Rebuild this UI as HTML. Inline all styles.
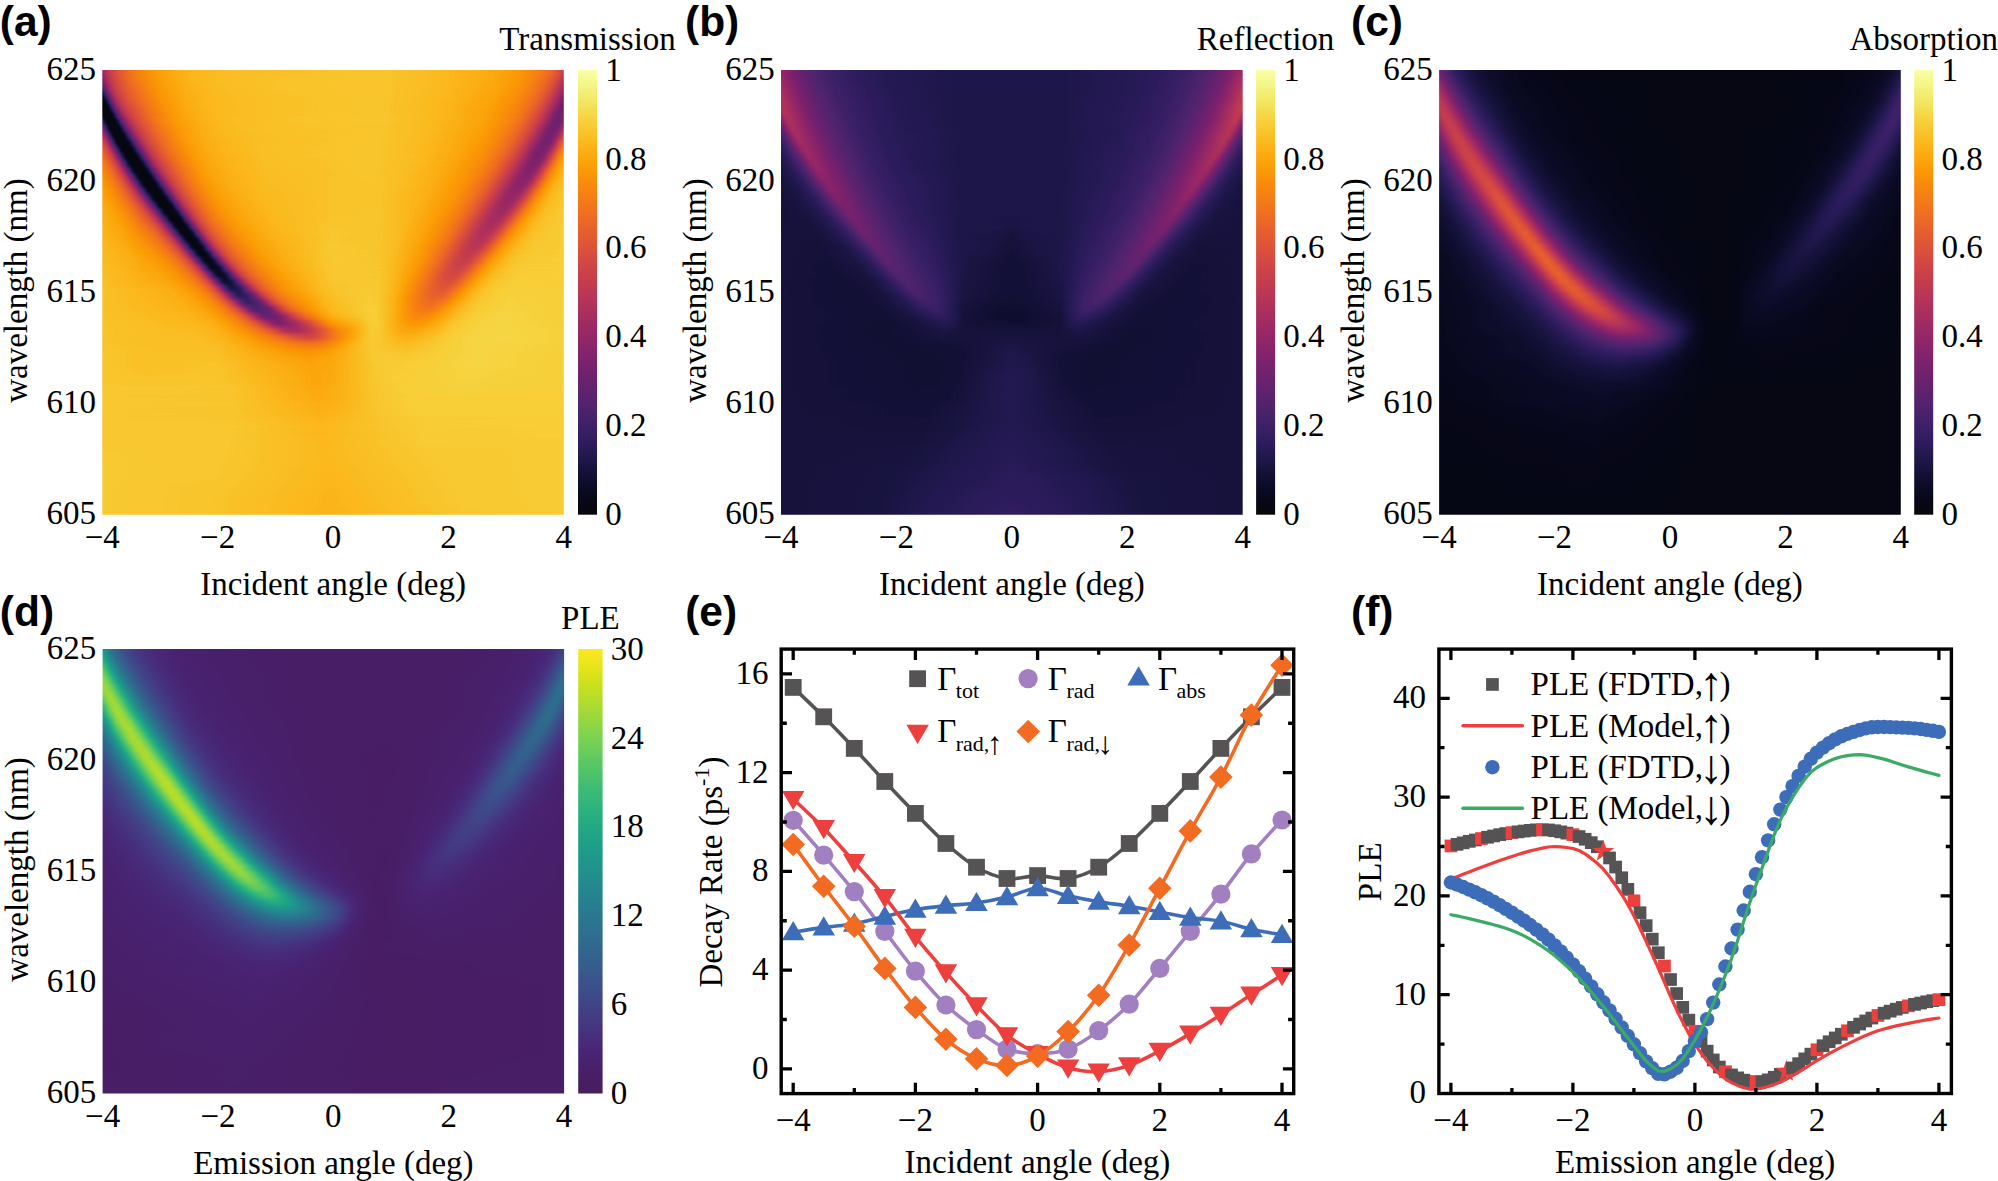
<!DOCTYPE html>
<html lang="en"><head><meta charset="utf-8"><title>Figure</title>
<style>html,body{margin:0;padding:0;background:#fff;overflow:hidden}svg{display:block}text{font-family:"Liberation Serif", serif;fill:#000}.pl{font-family:"Liberation Sans", sans-serif;font-weight:bold}</style>
</head><body>
<svg width="1998" height="1181" viewBox="0 0 1998 1181">
<rect width="1998" height="1181" fill="#fff"/>
<!-- panel a -->
<defs><linearGradient id="a0"><stop offset="0" stop-color="#686868"/><stop offset=".013" stop-color="#808080"/><stop offset=".022" stop-color="#8c8c8c"/><stop offset=".035" stop-color="#9b9b9b"/><stop offset=".056" stop-color="#acacac"/><stop offset=".082" stop-color="#bababa"/><stop offset=".117" stop-color="#c7c7c7"/><stop offset=".152" stop-color="#cfcfcf"/><stop offset=".199" stop-color="#d5d5d5"/><stop offset=".255" stop-color="#d8d8d8"/><stop offset=".602" stop-color="#dcdcdc"/><stop offset=".745" stop-color="#d6d6d6"/><stop offset=".844" stop-color="#cfcfcf"/><stop offset=".905" stop-color="#c5c5c5"/><stop offset=".948" stop-color="#b6b6b6"/><stop offset=".961" stop-color="#afafaf"/><stop offset=".974" stop-color="#a6a6a6"/><stop offset=".987" stop-color="#999999"/><stop offset="1" stop-color="#878787"/></linearGradient><linearGradient id="a1"><stop offset="0" stop-color="#585858"/><stop offset=".004" stop-color="#656565"/><stop offset=".013" stop-color="#797979"/><stop offset=".026" stop-color="#8d8d8d"/><stop offset=".043" stop-color="#9f9f9f"/><stop offset=".069" stop-color="#b1b1b1"/><stop offset=".108" stop-color="#c2c2c2"/><stop offset=".143" stop-color="#cccccc"/><stop offset=".19" stop-color="#d4d4d4"/><stop offset=".251" stop-color="#d8d8d8"/><stop offset=".39" stop-color="#dbdbdb"/><stop offset=".602" stop-color="#dcdcdc"/><stop offset=".749" stop-color="#d6d6d6"/><stop offset=".844" stop-color="#cecece"/><stop offset=".905" stop-color="#c3c3c3"/><stop offset=".926" stop-color="#bcbcbc"/><stop offset=".948" stop-color="#b2b2b2"/><stop offset=".961" stop-color="#aaaaaa"/><stop offset=".974" stop-color="#9e9e9e"/><stop offset=".987" stop-color="#8f8f8f"/><stop offset="1" stop-color="#7b7b7b"/></linearGradient><linearGradient id="a2"><stop offset="0" stop-color="#393939"/><stop offset=".004" stop-color="#4d4d4d"/><stop offset=".009" stop-color="#5f5f5f"/><stop offset=".013" stop-color="#6c6c6c"/><stop offset=".022" stop-color="#808080"/><stop offset=".03" stop-color="#8d8d8d"/><stop offset=".039" stop-color="#969696"/><stop offset=".061" stop-color="#a8a8a8"/><stop offset=".104" stop-color="#bebebe"/><stop offset=".134" stop-color="#c8c8c8"/><stop offset=".182" stop-color="#d2d2d2"/><stop offset=".242" stop-color="#d7d7d7"/><stop offset=".385" stop-color="#dbdbdb"/><stop offset=".602" stop-color="#dcdcdc"/><stop offset=".753" stop-color="#d5d5d5"/><stop offset=".848" stop-color="#cdcdcd"/><stop offset=".905" stop-color="#c1c1c1"/><stop offset=".926" stop-color="#b9b9b9"/><stop offset=".948" stop-color="#adadad"/><stop offset=".961" stop-color="#a3a3a3"/><stop offset=".974" stop-color="#969696"/><stop offset=".987" stop-color="#838383"/><stop offset="1" stop-color="#6d6d6d"/></linearGradient><linearGradient id="a3"><stop offset="0" stop-color="#131313"/><stop offset=".004" stop-color="#272727"/><stop offset=".013" stop-color="#535353"/><stop offset=".017" stop-color="#646464"/><stop offset=".022" stop-color="#717171"/><stop offset=".026" stop-color="#7b7b7b"/><stop offset=".035" stop-color="#8a8a8a"/><stop offset=".052" stop-color="#9c9c9c"/><stop offset=".069" stop-color="#a8a8a8"/><stop offset=".091" stop-color="#b4b4b4"/><stop offset=".126" stop-color="#c4c4c4"/><stop offset=".173" stop-color="#cfcfcf"/><stop offset=".229" stop-color="#d6d6d6"/><stop offset=".372" stop-color="#dadada"/><stop offset=".602" stop-color="#dcdcdc"/><stop offset=".753" stop-color="#d5d5d5"/><stop offset=".848" stop-color="#cbcbcb"/><stop offset=".879" stop-color="#c5c5c5"/><stop offset=".905" stop-color="#bebebe"/><stop offset=".926" stop-color="#b5b5b5"/><stop offset=".944" stop-color="#aaaaaa"/><stop offset=".957" stop-color="#a0a0a0"/><stop offset=".97" stop-color="#919191"/><stop offset=".983" stop-color="#7e7e7e"/><stop offset="1" stop-color="#5e5e5e"/></linearGradient><linearGradient id="a4"><stop offset="0" stop-color="#030303"/><stop offset=".004" stop-color="#080808"/><stop offset=".009" stop-color="#161616"/><stop offset=".022" stop-color="#575757"/><stop offset=".026" stop-color="#676767"/><stop offset=".03" stop-color="#747474"/><stop offset=".039" stop-color="#858585"/><stop offset=".048" stop-color="#909090"/><stop offset=".056" stop-color="#999999"/><stop offset=".069" stop-color="#a2a2a2"/><stop offset=".095" stop-color="#b2b2b2"/><stop offset=".13" stop-color="#c3c3c3"/><stop offset=".173" stop-color="#cecece"/><stop offset=".234" stop-color="#d6d6d6"/><stop offset=".377" stop-color="#dadada"/><stop offset=".602" stop-color="#dcdcdc"/><stop offset=".753" stop-color="#d4d4d4"/><stop offset=".848" stop-color="#cacaca"/><stop offset=".9" stop-color="#bcbcbc"/><stop offset=".922" stop-color="#b2b2b2"/><stop offset=".939" stop-color="#a7a7a7"/><stop offset=".952" stop-color="#9c9c9c"/><stop offset=".965" stop-color="#8c8c8c"/><stop offset=".974" stop-color="#7f7f7f"/><stop offset="1" stop-color="#525252"/></linearGradient><linearGradient id="a5"><stop offset="0" stop-color="#030303"/><stop offset=".009" stop-color="#030303"/><stop offset=".013" stop-color="#0a0a0a"/><stop offset=".017" stop-color="#191919"/><stop offset=".026" stop-color="#464646"/><stop offset=".03" stop-color="#5a5a5a"/><stop offset=".035" stop-color="#696969"/><stop offset=".039" stop-color="#757575"/><stop offset=".043" stop-color="#7e7e7e"/><stop offset=".052" stop-color="#8b8b8b"/><stop offset=".065" stop-color="#989898"/><stop offset=".104" stop-color="#b3b3b3"/><stop offset=".139" stop-color="#c3c3c3"/><stop offset=".182" stop-color="#cfcfcf"/><stop offset=".238" stop-color="#d6d6d6"/><stop offset=".377" stop-color="#dadada"/><stop offset=".602" stop-color="#dcdcdc"/><stop offset=".749" stop-color="#d4d4d4"/><stop offset=".84" stop-color="#cacaca"/><stop offset=".892" stop-color="#bcbcbc"/><stop offset=".913" stop-color="#b3b3b3"/><stop offset=".931" stop-color="#a7a7a7"/><stop offset=".944" stop-color="#9c9c9c"/><stop offset=".957" stop-color="#8d8d8d"/><stop offset=".97" stop-color="#797979"/><stop offset=".991" stop-color="#535353"/><stop offset=".996" stop-color="#4e4e4e"/><stop offset="1" stop-color="#4d4d4d"/></linearGradient><linearGradient id="a6"><stop offset="0" stop-color="#0b0b0b"/><stop offset=".004" stop-color="#030303"/><stop offset=".017" stop-color="#030303"/><stop offset=".022" stop-color="#0b0b0b"/><stop offset=".026" stop-color="#1c1c1c"/><stop offset=".035" stop-color="#484848"/><stop offset=".039" stop-color="#5b5b5b"/><stop offset=".043" stop-color="#696969"/><stop offset=".048" stop-color="#757575"/><stop offset=".056" stop-color="#848484"/><stop offset=".065" stop-color="#8f8f8f"/><stop offset=".074" stop-color="#989898"/><stop offset=".108" stop-color="#b1b1b1"/><stop offset=".143" stop-color="#c2c2c2"/><stop offset=".186" stop-color="#cecece"/><stop offset=".242" stop-color="#d6d6d6"/><stop offset=".381" stop-color="#dadada"/><stop offset=".602" stop-color="#dcdcdc"/><stop offset=".74" stop-color="#d5d5d5"/><stop offset=".831" stop-color="#cacaca"/><stop offset=".883" stop-color="#bcbcbc"/><stop offset=".9" stop-color="#b5b5b5"/><stop offset=".918" stop-color="#aaaaaa"/><stop offset=".935" stop-color="#9c9c9c"/><stop offset=".948" stop-color="#8d8d8d"/><stop offset=".961" stop-color="#7b7b7b"/><stop offset=".978" stop-color="#5c5c5c"/><stop offset=".987" stop-color="#505050"/><stop offset=".996" stop-color="#4f4f4f"/><stop offset="1" stop-color="#515151"/></linearGradient><linearGradient id="a7"><stop offset="0" stop-color="#313131"/><stop offset=".004" stop-color="#1a1a1a"/><stop offset=".009" stop-color="#0a0a0a"/><stop offset=".013" stop-color="#030303"/><stop offset=".026" stop-color="#030303"/><stop offset=".03" stop-color="#0d0d0d"/><stop offset=".035" stop-color="#1e1e1e"/><stop offset=".043" stop-color="#484848"/><stop offset=".048" stop-color="#5a5a5a"/><stop offset=".052" stop-color="#686868"/><stop offset=".056" stop-color="#737373"/><stop offset=".061" stop-color="#7c7c7c"/><stop offset=".069" stop-color="#898989"/><stop offset=".091" stop-color="#9f9f9f"/><stop offset=".108" stop-color="#acacac"/><stop offset=".126" stop-color="#b7b7b7"/><stop offset=".165" stop-color="#c7c7c7"/><stop offset=".216" stop-color="#d2d2d2"/><stop offset=".277" stop-color="#d7d7d7"/><stop offset=".394" stop-color="#dadada"/><stop offset=".602" stop-color="#dcdcdc"/><stop offset=".723" stop-color="#d5d5d5"/><stop offset=".818" stop-color="#cbcbcb"/><stop offset=".848" stop-color="#c5c5c5"/><stop offset=".874" stop-color="#bcbcbc"/><stop offset=".896" stop-color="#b3b3b3"/><stop offset=".913" stop-color="#a7a7a7"/><stop offset=".931" stop-color="#979797"/><stop offset=".944" stop-color="#888888"/><stop offset=".957" stop-color="#747474"/><stop offset=".974" stop-color="#575757"/><stop offset=".978" stop-color="#515151"/><stop offset=".983" stop-color="#4f4f4f"/><stop offset=".991" stop-color="#515151"/><stop offset=".996" stop-color="#575757"/><stop offset="1" stop-color="#5f5f5f"/></linearGradient><linearGradient id="a8"><stop offset="0" stop-color="#5f5f5f"/><stop offset=".013" stop-color="#171717"/><stop offset=".017" stop-color="#080808"/><stop offset=".022" stop-color="#030303"/><stop offset=".035" stop-color="#040404"/><stop offset=".039" stop-color="#0d0d0d"/><stop offset=".043" stop-color="#1e1e1e"/><stop offset=".052" stop-color="#464646"/><stop offset=".056" stop-color="#585858"/><stop offset=".061" stop-color="#666666"/><stop offset=".069" stop-color="#7b7b7b"/><stop offset=".078" stop-color="#888888"/><stop offset=".091" stop-color="#979797"/><stop offset=".121" stop-color="#afafaf"/><stop offset=".143" stop-color="#bbbbbb"/><stop offset=".165" stop-color="#c4c4c4"/><stop offset=".212" stop-color="#d0d0d0"/><stop offset=".26" stop-color="#d6d6d6"/><stop offset=".359" stop-color="#dadada"/><stop offset=".61" stop-color="#dbdbdb"/><stop offset=".714" stop-color="#d6d6d6"/><stop offset=".797" stop-color="#cdcdcd"/><stop offset=".831" stop-color="#c7c7c7"/><stop offset=".857" stop-color="#bfbfbf"/><stop offset=".879" stop-color="#b7b7b7"/><stop offset=".9" stop-color="#aaaaaa"/><stop offset=".918" stop-color="#9c9c9c"/><stop offset=".931" stop-color="#8d8d8d"/><stop offset=".944" stop-color="#7b7b7b"/><stop offset=".965" stop-color="#585858"/><stop offset=".97" stop-color="#535353"/><stop offset=".974" stop-color="#505050"/><stop offset=".983" stop-color="#525252"/><stop offset=".987" stop-color="#565656"/><stop offset=".991" stop-color="#5f5f5f"/><stop offset="1" stop-color="#787878"/></linearGradient><linearGradient id="a9"><stop offset="0" stop-color="#7f7f7f"/><stop offset=".004" stop-color="#707070"/><stop offset=".009" stop-color="#5c5c5c"/><stop offset=".017" stop-color="#2b2b2b"/><stop offset=".022" stop-color="#151515"/><stop offset=".026" stop-color="#070707"/><stop offset=".03" stop-color="#030303"/><stop offset=".039" stop-color="#030303"/><stop offset=".043" stop-color="#040404"/><stop offset=".048" stop-color="#0c0c0c"/><stop offset=".052" stop-color="#1c1c1c"/><stop offset=".065" stop-color="#555555"/><stop offset=".069" stop-color="#636363"/><stop offset=".074" stop-color="#6f6f6f"/><stop offset=".082" stop-color="#818181"/><stop offset=".095" stop-color="#929292"/><stop offset=".121" stop-color="#aaaaaa"/><stop offset=".152" stop-color="#bcbcbc"/><stop offset=".182" stop-color="#c8c8c8"/><stop offset=".225" stop-color="#d2d2d2"/><stop offset=".273" stop-color="#d6d6d6"/><stop offset=".359" stop-color="#d9d9d9"/><stop offset=".593" stop-color="#dcdcdc"/><stop offset=".71" stop-color="#d6d6d6"/><stop offset=".801" stop-color="#cbcbcb"/><stop offset=".831" stop-color="#c5c5c5"/><stop offset=".857" stop-color="#bcbcbc"/><stop offset=".879" stop-color="#b2b2b2"/><stop offset=".896" stop-color="#a7a7a7"/><stop offset=".909" stop-color="#9c9c9c"/><stop offset=".922" stop-color="#8d8d8d"/><stop offset=".935" stop-color="#7b7b7b"/><stop offset=".957" stop-color="#595959"/><stop offset=".965" stop-color="#515151"/><stop offset=".974" stop-color="#525252"/><stop offset=".978" stop-color="#565656"/><stop offset=".983" stop-color="#5e5e5e"/><stop offset=".987" stop-color="#696969"/><stop offset="1" stop-color="#939393"/></linearGradient><linearGradient id="a10"><stop offset="0" stop-color="#959595"/><stop offset=".004" stop-color="#8b8b8b"/><stop offset=".009" stop-color="#7e7e7e"/><stop offset=".013" stop-color="#6d6d6d"/><stop offset=".017" stop-color="#595959"/><stop offset=".026" stop-color="#282828"/><stop offset=".03" stop-color="#131313"/><stop offset=".035" stop-color="#060606"/><stop offset=".039" stop-color="#030303"/><stop offset=".052" stop-color="#030303"/><stop offset=".056" stop-color="#0b0b0b"/><stop offset=".061" stop-color="#191919"/><stop offset=".074" stop-color="#515151"/><stop offset=".078" stop-color="#606060"/><stop offset=".082" stop-color="#6d6d6d"/><stop offset=".091" stop-color="#808080"/><stop offset=".104" stop-color="#929292"/><stop offset=".126" stop-color="#a7a7a7"/><stop offset=".156" stop-color="#bababa"/><stop offset=".186" stop-color="#c7c7c7"/><stop offset=".225" stop-color="#d0d0d0"/><stop offset=".273" stop-color="#d5d5d5"/><stop offset=".355" stop-color="#d9d9d9"/><stop offset=".593" stop-color="#dcdcdc"/><stop offset=".701" stop-color="#d6d6d6"/><stop offset=".788" stop-color="#cccccc"/><stop offset=".818" stop-color="#c6c6c6"/><stop offset=".844" stop-color="#bebebe"/><stop offset=".866" stop-color="#b4b4b4"/><stop offset=".883" stop-color="#aaaaaa"/><stop offset=".9" stop-color="#9c9c9c"/><stop offset=".913" stop-color="#8d8d8d"/><stop offset=".926" stop-color="#7b7b7b"/><stop offset=".944" stop-color="#606060"/><stop offset=".952" stop-color="#555555"/><stop offset=".961" stop-color="#525252"/><stop offset=".97" stop-color="#575757"/><stop offset=".974" stop-color="#5e5e5e"/><stop offset=".978" stop-color="#686868"/><stop offset=".991" stop-color="#929292"/><stop offset="1" stop-color="#ababab"/></linearGradient><linearGradient id="a11"><stop offset="0" stop-color="#a3a3a3"/><stop offset=".009" stop-color="#949494"/><stop offset=".013" stop-color="#898989"/><stop offset=".017" stop-color="#7c7c7c"/><stop offset=".022" stop-color="#6b6b6b"/><stop offset=".026" stop-color="#565656"/><stop offset=".035" stop-color="#262626"/><stop offset=".039" stop-color="#131313"/><stop offset=".043" stop-color="#070707"/><stop offset=".048" stop-color="#030303"/><stop offset=".061" stop-color="#030303"/><stop offset=".065" stop-color="#090909"/><stop offset=".069" stop-color="#151515"/><stop offset=".082" stop-color="#4c4c4c"/><stop offset=".087" stop-color="#5d5d5d"/><stop offset=".091" stop-color="#6a6a6a"/><stop offset=".1" stop-color="#7f7f7f"/><stop offset=".113" stop-color="#929292"/><stop offset=".134" stop-color="#a7a7a7"/><stop offset=".16" stop-color="#b8b8b8"/><stop offset=".19" stop-color="#c5c5c5"/><stop offset=".225" stop-color="#cfcfcf"/><stop offset=".273" stop-color="#d5d5d5"/><stop offset=".351" stop-color="#d9d9d9"/><stop offset=".589" stop-color="#dcdcdc"/><stop offset=".693" stop-color="#d6d6d6"/><stop offset=".775" stop-color="#cdcdcd"/><stop offset=".831" stop-color="#bfbfbf"/><stop offset=".853" stop-color="#b6b6b6"/><stop offset=".87" stop-color="#adadad"/><stop offset=".887" stop-color="#9f9f9f"/><stop offset=".9" stop-color="#929292"/><stop offset=".913" stop-color="#818181"/><stop offset=".939" stop-color="#5b5b5b"/><stop offset=".944" stop-color="#565656"/><stop offset=".952" stop-color="#545454"/><stop offset=".961" stop-color="#585858"/><stop offset=".965" stop-color="#5e5e5e"/><stop offset=".97" stop-color="#686868"/><stop offset=".974" stop-color="#747474"/><stop offset=".983" stop-color="#909090"/><stop offset=".991" stop-color="#a9a9a9"/><stop offset="1" stop-color="#bbbbbb"/></linearGradient><linearGradient id="a12"><stop offset="0" stop-color="#aeaeae"/><stop offset=".013" stop-color="#9b9b9b"/><stop offset=".022" stop-color="#888888"/><stop offset=".026" stop-color="#7a7a7a"/><stop offset=".03" stop-color="#696969"/><stop offset=".035" stop-color="#555555"/><stop offset=".043" stop-color="#272727"/><stop offset=".048" stop-color="#141414"/><stop offset=".052" stop-color="#080808"/><stop offset=".056" stop-color="#030303"/><stop offset=".069" stop-color="#030303"/><stop offset=".074" stop-color="#070707"/><stop offset=".078" stop-color="#111111"/><stop offset=".082" stop-color="#212121"/><stop offset=".095" stop-color="#5a5a5a"/><stop offset=".1" stop-color="#686868"/><stop offset=".108" stop-color="#7e7e7e"/><stop offset=".121" stop-color="#929292"/><stop offset=".143" stop-color="#a7a7a7"/><stop offset=".169" stop-color="#b8b8b8"/><stop offset=".199" stop-color="#c6c6c6"/><stop offset=".229" stop-color="#cecece"/><stop offset=".277" stop-color="#d4d4d4"/><stop offset=".355" stop-color="#d9d9d9"/><stop offset=".589" stop-color="#dcdcdc"/><stop offset=".684" stop-color="#d7d7d7"/><stop offset=".766" stop-color="#cdcdcd"/><stop offset=".823" stop-color="#bfbfbf"/><stop offset=".844" stop-color="#b6b6b6"/><stop offset=".861" stop-color="#acacac"/><stop offset=".879" stop-color="#9f9f9f"/><stop offset=".892" stop-color="#929292"/><stop offset=".905" stop-color="#818181"/><stop offset=".931" stop-color="#5c5c5c"/><stop offset=".935" stop-color="#575757"/><stop offset=".944" stop-color="#555555"/><stop offset=".952" stop-color="#595959"/><stop offset=".957" stop-color="#5f5f5f"/><stop offset=".961" stop-color="#686868"/><stop offset=".965" stop-color="#747474"/><stop offset=".983" stop-color="#a8a8a8"/><stop offset=".991" stop-color="#bbbbbb"/><stop offset="1" stop-color="#c7c7c7"/></linearGradient><linearGradient id="a13"><stop offset="0" stop-color="#b7b7b7"/><stop offset=".009" stop-color="#aeaeae"/><stop offset=".017" stop-color="#a2a2a2"/><stop offset=".026" stop-color="#919191"/><stop offset=".03" stop-color="#868686"/><stop offset=".035" stop-color="#797979"/><stop offset=".039" stop-color="#696969"/><stop offset=".043" stop-color="#565656"/><stop offset=".052" stop-color="#2a2a2a"/><stop offset=".056" stop-color="#161616"/><stop offset=".061" stop-color="#090909"/><stop offset=".065" stop-color="#030303"/><stop offset=".078" stop-color="#030303"/><stop offset=".082" stop-color="#050505"/><stop offset=".087" stop-color="#0d0d0d"/><stop offset=".091" stop-color="#1c1c1c"/><stop offset=".104" stop-color="#565656"/><stop offset=".108" stop-color="#656565"/><stop offset=".113" stop-color="#727272"/><stop offset=".121" stop-color="#848484"/><stop offset=".13" stop-color="#919191"/><stop offset=".152" stop-color="#a6a6a6"/><stop offset=".173" stop-color="#b6b6b6"/><stop offset=".203" stop-color="#c5c5c5"/><stop offset=".234" stop-color="#cecece"/><stop offset=".281" stop-color="#d4d4d4"/><stop offset=".359" stop-color="#d9d9d9"/><stop offset=".589" stop-color="#dcdcdc"/><stop offset=".68" stop-color="#d7d7d7"/><stop offset=".758" stop-color="#cdcdcd"/><stop offset=".814" stop-color="#bfbfbf"/><stop offset=".835" stop-color="#b6b6b6"/><stop offset=".853" stop-color="#acacac"/><stop offset=".87" stop-color="#9e9e9e"/><stop offset=".883" stop-color="#919191"/><stop offset=".922" stop-color="#5d5d5d"/><stop offset=".926" stop-color="#595959"/><stop offset=".935" stop-color="#575757"/><stop offset=".944" stop-color="#5c5c5c"/><stop offset=".948" stop-color="#626262"/><stop offset=".957" stop-color="#757575"/><stop offset=".97" stop-color="#9b9b9b"/><stop offset=".978" stop-color="#b1b1b1"/><stop offset=".987" stop-color="#c1c1c1"/><stop offset="1" stop-color="#cfcfcf"/></linearGradient><linearGradient id="a14"><stop offset="0" stop-color="#bdbdbd"/><stop offset=".013" stop-color="#b2b2b2"/><stop offset=".022" stop-color="#a8a8a8"/><stop offset=".03" stop-color="#9a9a9a"/><stop offset=".039" stop-color="#868686"/><stop offset=".043" stop-color="#7a7a7a"/><stop offset=".048" stop-color="#6a6a6a"/><stop offset=".052" stop-color="#585858"/><stop offset=".065" stop-color="#1a1a1a"/><stop offset=".069" stop-color="#0c0c0c"/><stop offset=".074" stop-color="#040404"/><stop offset=".091" stop-color="#030303"/><stop offset=".095" stop-color="#0a0a0a"/><stop offset=".1" stop-color="#171717"/><stop offset=".113" stop-color="#515151"/><stop offset=".117" stop-color="#626262"/><stop offset=".121" stop-color="#6f6f6f"/><stop offset=".13" stop-color="#828282"/><stop offset=".139" stop-color="#909090"/><stop offset=".156" stop-color="#a2a2a2"/><stop offset=".182" stop-color="#b6b6b6"/><stop offset=".212" stop-color="#c5c5c5"/><stop offset=".238" stop-color="#cdcdcd"/><stop offset=".286" stop-color="#d4d4d4"/><stop offset=".359" stop-color="#d8d8d8"/><stop offset=".584" stop-color="#dcdcdc"/><stop offset=".667" stop-color="#d7d7d7"/><stop offset=".745" stop-color="#cecece"/><stop offset=".801" stop-color="#c0c0c0"/><stop offset=".823" stop-color="#b8b8b8"/><stop offset=".84" stop-color="#aeaeae"/><stop offset=".857" stop-color="#a2a2a2"/><stop offset=".87" stop-color="#959595"/><stop offset=".883" stop-color="#868686"/><stop offset=".913" stop-color="#5e5e5e"/><stop offset=".918" stop-color="#5b5b5b"/><stop offset=".926" stop-color="#5a5a5a"/><stop offset=".935" stop-color="#5f5f5f"/><stop offset=".944" stop-color="#6d6d6d"/><stop offset=".965" stop-color="#a7a7a7"/><stop offset=".974" stop-color="#b9b9b9"/><stop offset=".987" stop-color="#cbcbcb"/><stop offset="1" stop-color="#d4d4d4"/></linearGradient><linearGradient id="a15"><stop offset="0" stop-color="#c2c2c2"/><stop offset=".013" stop-color="#b9b9b9"/><stop offset=".022" stop-color="#b1b1b1"/><stop offset=".03" stop-color="#a7a7a7"/><stop offset=".039" stop-color="#9a9a9a"/><stop offset=".048" stop-color="#878787"/><stop offset=".056" stop-color="#6d6d6d"/><stop offset=".061" stop-color="#5c5c5c"/><stop offset=".074" stop-color="#202020"/><stop offset=".078" stop-color="#101010"/><stop offset=".082" stop-color="#060606"/><stop offset=".087" stop-color="#030303"/><stop offset=".1" stop-color="#030303"/><stop offset=".104" stop-color="#070707"/><stop offset=".108" stop-color="#121212"/><stop offset=".113" stop-color="#232323"/><stop offset=".121" stop-color="#4b4b4b"/><stop offset=".126" stop-color="#5d5d5d"/><stop offset=".13" stop-color="#6b6b6b"/><stop offset=".139" stop-color="#808080"/><stop offset=".147" stop-color="#8e8e8e"/><stop offset=".165" stop-color="#a2a2a2"/><stop offset=".186" stop-color="#b3b3b3"/><stop offset=".216" stop-color="#c4c4c4"/><stop offset=".242" stop-color="#cccccc"/><stop offset=".29" stop-color="#d3d3d3"/><stop offset=".364" stop-color="#d8d8d8"/><stop offset=".576" stop-color="#dcdcdc"/><stop offset=".641" stop-color="#d9d9d9"/><stop offset=".732" stop-color="#cfcfcf"/><stop offset=".788" stop-color="#c2c2c2"/><stop offset=".81" stop-color="#bababa"/><stop offset=".831" stop-color="#aeaeae"/><stop offset=".848" stop-color="#a1a1a1"/><stop offset=".861" stop-color="#959595"/><stop offset=".9" stop-color="#646464"/><stop offset=".905" stop-color="#606060"/><stop offset=".913" stop-color="#5d5d5d"/><stop offset=".922" stop-color="#5e5e5e"/><stop offset=".931" stop-color="#686868"/><stop offset=".939" stop-color="#7b7b7b"/><stop offset=".957" stop-color="#a7a7a7"/><stop offset=".97" stop-color="#c0c0c0"/><stop offset=".983" stop-color="#cecece"/><stop offset="1" stop-color="#d8d8d8"/></linearGradient><linearGradient id="a16"><stop offset="0" stop-color="#c6c6c6"/><stop offset=".013" stop-color="#bfbfbf"/><stop offset=".026" stop-color="#b5b5b5"/><stop offset=".039" stop-color="#a7a7a7"/><stop offset=".048" stop-color="#9a9a9a"/><stop offset=".056" stop-color="#898989"/><stop offset=".065" stop-color="#717171"/><stop offset=".069" stop-color="#616161"/><stop offset=".074" stop-color="#4f4f4f"/><stop offset=".082" stop-color="#262626"/><stop offset=".087" stop-color="#151515"/><stop offset=".091" stop-color="#090909"/><stop offset=".095" stop-color="#030303"/><stop offset=".108" stop-color="#030303"/><stop offset=".113" stop-color="#040404"/><stop offset=".117" stop-color="#0d0d0d"/><stop offset=".121" stop-color="#1c1c1c"/><stop offset=".134" stop-color="#565656"/><stop offset=".139" stop-color="#666666"/><stop offset=".147" stop-color="#7d7d7d"/><stop offset=".156" stop-color="#8d8d8d"/><stop offset=".173" stop-color="#a1a1a1"/><stop offset=".195" stop-color="#b3b3b3"/><stop offset=".221" stop-color="#c2c2c2"/><stop offset=".247" stop-color="#cbcbcb"/><stop offset=".286" stop-color="#d2d2d2"/><stop offset=".346" stop-color="#d7d7d7"/><stop offset=".502" stop-color="#dbdbdb"/><stop offset=".61" stop-color="#dbdbdb"/><stop offset=".667" stop-color="#d7d7d7"/><stop offset=".719" stop-color="#d0d0d0"/><stop offset=".775" stop-color="#c3c3c3"/><stop offset=".797" stop-color="#bbbbbb"/><stop offset=".818" stop-color="#b0b0b0"/><stop offset=".835" stop-color="#a4a4a4"/><stop offset=".848" stop-color="#989898"/><stop offset=".892" stop-color="#646464"/><stop offset=".896" stop-color="#616161"/><stop offset=".905" stop-color="#606060"/><stop offset=".913" stop-color="#626262"/><stop offset=".922" stop-color="#6d6d6d"/><stop offset=".931" stop-color="#7f7f7f"/><stop offset=".948" stop-color="#a9a9a9"/><stop offset=".961" stop-color="#c0c0c0"/><stop offset=".97" stop-color="#cacaca"/><stop offset=".978" stop-color="#d1d1d1"/><stop offset="1" stop-color="#dadada"/></linearGradient><linearGradient id="a17"><stop offset="0" stop-color="#cacaca"/><stop offset=".017" stop-color="#c2c2c2"/><stop offset=".03" stop-color="#b9b9b9"/><stop offset=".043" stop-color="#adadad"/><stop offset=".056" stop-color="#9c9c9c"/><stop offset=".065" stop-color="#8c8c8c"/><stop offset=".074" stop-color="#757575"/><stop offset=".082" stop-color="#565656"/><stop offset=".095" stop-color="#1d1d1d"/><stop offset=".1" stop-color="#0f0f0f"/><stop offset=".104" stop-color="#050505"/><stop offset=".108" stop-color="#030303"/><stop offset=".121" stop-color="#030303"/><stop offset=".126" stop-color="#080808"/><stop offset=".13" stop-color="#141414"/><stop offset=".134" stop-color="#262626"/><stop offset=".143" stop-color="#4f4f4f"/><stop offset=".147" stop-color="#616161"/><stop offset=".152" stop-color="#6f6f6f"/><stop offset=".156" stop-color="#7a7a7a"/><stop offset=".165" stop-color="#8b8b8b"/><stop offset=".182" stop-color="#a1a1a1"/><stop offset=".203" stop-color="#b3b3b3"/><stop offset=".225" stop-color="#c0c0c0"/><stop offset=".251" stop-color="#cacaca"/><stop offset=".29" stop-color="#d1d1d1"/><stop offset=".346" stop-color="#d6d6d6"/><stop offset=".498" stop-color="#dbdbdb"/><stop offset=".606" stop-color="#dbdbdb"/><stop offset=".706" stop-color="#d1d1d1"/><stop offset=".762" stop-color="#c5c5c5"/><stop offset=".784" stop-color="#bdbdbd"/><stop offset=".805" stop-color="#b2b2b2"/><stop offset=".823" stop-color="#a7a7a7"/><stop offset=".84" stop-color="#989898"/><stop offset=".874" stop-color="#6e6e6e"/><stop offset=".883" stop-color="#666666"/><stop offset=".896" stop-color="#636363"/><stop offset=".905" stop-color="#666666"/><stop offset=".913" stop-color="#727272"/><stop offset=".939" stop-color="#acacac"/><stop offset=".948" stop-color="#bababa"/><stop offset=".957" stop-color="#c6c6c6"/><stop offset=".974" stop-color="#d4d4d4"/><stop offset="1" stop-color="#dcdcdc"/></linearGradient><linearGradient id="a18"><stop offset="0" stop-color="#cccccc"/><stop offset=".017" stop-color="#c6c6c6"/><stop offset=".035" stop-color="#bcbcbc"/><stop offset=".052" stop-color="#adadad"/><stop offset=".065" stop-color="#9d9d9d"/><stop offset=".078" stop-color="#858585"/><stop offset=".087" stop-color="#6e6e6e"/><stop offset=".095" stop-color="#4d4d4d"/><stop offset=".104" stop-color="#272727"/><stop offset=".108" stop-color="#161616"/><stop offset=".113" stop-color="#0a0a0a"/><stop offset=".117" stop-color="#030303"/><stop offset=".13" stop-color="#030303"/><stop offset=".134" stop-color="#040404"/><stop offset=".139" stop-color="#0d0d0d"/><stop offset=".143" stop-color="#1d1d1d"/><stop offset=".156" stop-color="#5a5a5a"/><stop offset=".16" stop-color="#6a6a6a"/><stop offset=".165" stop-color="#767676"/><stop offset=".169" stop-color="#808080"/><stop offset=".177" stop-color="#909090"/><stop offset=".195" stop-color="#a4a4a4"/><stop offset=".216" stop-color="#b6b6b6"/><stop offset=".238" stop-color="#c2c2c2"/><stop offset=".26" stop-color="#c9c9c9"/><stop offset=".299" stop-color="#d1d1d1"/><stop offset=".351" stop-color="#d6d6d6"/><stop offset=".498" stop-color="#dbdbdb"/><stop offset=".606" stop-color="#dbdbdb"/><stop offset=".697" stop-color="#d2d2d2"/><stop offset=".758" stop-color="#c4c4c4"/><stop offset=".779" stop-color="#bbbbbb"/><stop offset=".797" stop-color="#b2b2b2"/><stop offset=".814" stop-color="#a6a6a6"/><stop offset=".827" stop-color="#9b9b9b"/><stop offset=".87" stop-color="#6b6b6b"/><stop offset=".874" stop-color="#686868"/><stop offset=".883" stop-color="#666666"/><stop offset=".892" stop-color="#686868"/><stop offset=".9" stop-color="#707070"/><stop offset=".909" stop-color="#808080"/><stop offset=".931" stop-color="#aeaeae"/><stop offset=".939" stop-color="#bcbcbc"/><stop offset=".948" stop-color="#c6c6c6"/><stop offset=".957" stop-color="#cecece"/><stop offset=".97" stop-color="#d6d6d6"/><stop offset="1" stop-color="#dddddd"/></linearGradient><linearGradient id="a19"><stop offset="0" stop-color="#cfcfcf"/><stop offset=".022" stop-color="#c8c8c8"/><stop offset=".043" stop-color="#bcbcbc"/><stop offset=".061" stop-color="#aeaeae"/><stop offset=".074" stop-color="#a0a0a0"/><stop offset=".087" stop-color="#8a8a8a"/><stop offset=".095" stop-color="#767676"/><stop offset=".104" stop-color="#595959"/><stop offset=".117" stop-color="#212121"/><stop offset=".121" stop-color="#111111"/><stop offset=".126" stop-color="#070707"/><stop offset=".13" stop-color="#030303"/><stop offset=".143" stop-color="#030303"/><stop offset=".147" stop-color="#080808"/><stop offset=".152" stop-color="#141414"/><stop offset=".156" stop-color="#272727"/><stop offset=".165" stop-color="#525252"/><stop offset=".169" stop-color="#636363"/><stop offset=".173" stop-color="#727272"/><stop offset=".177" stop-color="#7d7d7d"/><stop offset=".186" stop-color="#8d8d8d"/><stop offset=".203" stop-color="#a3a3a3"/><stop offset=".225" stop-color="#b6b6b6"/><stop offset=".247" stop-color="#c2c2c2"/><stop offset=".273" stop-color="#cacaca"/><stop offset=".307" stop-color="#d0d0d0"/><stop offset=".359" stop-color="#d6d6d6"/><stop offset=".498" stop-color="#dbdbdb"/><stop offset=".602" stop-color="#dbdbdb"/><stop offset=".688" stop-color="#d2d2d2"/><stop offset=".745" stop-color="#c5c5c5"/><stop offset=".766" stop-color="#bdbdbd"/><stop offset=".784" stop-color="#b4b4b4"/><stop offset=".801" stop-color="#a9a9a9"/><stop offset=".818" stop-color="#9a9a9a"/><stop offset=".857" stop-color="#6f6f6f"/><stop offset=".866" stop-color="#6a6a6a"/><stop offset=".874" stop-color="#696969"/><stop offset=".883" stop-color="#6c6c6c"/><stop offset=".892" stop-color="#767676"/><stop offset=".922" stop-color="#b2b2b2"/><stop offset=".931" stop-color="#bebebe"/><stop offset=".939" stop-color="#c8c8c8"/><stop offset=".952" stop-color="#d1d1d1"/><stop offset=".965" stop-color="#d7d7d7"/><stop offset="1" stop-color="#dedede"/></linearGradient><linearGradient id="a20"><stop offset="0" stop-color="#d1d1d1"/><stop offset=".026" stop-color="#c9c9c9"/><stop offset=".052" stop-color="#bdbdbd"/><stop offset=".069" stop-color="#b0b0b0"/><stop offset=".087" stop-color="#9d9d9d"/><stop offset=".1" stop-color="#888888"/><stop offset=".108" stop-color="#737373"/><stop offset=".113" stop-color="#656565"/><stop offset=".117" stop-color="#555555"/><stop offset=".13" stop-color="#1c1c1c"/><stop offset=".134" stop-color="#0d0d0d"/><stop offset=".139" stop-color="#050505"/><stop offset=".152" stop-color="#030303"/><stop offset=".156" stop-color="#040404"/><stop offset=".16" stop-color="#0d0d0d"/><stop offset=".165" stop-color="#1d1d1d"/><stop offset=".177" stop-color="#5b5b5b"/><stop offset=".182" stop-color="#6c6c6c"/><stop offset=".186" stop-color="#787878"/><stop offset=".19" stop-color="#828282"/><stop offset=".199" stop-color="#929292"/><stop offset=".216" stop-color="#a7a7a7"/><stop offset=".234" stop-color="#b5b5b5"/><stop offset=".255" stop-color="#c1c1c1"/><stop offset=".281" stop-color="#c9c9c9"/><stop offset=".316" stop-color="#d0d0d0"/><stop offset=".364" stop-color="#d6d6d6"/><stop offset=".498" stop-color="#dbdbdb"/><stop offset=".597" stop-color="#dcdcdc"/><stop offset=".675" stop-color="#d3d3d3"/><stop offset=".727" stop-color="#c8c8c8"/><stop offset=".753" stop-color="#bfbfbf"/><stop offset=".771" stop-color="#b7b7b7"/><stop offset=".788" stop-color="#acacac"/><stop offset=".805" stop-color="#9e9e9e"/><stop offset=".848" stop-color="#717171"/><stop offset=".861" stop-color="#6c6c6c"/><stop offset=".87" stop-color="#6e6e6e"/><stop offset=".879" stop-color="#767676"/><stop offset=".887" stop-color="#848484"/><stop offset=".909" stop-color="#aeaeae"/><stop offset=".918" stop-color="#bbbbbb"/><stop offset=".931" stop-color="#c9c9c9"/><stop offset=".944" stop-color="#d2d2d2"/><stop offset=".961" stop-color="#d9d9d9"/><stop offset="1" stop-color="#dedede"/></linearGradient><linearGradient id="a21"><stop offset="0" stop-color="#d2d2d2"/><stop offset=".03" stop-color="#cbcbcb"/><stop offset=".056" stop-color="#c0c0c0"/><stop offset=".078" stop-color="#b1b1b1"/><stop offset=".1" stop-color="#9c9c9c"/><stop offset=".113" stop-color="#878787"/><stop offset=".121" stop-color="#717171"/><stop offset=".126" stop-color="#626262"/><stop offset=".13" stop-color="#515151"/><stop offset=".139" stop-color="#292929"/><stop offset=".143" stop-color="#171717"/><stop offset=".147" stop-color="#0a0a0a"/><stop offset=".152" stop-color="#030303"/><stop offset=".165" stop-color="#030303"/><stop offset=".169" stop-color="#070707"/><stop offset=".173" stop-color="#131313"/><stop offset=".177" stop-color="#262626"/><stop offset=".186" stop-color="#515151"/><stop offset=".19" stop-color="#646464"/><stop offset=".195" stop-color="#737373"/><stop offset=".199" stop-color="#7e7e7e"/><stop offset=".208" stop-color="#909090"/><stop offset=".216" stop-color="#9c9c9c"/><stop offset=".225" stop-color="#a6a6a6"/><stop offset=".242" stop-color="#b5b5b5"/><stop offset=".264" stop-color="#c0c0c0"/><stop offset=".29" stop-color="#c9c9c9"/><stop offset=".325" stop-color="#d0d0d0"/><stop offset=".368" stop-color="#d5d5d5"/><stop offset=".498" stop-color="#dbdbdb"/><stop offset=".597" stop-color="#dcdcdc"/><stop offset=".662" stop-color="#d5d5d5"/><stop offset=".714" stop-color="#cacaca"/><stop offset=".758" stop-color="#b9b9b9"/><stop offset=".775" stop-color="#afafaf"/><stop offset=".792" stop-color="#a1a1a1"/><stop offset=".835" stop-color="#757575"/><stop offset=".844" stop-color="#717171"/><stop offset=".853" stop-color="#707070"/><stop offset=".861" stop-color="#737373"/><stop offset=".87" stop-color="#7c7c7c"/><stop offset=".9" stop-color="#b2b2b2"/><stop offset=".909" stop-color="#bebebe"/><stop offset=".922" stop-color="#cbcbcb"/><stop offset=".935" stop-color="#d3d3d3"/><stop offset=".952" stop-color="#d9d9d9"/><stop offset=".974" stop-color="#dddddd"/><stop offset="1" stop-color="#dfdfdf"/></linearGradient><linearGradient id="a22"><stop offset="0" stop-color="#d3d3d3"/><stop offset=".035" stop-color="#cccccc"/><stop offset=".065" stop-color="#c0c0c0"/><stop offset=".095" stop-color="#adadad"/><stop offset=".113" stop-color="#9c9c9c"/><stop offset=".121" stop-color="#8f8f8f"/><stop offset=".126" stop-color="#868686"/><stop offset=".134" stop-color="#6f6f6f"/><stop offset=".139" stop-color="#606060"/><stop offset=".143" stop-color="#4e4e4e"/><stop offset=".152" stop-color="#252525"/><stop offset=".156" stop-color="#141414"/><stop offset=".16" stop-color="#080808"/><stop offset=".165" stop-color="#030303"/><stop offset=".173" stop-color="#030303"/><stop offset=".177" stop-color="#040404"/><stop offset=".182" stop-color="#0b0b0b"/><stop offset=".186" stop-color="#1a1a1a"/><stop offset=".199" stop-color="#5a5a5a"/><stop offset=".203" stop-color="#6c6c6c"/><stop offset=".208" stop-color="#797979"/><stop offset=".212" stop-color="#848484"/><stop offset=".221" stop-color="#949494"/><stop offset=".234" stop-color="#a5a5a5"/><stop offset=".251" stop-color="#b3b3b3"/><stop offset=".273" stop-color="#bfbfbf"/><stop offset=".299" stop-color="#c8c8c8"/><stop offset=".333" stop-color="#cfcfcf"/><stop offset=".372" stop-color="#d5d5d5"/><stop offset=".498" stop-color="#dcdcdc"/><stop offset=".593" stop-color="#dcdcdc"/><stop offset=".645" stop-color="#d7d7d7"/><stop offset=".706" stop-color="#cacaca"/><stop offset=".749" stop-color="#b9b9b9"/><stop offset=".779" stop-color="#a4a4a4"/><stop offset=".823" stop-color="#797979"/><stop offset=".831" stop-color="#757575"/><stop offset=".84" stop-color="#737373"/><stop offset=".848" stop-color="#757575"/><stop offset=".857" stop-color="#7d7d7d"/><stop offset=".866" stop-color="#8a8a8a"/><stop offset=".883" stop-color="#a9a9a9"/><stop offset=".892" stop-color="#b6b6b6"/><stop offset=".9" stop-color="#c1c1c1"/><stop offset=".913" stop-color="#cccccc"/><stop offset=".931" stop-color="#d5d5d5"/><stop offset=".948" stop-color="#dadada"/><stop offset="1" stop-color="#dfdfdf"/></linearGradient><linearGradient id="a23"><stop offset="0" stop-color="#d4d4d4"/><stop offset=".039" stop-color="#cdcdcd"/><stop offset=".069" stop-color="#c3c3c3"/><stop offset=".1" stop-color="#b4b4b4"/><stop offset=".113" stop-color="#aaaaaa"/><stop offset=".121" stop-color="#a2a2a2"/><stop offset=".134" stop-color="#8f8f8f"/><stop offset=".143" stop-color="#7b7b7b"/><stop offset=".147" stop-color="#6e6e6e"/><stop offset=".152" stop-color="#5d5d5d"/><stop offset=".165" stop-color="#212121"/><stop offset=".169" stop-color="#111111"/><stop offset=".173" stop-color="#070707"/><stop offset=".177" stop-color="#030303"/><stop offset=".186" stop-color="#030303"/><stop offset=".19" stop-color="#060606"/><stop offset=".195" stop-color="#101010"/><stop offset=".199" stop-color="#212121"/><stop offset=".208" stop-color="#4f4f4f"/><stop offset=".212" stop-color="#636363"/><stop offset=".216" stop-color="#737373"/><stop offset=".221" stop-color="#808080"/><stop offset=".229" stop-color="#929292"/><stop offset=".242" stop-color="#a3a3a3"/><stop offset=".264" stop-color="#b4b4b4"/><stop offset=".286" stop-color="#c0c0c0"/><stop offset=".312" stop-color="#c8c8c8"/><stop offset=".342" stop-color="#cfcfcf"/><stop offset=".377" stop-color="#d4d4d4"/><stop offset=".498" stop-color="#dddddd"/><stop offset=".593" stop-color="#dcdcdc"/><stop offset=".636" stop-color="#d8d8d8"/><stop offset=".693" stop-color="#cccccc"/><stop offset=".732" stop-color="#bdbdbd"/><stop offset=".749" stop-color="#b4b4b4"/><stop offset=".766" stop-color="#a8a8a8"/><stop offset=".814" stop-color="#7b7b7b"/><stop offset=".823" stop-color="#777777"/><stop offset=".831" stop-color="#777777"/><stop offset=".84" stop-color="#7a7a7a"/><stop offset=".844" stop-color="#7e7e7e"/><stop offset=".853" stop-color="#8a8a8a"/><stop offset=".879" stop-color="#b5b5b5"/><stop offset=".892" stop-color="#c4c4c4"/><stop offset=".905" stop-color="#cecece"/><stop offset=".922" stop-color="#d6d6d6"/><stop offset=".939" stop-color="#dbdbdb"/><stop offset=".965" stop-color="#dedede"/><stop offset="1" stop-color="#dfdfdf"/></linearGradient><linearGradient id="a24"><stop offset="0" stop-color="#d5d5d5"/><stop offset=".035" stop-color="#d0d0d0"/><stop offset=".069" stop-color="#c7c7c7"/><stop offset=".108" stop-color="#b7b7b7"/><stop offset=".121" stop-color="#afafaf"/><stop offset=".13" stop-color="#a7a7a7"/><stop offset=".143" stop-color="#969696"/><stop offset=".152" stop-color="#868686"/><stop offset=".16" stop-color="#6d6d6d"/><stop offset=".165" stop-color="#5c5c5c"/><stop offset=".177" stop-color="#1f1f1f"/><stop offset=".182" stop-color="#0f0f0f"/><stop offset=".186" stop-color="#060606"/><stop offset=".19" stop-color="#030303"/><stop offset=".195" stop-color="#030303"/><stop offset=".199" stop-color="#040404"/><stop offset=".203" stop-color="#090909"/><stop offset=".208" stop-color="#161616"/><stop offset=".212" stop-color="#2a2a2a"/><stop offset=".221" stop-color="#595959"/><stop offset=".225" stop-color="#6b6b6b"/><stop offset=".229" stop-color="#7a7a7a"/><stop offset=".234" stop-color="#858585"/><stop offset=".242" stop-color="#959595"/><stop offset=".255" stop-color="#a4a4a4"/><stop offset=".277" stop-color="#b5b5b5"/><stop offset=".299" stop-color="#c0c0c0"/><stop offset=".325" stop-color="#c9c9c9"/><stop offset=".381" stop-color="#d3d3d3"/><stop offset=".459" stop-color="#d9d9d9"/><stop offset=".498" stop-color="#dddddd"/><stop offset=".541" stop-color="#dbdbdb"/><stop offset=".593" stop-color="#dcdcdc"/><stop offset=".632" stop-color="#d8d8d8"/><stop offset=".684" stop-color="#cdcdcd"/><stop offset=".723" stop-color="#bebebe"/><stop offset=".758" stop-color="#a8a8a8"/><stop offset=".801" stop-color="#7f7f7f"/><stop offset=".81" stop-color="#7b7b7b"/><stop offset=".818" stop-color="#7a7a7a"/><stop offset=".827" stop-color="#7d7d7d"/><stop offset=".835" stop-color="#848484"/><stop offset=".87" stop-color="#b9b9b9"/><stop offset=".883" stop-color="#c7c7c7"/><stop offset=".896" stop-color="#d0d0d0"/><stop offset=".913" stop-color="#d7d7d7"/><stop offset=".935" stop-color="#dcdcdc"/><stop offset="1" stop-color="#dfdfdf"/></linearGradient><linearGradient id="a25"><stop offset="0" stop-color="#d6d6d6"/><stop offset=".048" stop-color="#d0d0d0"/><stop offset=".095" stop-color="#c3c3c3"/><stop offset=".121" stop-color="#b8b8b8"/><stop offset=".143" stop-color="#a8a8a8"/><stop offset=".156" stop-color="#979797"/><stop offset=".165" stop-color="#868686"/><stop offset=".169" stop-color="#7a7a7a"/><stop offset=".173" stop-color="#6c6c6c"/><stop offset=".177" stop-color="#5b5b5b"/><stop offset=".19" stop-color="#1d1d1d"/><stop offset=".195" stop-color="#0e0e0e"/><stop offset=".199" stop-color="#060606"/><stop offset=".203" stop-color="#040404"/><stop offset=".212" stop-color="#060606"/><stop offset=".216" stop-color="#0d0d0d"/><stop offset=".221" stop-color="#1d1d1d"/><stop offset=".229" stop-color="#4b4b4b"/><stop offset=".234" stop-color="#606060"/><stop offset=".238" stop-color="#717171"/><stop offset=".242" stop-color="#7e7e7e"/><stop offset=".247" stop-color="#888888"/><stop offset=".255" stop-color="#969696"/><stop offset=".273" stop-color="#a9a9a9"/><stop offset=".29" stop-color="#b6b6b6"/><stop offset=".312" stop-color="#c0c0c0"/><stop offset=".338" stop-color="#c9c9c9"/><stop offset=".385" stop-color="#d2d2d2"/><stop offset=".498" stop-color="#dedede"/><stop offset=".593" stop-color="#dcdcdc"/><stop offset=".632" stop-color="#d8d8d8"/><stop offset=".68" stop-color="#cccccc"/><stop offset=".714" stop-color="#bebebe"/><stop offset=".749" stop-color="#a8a8a8"/><stop offset=".788" stop-color="#848484"/><stop offset=".797" stop-color="#7f7f7f"/><stop offset=".805" stop-color="#7e7e7e"/><stop offset=".814" stop-color="#7f7f7f"/><stop offset=".823" stop-color="#868686"/><stop offset=".831" stop-color="#919191"/><stop offset=".853" stop-color="#b3b3b3"/><stop offset=".861" stop-color="#bebebe"/><stop offset=".874" stop-color="#cacaca"/><stop offset=".887" stop-color="#d2d2d2"/><stop offset=".905" stop-color="#d8d8d8"/><stop offset=".931" stop-color="#dddddd"/><stop offset="1" stop-color="#dfdfdf"/></linearGradient><linearGradient id="a26"><stop offset="0" stop-color="#d7d7d7"/><stop offset=".052" stop-color="#d1d1d1"/><stop offset=".108" stop-color="#c4c4c4"/><stop offset=".134" stop-color="#b9b9b9"/><stop offset=".156" stop-color="#a9a9a9"/><stop offset=".169" stop-color="#989898"/><stop offset=".177" stop-color="#878787"/><stop offset=".182" stop-color="#7b7b7b"/><stop offset=".186" stop-color="#6d6d6d"/><stop offset=".19" stop-color="#5b5b5b"/><stop offset=".203" stop-color="#1d1d1d"/><stop offset=".208" stop-color="#0e0e0e"/><stop offset=".212" stop-color="#070707"/><stop offset=".216" stop-color="#050505"/><stop offset=".225" stop-color="#090909"/><stop offset=".229" stop-color="#121212"/><stop offset=".234" stop-color="#232323"/><stop offset=".242" stop-color="#505050"/><stop offset=".247" stop-color="#646464"/><stop offset=".251" stop-color="#737373"/><stop offset=".26" stop-color="#898989"/><stop offset=".268" stop-color="#979797"/><stop offset=".281" stop-color="#a6a6a6"/><stop offset=".299" stop-color="#b3b3b3"/><stop offset=".325" stop-color="#c0c0c0"/><stop offset=".351" stop-color="#c9c9c9"/><stop offset=".39" stop-color="#d1d1d1"/><stop offset=".498" stop-color="#dedede"/><stop offset=".593" stop-color="#dcdcdc"/><stop offset=".628" stop-color="#d8d8d8"/><stop offset=".671" stop-color="#cdcdcd"/><stop offset=".706" stop-color="#bfbfbf"/><stop offset=".736" stop-color="#ababab"/><stop offset=".779" stop-color="#868686"/><stop offset=".797" stop-color="#828282"/><stop offset=".805" stop-color="#858585"/><stop offset=".814" stop-color="#8d8d8d"/><stop offset=".84" stop-color="#b2b2b2"/><stop offset=".853" stop-color="#c2c2c2"/><stop offset=".866" stop-color="#cccccc"/><stop offset=".879" stop-color="#d3d3d3"/><stop offset=".896" stop-color="#d9d9d9"/><stop offset=".922" stop-color="#dddddd"/><stop offset="1" stop-color="#e0e0e0"/></linearGradient><linearGradient id="a27"><stop offset="0" stop-color="#d7d7d7"/><stop offset=".056" stop-color="#d2d2d2"/><stop offset=".117" stop-color="#c6c6c6"/><stop offset=".143" stop-color="#bdbdbd"/><stop offset=".165" stop-color="#aeaeae"/><stop offset=".177" stop-color="#a0a0a0"/><stop offset=".186" stop-color="#929292"/><stop offset=".19" stop-color="#888888"/><stop offset=".195" stop-color="#7c7c7c"/><stop offset=".199" stop-color="#6e6e6e"/><stop offset=".203" stop-color="#5c5c5c"/><stop offset=".216" stop-color="#1d1d1d"/><stop offset=".221" stop-color="#0f0f0f"/><stop offset=".225" stop-color="#080808"/><stop offset=".229" stop-color="#070707"/><stop offset=".234" stop-color="#080808"/><stop offset=".238" stop-color="#0c0c0c"/><stop offset=".242" stop-color="#151515"/><stop offset=".247" stop-color="#262626"/><stop offset=".255" stop-color="#515151"/><stop offset=".26" stop-color="#646464"/><stop offset=".264" stop-color="#737373"/><stop offset=".273" stop-color="#898989"/><stop offset=".281" stop-color="#979797"/><stop offset=".294" stop-color="#a6a6a6"/><stop offset=".312" stop-color="#b3b3b3"/><stop offset=".338" stop-color="#c1c1c1"/><stop offset=".364" stop-color="#c9c9c9"/><stop offset=".398" stop-color="#d1d1d1"/><stop offset=".498" stop-color="#dedede"/><stop offset=".593" stop-color="#dcdcdc"/><stop offset=".623" stop-color="#d8d8d8"/><stop offset=".662" stop-color="#cecece"/><stop offset=".697" stop-color="#c0c0c0"/><stop offset=".723" stop-color="#afafaf"/><stop offset=".766" stop-color="#8b8b8b"/><stop offset=".784" stop-color="#868686"/><stop offset=".792" stop-color="#888888"/><stop offset=".801" stop-color="#8f8f8f"/><stop offset=".835" stop-color="#bdbdbd"/><stop offset=".848" stop-color="#c9c9c9"/><stop offset=".866" stop-color="#d3d3d3"/><stop offset=".887" stop-color="#dadada"/><stop offset=".913" stop-color="#dedede"/><stop offset="1" stop-color="#e0e0e0"/></linearGradient><linearGradient id="a28"><stop offset="0" stop-color="#d8d8d8"/><stop offset=".052" stop-color="#d3d3d3"/><stop offset=".121" stop-color="#c9c9c9"/><stop offset=".152" stop-color="#c0c0c0"/><stop offset=".165" stop-color="#b9b9b9"/><stop offset=".177" stop-color="#b0b0b0"/><stop offset=".19" stop-color="#a2a2a2"/><stop offset=".199" stop-color="#949494"/><stop offset=".203" stop-color="#8a8a8a"/><stop offset=".208" stop-color="#7f7f7f"/><stop offset=".212" stop-color="#707070"/><stop offset=".216" stop-color="#5e5e5e"/><stop offset=".225" stop-color="#323232"/><stop offset=".229" stop-color="#1e1e1e"/><stop offset=".234" stop-color="#101010"/><stop offset=".238" stop-color="#0a0a0a"/><stop offset=".242" stop-color="#090909"/><stop offset=".251" stop-color="#0e0e0e"/><stop offset=".255" stop-color="#161616"/><stop offset=".26" stop-color="#262626"/><stop offset=".268" stop-color="#4f4f4f"/><stop offset=".273" stop-color="#626262"/><stop offset=".277" stop-color="#727272"/><stop offset=".281" stop-color="#7e7e7e"/><stop offset=".286" stop-color="#888888"/><stop offset=".294" stop-color="#979797"/><stop offset=".307" stop-color="#a6a6a6"/><stop offset=".329" stop-color="#b6b6b6"/><stop offset=".351" stop-color="#c1c1c1"/><stop offset=".377" stop-color="#cacaca"/><stop offset=".411" stop-color="#d1d1d1"/><stop offset=".498" stop-color="#dddddd"/><stop offset=".589" stop-color="#dddddd"/><stop offset=".61" stop-color="#dadada"/><stop offset=".641" stop-color="#d4d4d4"/><stop offset=".68" stop-color="#c5c5c5"/><stop offset=".71" stop-color="#b3b3b3"/><stop offset=".753" stop-color="#909090"/><stop offset=".766" stop-color="#8b8b8b"/><stop offset=".775" stop-color="#8b8b8b"/><stop offset=".784" stop-color="#8e8e8e"/><stop offset=".792" stop-color="#969696"/><stop offset=".818" stop-color="#b8b8b8"/><stop offset=".831" stop-color="#c5c5c5"/><stop offset=".844" stop-color="#cfcfcf"/><stop offset=".857" stop-color="#d5d5d5"/><stop offset=".879" stop-color="#dbdbdb"/><stop offset=".905" stop-color="#dfdfdf"/><stop offset="1" stop-color="#e0e0e0"/></linearGradient><linearGradient id="a29"><stop offset="0" stop-color="#d8d8d8"/><stop offset=".052" stop-color="#d5d5d5"/><stop offset=".13" stop-color="#cbcbcb"/><stop offset=".16" stop-color="#c3c3c3"/><stop offset=".186" stop-color="#b5b5b5"/><stop offset=".203" stop-color="#a4a4a4"/><stop offset=".212" stop-color="#969696"/><stop offset=".216" stop-color="#8d8d8d"/><stop offset=".221" stop-color="#818181"/><stop offset=".225" stop-color="#737373"/><stop offset=".229" stop-color="#616161"/><stop offset=".242" stop-color="#222222"/><stop offset=".247" stop-color="#141414"/><stop offset=".251" stop-color="#0e0e0e"/><stop offset=".255" stop-color="#0d0d0d"/><stop offset=".264" stop-color="#111111"/><stop offset=".268" stop-color="#191919"/><stop offset=".273" stop-color="#262626"/><stop offset=".286" stop-color="#5e5e5e"/><stop offset=".29" stop-color="#6e6e6e"/><stop offset=".294" stop-color="#7b7b7b"/><stop offset=".299" stop-color="#868686"/><stop offset=".307" stop-color="#959595"/><stop offset=".32" stop-color="#a5a5a5"/><stop offset=".342" stop-color="#b5b5b5"/><stop offset=".364" stop-color="#c0c0c0"/><stop offset=".39" stop-color="#cacaca"/><stop offset=".442" stop-color="#d4d4d4"/><stop offset=".498" stop-color="#dddddd"/><stop offset=".532" stop-color="#dedede"/><stop offset=".602" stop-color="#dcdcdc"/><stop offset=".632" stop-color="#d5d5d5"/><stop offset=".667" stop-color="#c8c8c8"/><stop offset=".697" stop-color="#b7b7b7"/><stop offset=".74" stop-color="#959595"/><stop offset=".753" stop-color="#909090"/><stop offset=".762" stop-color="#8f8f8f"/><stop offset=".771" stop-color="#929292"/><stop offset=".779" stop-color="#999999"/><stop offset=".805" stop-color="#b9b9b9"/><stop offset=".818" stop-color="#c6c6c6"/><stop offset=".831" stop-color="#cfcfcf"/><stop offset=".848" stop-color="#d7d7d7"/><stop offset=".87" stop-color="#dcdcdc"/><stop offset=".9" stop-color="#e0e0e0"/><stop offset="1" stop-color="#e0e0e0"/></linearGradient><linearGradient id="a30"><stop offset="0" stop-color="#d9d9d9"/><stop offset=".139" stop-color="#cdcdcd"/><stop offset=".173" stop-color="#c4c4c4"/><stop offset=".199" stop-color="#b7b7b7"/><stop offset=".216" stop-color="#a6a6a6"/><stop offset=".225" stop-color="#999999"/><stop offset=".229" stop-color="#909090"/><stop offset=".234" stop-color="#858585"/><stop offset=".238" stop-color="#777777"/><stop offset=".242" stop-color="#676767"/><stop offset=".255" stop-color="#2a2a2a"/><stop offset=".26" stop-color="#1b1b1b"/><stop offset=".264" stop-color="#141414"/><stop offset=".268" stop-color="#121212"/><stop offset=".277" stop-color="#171717"/><stop offset=".281" stop-color="#1c1c1c"/><stop offset=".286" stop-color="#262626"/><stop offset=".29" stop-color="#343434"/><stop offset=".303" stop-color="#676767"/><stop offset=".307" stop-color="#757575"/><stop offset=".316" stop-color="#8a8a8a"/><stop offset=".325" stop-color="#989898"/><stop offset=".338" stop-color="#a7a7a7"/><stop offset=".355" stop-color="#b4b4b4"/><stop offset=".377" stop-color="#c0c0c0"/><stop offset=".403" stop-color="#c9c9c9"/><stop offset=".45" stop-color="#d4d4d4"/><stop offset=".498" stop-color="#dcdcdc"/><stop offset=".532" stop-color="#dddddd"/><stop offset=".597" stop-color="#dddddd"/><stop offset=".632" stop-color="#d5d5d5"/><stop offset=".658" stop-color="#cacaca"/><stop offset=".688" stop-color="#b8b8b8"/><stop offset=".727" stop-color="#9c9c9c"/><stop offset=".74" stop-color="#969696"/><stop offset=".749" stop-color="#959595"/><stop offset=".758" stop-color="#979797"/><stop offset=".766" stop-color="#9c9c9c"/><stop offset=".797" stop-color="#bebebe"/><stop offset=".81" stop-color="#cacaca"/><stop offset=".823" stop-color="#d2d2d2"/><stop offset=".84" stop-color="#d9d9d9"/><stop offset=".861" stop-color="#dddddd"/><stop offset=".892" stop-color="#e0e0e0"/><stop offset="1" stop-color="#e0e0e0"/></linearGradient><linearGradient id="a31"><stop offset="0" stop-color="#d9d9d9"/><stop offset=".121" stop-color="#d2d2d2"/><stop offset=".152" stop-color="#cecece"/><stop offset=".186" stop-color="#c6c6c6"/><stop offset=".212" stop-color="#b9b9b9"/><stop offset=".229" stop-color="#a9a9a9"/><stop offset=".238" stop-color="#9c9c9c"/><stop offset=".242" stop-color="#949494"/><stop offset=".251" stop-color="#7e7e7e"/><stop offset=".255" stop-color="#6f6f6f"/><stop offset=".268" stop-color="#363636"/><stop offset=".273" stop-color="#272727"/><stop offset=".277" stop-color="#1e1e1e"/><stop offset=".281" stop-color="#1b1b1b"/><stop offset=".29" stop-color="#1e1e1e"/><stop offset=".299" stop-color="#272727"/><stop offset=".303" stop-color="#303030"/><stop offset=".307" stop-color="#3d3d3d"/><stop offset=".32" stop-color="#6b6b6b"/><stop offset=".329" stop-color="#838383"/><stop offset=".338" stop-color="#949494"/><stop offset=".346" stop-color="#a0a0a0"/><stop offset=".364" stop-color="#b0b0b0"/><stop offset=".381" stop-color="#bbbbbb"/><stop offset=".398" stop-color="#c3c3c3"/><stop offset=".424" stop-color="#cbcbcb"/><stop offset=".472" stop-color="#d7d7d7"/><stop offset=".502" stop-color="#dbdbdb"/><stop offset=".576" stop-color="#dedede"/><stop offset=".597" stop-color="#dddddd"/><stop offset=".623" stop-color="#d7d7d7"/><stop offset=".641" stop-color="#d0d0d0"/><stop offset=".671" stop-color="#bfbfbf"/><stop offset=".71" stop-color="#a5a5a5"/><stop offset=".723" stop-color="#9f9f9f"/><stop offset=".736" stop-color="#9b9b9b"/><stop offset=".745" stop-color="#9d9d9d"/><stop offset=".753" stop-color="#a1a1a1"/><stop offset=".788" stop-color="#c3c3c3"/><stop offset=".801" stop-color="#cdcdcd"/><stop offset=".814" stop-color="#d4d4d4"/><stop offset=".831" stop-color="#dadada"/><stop offset=".857" stop-color="#dfdfdf"/><stop offset=".887" stop-color="#e1e1e1"/><stop offset="1" stop-color="#e0e0e0"/></linearGradient><linearGradient id="a32"><stop offset="0" stop-color="#dadada"/><stop offset=".156" stop-color="#d1d1d1"/><stop offset=".195" stop-color="#c9c9c9"/><stop offset=".221" stop-color="#bebebe"/><stop offset=".234" stop-color="#b5b5b5"/><stop offset=".242" stop-color="#acacac"/><stop offset=".255" stop-color="#999999"/><stop offset=".264" stop-color="#858585"/><stop offset=".268" stop-color="#797979"/><stop offset=".286" stop-color="#373737"/><stop offset=".29" stop-color="#2c2c2c"/><stop offset=".294" stop-color="#262626"/><stop offset=".299" stop-color="#242424"/><stop offset=".312" stop-color="#2b2b2b"/><stop offset=".316" stop-color="#303030"/><stop offset=".32" stop-color="#373737"/><stop offset=".325" stop-color="#424242"/><stop offset=".338" stop-color="#6c6c6c"/><stop offset=".346" stop-color="#838383"/><stop offset=".355" stop-color="#949494"/><stop offset=".368" stop-color="#a6a6a6"/><stop offset=".381" stop-color="#b1b1b1"/><stop offset=".398" stop-color="#bcbcbc"/><stop offset=".42" stop-color="#c5c5c5"/><stop offset=".45" stop-color="#cecece"/><stop offset=".481" stop-color="#d6d6d6"/><stop offset=".511" stop-color="#dbdbdb"/><stop offset=".576" stop-color="#dfdfdf"/><stop offset=".597" stop-color="#dddddd"/><stop offset=".632" stop-color="#d3d3d3"/><stop offset=".697" stop-color="#acacac"/><stop offset=".714" stop-color="#a4a4a4"/><stop offset=".727" stop-color="#a2a2a2"/><stop offset=".736" stop-color="#a5a5a5"/><stop offset=".745" stop-color="#aaaaaa"/><stop offset=".775" stop-color="#c4c4c4"/><stop offset=".788" stop-color="#cecece"/><stop offset=".805" stop-color="#d7d7d7"/><stop offset=".823" stop-color="#dcdcdc"/><stop offset=".848" stop-color="#e0e0e0"/><stop offset=".879" stop-color="#e2e2e2"/><stop offset="1" stop-color="#e1e1e1"/></linearGradient><linearGradient id="a33"><stop offset="0" stop-color="#dadada"/><stop offset=".169" stop-color="#d2d2d2"/><stop offset=".208" stop-color="#cacaca"/><stop offset=".234" stop-color="#c0c0c0"/><stop offset=".247" stop-color="#b7b7b7"/><stop offset=".255" stop-color="#afafaf"/><stop offset=".264" stop-color="#a5a5a5"/><stop offset=".273" stop-color="#979797"/><stop offset=".281" stop-color="#858585"/><stop offset=".286" stop-color="#787878"/><stop offset=".303" stop-color="#404040"/><stop offset=".307" stop-color="#363636"/><stop offset=".312" stop-color="#303030"/><stop offset=".316" stop-color="#2e2e2e"/><stop offset=".329" stop-color="#343434"/><stop offset=".338" stop-color="#3d3d3d"/><stop offset=".346" stop-color="#505050"/><stop offset=".359" stop-color="#757575"/><stop offset=".368" stop-color="#8a8a8a"/><stop offset=".377" stop-color="#9a9a9a"/><stop offset=".39" stop-color="#aaaaaa"/><stop offset=".403" stop-color="#b4b4b4"/><stop offset=".424" stop-color="#c0c0c0"/><stop offset=".481" stop-color="#d4d4d4"/><stop offset=".524" stop-color="#dbdbdb"/><stop offset=".58" stop-color="#dfdfdf"/><stop offset=".597" stop-color="#dedede"/><stop offset=".632" stop-color="#d2d2d2"/><stop offset=".675" stop-color="#b8b8b8"/><stop offset=".693" stop-color="#afafaf"/><stop offset=".714" stop-color="#aaaaaa"/><stop offset=".732" stop-color="#b0b0b0"/><stop offset=".766" stop-color="#c9c9c9"/><stop offset=".784" stop-color="#d3d3d3"/><stop offset=".801" stop-color="#dadada"/><stop offset=".818" stop-color="#dedede"/><stop offset=".879" stop-color="#e3e3e3"/><stop offset="1" stop-color="#e1e1e1"/></linearGradient><linearGradient id="a34"><stop offset="0" stop-color="#dadada"/><stop offset=".173" stop-color="#d3d3d3"/><stop offset=".212" stop-color="#cecece"/><stop offset=".242" stop-color="#c4c4c4"/><stop offset=".255" stop-color="#bdbdbd"/><stop offset=".268" stop-color="#b3b3b3"/><stop offset=".286" stop-color="#a0a0a0"/><stop offset=".294" stop-color="#929292"/><stop offset=".303" stop-color="#7f7f7f"/><stop offset=".32" stop-color="#4d4d4d"/><stop offset=".325" stop-color="#444444"/><stop offset=".329" stop-color="#3d3d3d"/><stop offset=".333" stop-color="#3a3a3a"/><stop offset=".338" stop-color="#3a3a3a"/><stop offset=".351" stop-color="#404040"/><stop offset=".359" stop-color="#494949"/><stop offset=".368" stop-color="#585858"/><stop offset=".381" stop-color="#797979"/><stop offset=".39" stop-color="#8d8d8d"/><stop offset=".398" stop-color="#9b9b9b"/><stop offset=".411" stop-color="#aaaaaa"/><stop offset=".429" stop-color="#b7b7b7"/><stop offset=".446" stop-color="#c1c1c1"/><stop offset=".476" stop-color="#cfcfcf"/><stop offset=".498" stop-color="#d6d6d6"/><stop offset=".576" stop-color="#e0e0e0"/><stop offset=".593" stop-color="#e0e0e0"/><stop offset=".628" stop-color="#d4d4d4"/><stop offset=".68" stop-color="#b7b7b7"/><stop offset=".701" stop-color="#b2b2b2"/><stop offset=".719" stop-color="#b6b6b6"/><stop offset=".758" stop-color="#cecece"/><stop offset=".775" stop-color="#d6d6d6"/><stop offset=".81" stop-color="#dfdfdf"/><stop offset=".87" stop-color="#e3e3e3"/><stop offset="1" stop-color="#e1e1e1"/></linearGradient><linearGradient id="a35"><stop offset="0" stop-color="#dadada"/><stop offset=".182" stop-color="#d5d5d5"/><stop offset=".221" stop-color="#d0d0d0"/><stop offset=".251" stop-color="#c8c8c8"/><stop offset=".281" stop-color="#b8b8b8"/><stop offset=".303" stop-color="#a4a4a4"/><stop offset=".312" stop-color="#989898"/><stop offset=".32" stop-color="#898989"/><stop offset=".338" stop-color="#616161"/><stop offset=".346" stop-color="#505050"/><stop offset=".351" stop-color="#4b4b4b"/><stop offset=".359" stop-color="#474747"/><stop offset=".372" stop-color="#4d4d4d"/><stop offset=".385" stop-color="#595959"/><stop offset=".394" stop-color="#666666"/><stop offset=".42" stop-color="#939393"/><stop offset=".429" stop-color="#9f9f9f"/><stop offset=".442" stop-color="#adadad"/><stop offset=".476" stop-color="#c6c6c6"/><stop offset=".498" stop-color="#d1d1d1"/><stop offset=".511" stop-color="#d4d4d4"/><stop offset=".58" stop-color="#e0e0e0"/><stop offset=".593" stop-color="#e0e0e0"/><stop offset=".628" stop-color="#d3d3d3"/><stop offset=".667" stop-color="#bfbfbf"/><stop offset=".688" stop-color="#bbbbbb"/><stop offset=".71" stop-color="#bfbfbf"/><stop offset=".766" stop-color="#d8d8d8"/><stop offset=".805" stop-color="#e1e1e1"/><stop offset=".866" stop-color="#e4e4e4"/><stop offset="1" stop-color="#e1e1e1"/></linearGradient><linearGradient id="a36"><stop offset="0" stop-color="#dbdbdb"/><stop offset=".199" stop-color="#d5d5d5"/><stop offset=".234" stop-color="#d2d2d2"/><stop offset=".264" stop-color="#cacaca"/><stop offset=".294" stop-color="#bdbdbd"/><stop offset=".32" stop-color="#aaaaaa"/><stop offset=".333" stop-color="#9c9c9c"/><stop offset=".342" stop-color="#919191"/><stop offset=".364" stop-color="#6a6a6a"/><stop offset=".372" stop-color="#5d5d5d"/><stop offset=".377" stop-color="#595959"/><stop offset=".385" stop-color="#575757"/><stop offset=".398" stop-color="#5e5e5e"/><stop offset=".42" stop-color="#6f6f6f"/><stop offset=".472" stop-color="#adadad"/><stop offset=".485" stop-color="#bababa"/><stop offset=".498" stop-color="#c4c4c4"/><stop offset=".511" stop-color="#c9c9c9"/><stop offset=".554" stop-color="#d5d5d5"/><stop offset=".58" stop-color="#dfdfdf"/><stop offset=".589" stop-color="#e0e0e0"/><stop offset=".602" stop-color="#dedede"/><stop offset=".654" stop-color="#c8c8c8"/><stop offset=".667" stop-color="#c4c4c4"/><stop offset=".68" stop-color="#c3c3c3"/><stop offset=".701" stop-color="#c7c7c7"/><stop offset=".758" stop-color="#dbdbdb"/><stop offset=".801" stop-color="#e2e2e2"/><stop offset=".866" stop-color="#e4e4e4"/><stop offset="1" stop-color="#e1e1e1"/></linearGradient><linearGradient id="a37"><stop offset="0" stop-color="#dbdbdb"/><stop offset=".208" stop-color="#d7d7d7"/><stop offset=".242" stop-color="#d4d4d4"/><stop offset=".273" stop-color="#cdcdcd"/><stop offset=".312" stop-color="#bfbfbf"/><stop offset=".346" stop-color="#acacac"/><stop offset=".364" stop-color="#9d9d9d"/><stop offset=".394" stop-color="#777777"/><stop offset=".403" stop-color="#707070"/><stop offset=".411" stop-color="#6e6e6e"/><stop offset=".424" stop-color="#707070"/><stop offset=".446" stop-color="#7e7e7e"/><stop offset=".459" stop-color="#898989"/><stop offset=".498" stop-color="#b1b1b1"/><stop offset=".511" stop-color="#bbbbbb"/><stop offset=".58" stop-color="#dedede"/><stop offset=".597" stop-color="#dedede"/><stop offset=".649" stop-color="#cdcdcd"/><stop offset=".667" stop-color="#cbcbcb"/><stop offset=".688" stop-color="#cdcdcd"/><stop offset=".758" stop-color="#dedede"/><stop offset=".801" stop-color="#e3e3e3"/><stop offset=".866" stop-color="#e4e4e4"/><stop offset="1" stop-color="#e2e2e2"/></linearGradient><linearGradient id="a38"><stop offset="0" stop-color="#dbdbdb"/><stop offset=".082" stop-color="#d9d9d9"/><stop offset=".208" stop-color="#d8d8d8"/><stop offset=".264" stop-color="#d3d3d3"/><stop offset=".307" stop-color="#cacaca"/><stop offset=".355" stop-color="#bababa"/><stop offset=".377" stop-color="#b0b0b0"/><stop offset=".424" stop-color="#949494"/><stop offset=".437" stop-color="#8f8f8f"/><stop offset=".446" stop-color="#8e8e8e"/><stop offset=".455" stop-color="#909090"/><stop offset=".468" stop-color="#979797"/><stop offset=".511" stop-color="#b9b9b9"/><stop offset=".532" stop-color="#c7c7c7"/><stop offset=".567" stop-color="#d9d9d9"/><stop offset=".584" stop-color="#dedede"/><stop offset=".597" stop-color="#dedede"/><stop offset=".645" stop-color="#d3d3d3"/><stop offset=".662" stop-color="#d2d2d2"/><stop offset=".684" stop-color="#d4d4d4"/><stop offset=".753" stop-color="#e0e0e0"/><stop offset=".801" stop-color="#e4e4e4"/><stop offset=".866" stop-color="#e5e5e5"/><stop offset="1" stop-color="#e2e2e2"/></linearGradient><linearGradient id="a39"><stop offset="0" stop-color="#dbdbdb"/><stop offset=".087" stop-color="#d9d9d9"/><stop offset=".212" stop-color="#d9d9d9"/><stop offset=".251" stop-color="#d7d7d7"/><stop offset=".307" stop-color="#cfcfcf"/><stop offset=".424" stop-color="#b5b5b5"/><stop offset=".45" stop-color="#b2b2b2"/><stop offset=".468" stop-color="#b3b3b3"/><stop offset=".485" stop-color="#b8b8b8"/><stop offset=".537" stop-color="#d1d1d1"/><stop offset=".567" stop-color="#dbdbdb"/><stop offset=".584" stop-color="#dedede"/><stop offset=".658" stop-color="#d7d7d7"/><stop offset=".753" stop-color="#e1e1e1"/><stop offset=".801" stop-color="#e4e4e4"/><stop offset="1" stop-color="#e2e2e2"/></linearGradient><linearGradient id="a40"><stop offset="0" stop-color="#dcdcdc"/><stop offset=".082" stop-color="#dadada"/><stop offset=".247" stop-color="#d9d9d9"/><stop offset=".299" stop-color="#d4d4d4"/><stop offset=".411" stop-color="#c4c4c4"/><stop offset=".446" stop-color="#c1c1c1"/><stop offset=".485" stop-color="#c6c6c6"/><stop offset=".545" stop-color="#d6d6d6"/><stop offset=".589" stop-color="#dedede"/><stop offset=".658" stop-color="#dbdbdb"/><stop offset=".758" stop-color="#e2e2e2"/><stop offset=".818" stop-color="#e4e4e4"/><stop offset="1" stop-color="#e1e1e1"/></linearGradient><linearGradient id="a41"><stop offset="0" stop-color="#dcdcdc"/><stop offset=".087" stop-color="#dadada"/><stop offset=".247" stop-color="#dadada"/><stop offset=".416" stop-color="#cacaca"/><stop offset=".45" stop-color="#c8c8c8"/><stop offset=".494" stop-color="#cccccc"/><stop offset=".593" stop-color="#dfdfdf"/><stop offset=".658" stop-color="#dedede"/><stop offset=".81" stop-color="#e4e4e4"/><stop offset="1" stop-color="#e1e1e1"/></linearGradient><linearGradient id="a42"><stop offset="0" stop-color="#dcdcdc"/><stop offset=".087" stop-color="#dadada"/><stop offset=".251" stop-color="#dbdbdb"/><stop offset=".455" stop-color="#cbcbcb"/><stop offset=".498" stop-color="#cecece"/><stop offset=".597" stop-color="#dedede"/><stop offset=".801" stop-color="#e4e4e4"/><stop offset="1" stop-color="#e1e1e1"/></linearGradient><linearGradient id="a43"><stop offset="0" stop-color="#dcdcdc"/><stop offset=".087" stop-color="#dadada"/><stop offset=".255" stop-color="#dbdbdb"/><stop offset=".459" stop-color="#cccccc"/><stop offset=".502" stop-color="#cfcfcf"/><stop offset=".589" stop-color="#dddddd"/><stop offset=".628" stop-color="#dfdfdf"/><stop offset=".797" stop-color="#e3e3e3"/><stop offset="1" stop-color="#e1e1e1"/></linearGradient><linearGradient id="a44"><stop offset="0" stop-color="#dcdcdc"/><stop offset=".087" stop-color="#dbdbdb"/><stop offset=".264" stop-color="#dbdbdb"/><stop offset=".463" stop-color="#cdcdcd"/><stop offset=".502" stop-color="#cfcfcf"/><stop offset=".589" stop-color="#dddddd"/><stop offset=".632" stop-color="#e0e0e0"/><stop offset=".784" stop-color="#e3e3e3"/><stop offset="1" stop-color="#e1e1e1"/></linearGradient><linearGradient id="a45"><stop offset="0" stop-color="#dddddd"/><stop offset=".268" stop-color="#dcdcdc"/><stop offset=".463" stop-color="#cdcdcd"/><stop offset=".511" stop-color="#d1d1d1"/><stop offset=".597" stop-color="#dddddd"/><stop offset=".645" stop-color="#e0e0e0"/><stop offset=".775" stop-color="#e2e2e2"/><stop offset="1" stop-color="#e1e1e1"/></linearGradient><linearGradient id="a46"><stop offset="0" stop-color="#dddddd"/><stop offset=".273" stop-color="#dcdcdc"/><stop offset=".463" stop-color="#cecece"/><stop offset=".511" stop-color="#d1d1d1"/><stop offset=".602" stop-color="#dddddd"/><stop offset=".658" stop-color="#e0e0e0"/><stop offset=".766" stop-color="#e2e2e2"/><stop offset="1" stop-color="#e0e0e0"/></linearGradient><linearGradient id="a47"><stop offset="0" stop-color="#dddddd"/><stop offset=".277" stop-color="#dcdcdc"/><stop offset=".468" stop-color="#cfcfcf"/><stop offset=".515" stop-color="#d2d2d2"/><stop offset=".602" stop-color="#dddddd"/><stop offset=".662" stop-color="#e0e0e0"/><stop offset="1" stop-color="#e0e0e0"/></linearGradient><linearGradient id="a48"><stop offset="0" stop-color="#dddddd"/><stop offset=".277" stop-color="#dcdcdc"/><stop offset=".468" stop-color="#d1d1d1"/><stop offset=".515" stop-color="#d3d3d3"/><stop offset=".61" stop-color="#dddddd"/><stop offset=".667" stop-color="#e0e0e0"/><stop offset="1" stop-color="#e0e0e0"/></linearGradient><linearGradient id="a49"><stop offset="0" stop-color="#dddddd"/><stop offset=".281" stop-color="#dcdcdc"/><stop offset=".468" stop-color="#d2d2d2"/><stop offset=".511" stop-color="#d4d4d4"/><stop offset=".606" stop-color="#dddddd"/><stop offset=".671" stop-color="#e0e0e0"/><stop offset="1" stop-color="#e0e0e0"/></linearGradient><linearGradient id="a50"><stop offset="0" stop-color="#dddddd"/><stop offset=".281" stop-color="#dcdcdc"/><stop offset=".472" stop-color="#d4d4d4"/><stop offset=".675" stop-color="#dfdfdf"/><stop offset="1" stop-color="#e0e0e0"/></linearGradient><linearGradient id="a51"><stop offset="0" stop-color="#dddddd"/><stop offset=".281" stop-color="#dddddd"/><stop offset=".472" stop-color="#d5d5d5"/><stop offset=".684" stop-color="#dfdfdf"/><stop offset="1" stop-color="#e0e0e0"/></linearGradient><linearGradient id="a52"><stop offset="0" stop-color="#dddddd"/><stop offset=".277" stop-color="#dddddd"/><stop offset=".476" stop-color="#d5d5d5"/><stop offset=".693" stop-color="#dfdfdf"/><stop offset="1" stop-color="#e0e0e0"/></linearGradient><linearGradient id="a53"><stop offset="0" stop-color="#dddddd"/><stop offset=".273" stop-color="#dddddd"/><stop offset=".481" stop-color="#d6d6d6"/><stop offset=".701" stop-color="#dfdfdf"/><stop offset="1" stop-color="#dfdfdf"/></linearGradient><linearGradient id="a54"><stop offset="0" stop-color="#dddddd"/><stop offset=".268" stop-color="#dddddd"/><stop offset=".485" stop-color="#d6d6d6"/><stop offset=".71" stop-color="#dedede"/><stop offset="1" stop-color="#dfdfdf"/></linearGradient><linearGradient id="a55"><stop offset="0" stop-color="#dedede"/><stop offset=".26" stop-color="#dddddd"/><stop offset=".485" stop-color="#d6d6d6"/><stop offset=".723" stop-color="#dedede"/><stop offset="1" stop-color="#dfdfdf"/></linearGradient><linearGradient id="a56"><stop offset="0" stop-color="#dedede"/><stop offset=".251" stop-color="#dddddd"/><stop offset=".489" stop-color="#d6d6d6"/><stop offset=".736" stop-color="#dedede"/><stop offset="1" stop-color="#dfdfdf"/></linearGradient><linearGradient id="a57"><stop offset="0" stop-color="#dedede"/><stop offset=".247" stop-color="#dddddd"/><stop offset=".489" stop-color="#d5d5d5"/><stop offset=".745" stop-color="#dedede"/><stop offset="1" stop-color="#dfdfdf"/></linearGradient><linearGradient id="a58"><stop offset="0" stop-color="#dedede"/><stop offset=".242" stop-color="#dddddd"/><stop offset=".494" stop-color="#d5d5d5"/><stop offset=".758" stop-color="#dedede"/><stop offset="1" stop-color="#dfdfdf"/></linearGradient><linearGradient id="a59"><stop offset="0" stop-color="#dedede"/><stop offset=".238" stop-color="#dcdcdc"/><stop offset=".494" stop-color="#d5d5d5"/><stop offset=".766" stop-color="#dedede"/><stop offset="1" stop-color="#dfdfdf"/></linearGradient><linearGradient id="a60"><stop offset="0" stop-color="#dedede"/><stop offset=".234" stop-color="#dcdcdc"/><stop offset=".494" stop-color="#d4d4d4"/><stop offset=".775" stop-color="#dedede"/><stop offset="1" stop-color="#dfdfdf"/></linearGradient><linearGradient id="a61"><stop offset="0" stop-color="#dedede"/><stop offset=".229" stop-color="#dcdcdc"/><stop offset=".494" stop-color="#d4d4d4"/><stop offset=".779" stop-color="#dedede"/><stop offset="1" stop-color="#dfdfdf"/></linearGradient><linearGradient id="a62"><stop offset="0" stop-color="#dedede"/><stop offset=".225" stop-color="#dcdcdc"/><stop offset=".494" stop-color="#d4d4d4"/><stop offset=".788" stop-color="#dedede"/><stop offset="1" stop-color="#dfdfdf"/></linearGradient><linearGradient id="a63"><stop offset="0" stop-color="#dedede"/><stop offset=".221" stop-color="#dcdcdc"/><stop offset=".494" stop-color="#d3d3d3"/><stop offset=".792" stop-color="#dddddd"/><stop offset="1" stop-color="#dfdfdf"/></linearGradient><filter id="af" filterUnits="userSpaceOnUse" x="102.3" y="62" width="461.5" height="460.7" color-interpolation-filters="sRGB"><feGaussianBlur stdDeviation="0 2.2"/><feComponentTransfer><feFuncR type="table" tableValues="0.031 0.028 0.027 0.027 0.027 0.029 0.033 0.038 0.044 0.052 0.059 0.068 0.077 0.087 0.097 0.108 0.12 0.131 0.144 0.156 0.169 0.181 0.194 0.207 0.219 0.232 0.245 0.258 0.271 0.284 0.297 0.311 0.325 0.338 0.352 0.366 0.38 0.393 0.407 0.421 0.434 0.448 0.461 0.475 0.488 0.501 0.514 0.527 0.54 0.552 0.565 0.578 0.59 0.603 0.615 0.628 0.64 0.652 0.664 0.677 0.689 0.701 0.712 0.724 0.736 0.747 0.758 0.77 0.781 0.791 0.802 0.812 0.822 0.832 0.842 0.851 0.861 0.869 0.878 0.886 0.894 0.902 0.909 0.916 0.923 0.93 0.936 0.942 0.947 0.952 0.957 0.961 0.965 0.969 0.973 0.976 0.978 0.981 0.983 0.985 0.986 0.987 0.988 0.988 0.988 0.987 0.987 0.986 0.984 0.982 0.98 0.977 0.975 0.971 0.968 0.964 0.961 0.957 0.953 0.95 0.948 0.946 0.947 0.95 0.955 0.962 0.971 0.982 0.988"/><feFuncG type="table" tableValues="0.031 0.029 0.028 0.028 0.029 0.031 0.034 0.038 0.042 0.047 0.053 0.06 0.066 0.073 0.079 0.085 0.09 0.095 0.1 0.104 0.107 0.111 0.115 0.118 0.122 0.126 0.129 0.132 0.135 0.137 0.138 0.139 0.139 0.138 0.137 0.136 0.135 0.133 0.132 0.131 0.13 0.13 0.13 0.131 0.132 0.133 0.135 0.138 0.14 0.143 0.147 0.15 0.154 0.158 0.163 0.167 0.172 0.177 0.182 0.187 0.192 0.198 0.204 0.21 0.216 0.222 0.229 0.236 0.243 0.251 0.259 0.267 0.275 0.284 0.293 0.302 0.312 0.322 0.332 0.343 0.353 0.364 0.376 0.387 0.399 0.411 0.424 0.436 0.449 0.462 0.475 0.489 0.502 0.516 0.53 0.544 0.558 0.572 0.587 0.601 0.616 0.63 0.645 0.66 0.675 0.69 0.706 0.721 0.736 0.751 0.767 0.782 0.798 0.813 0.829 0.844 0.859 0.874 0.889 0.903 0.917 0.931 0.943 0.955 0.966 0.976 0.985 0.994 0.998"/><feFuncB type="table" tableValues="0.049 0.054 0.063 0.076 0.088 0.102 0.116 0.131 0.146 0.162 0.179 0.197 0.215 0.234 0.253 0.272 0.291 0.309 0.325 0.341 0.355 0.368 0.379 0.388 0.396 0.403 0.409 0.414 0.419 0.422 0.425 0.428 0.429 0.431 0.432 0.433 0.433 0.433 0.433 0.432 0.432 0.43 0.429 0.427 0.426 0.423 0.421 0.418 0.415 0.412 0.408 0.404 0.4 0.396 0.391 0.386 0.381 0.376 0.37 0.364 0.358 0.351 0.344 0.337 0.33 0.323 0.315 0.307 0.3 0.291 0.283 0.275 0.266 0.257 0.249 0.24 0.231 0.221 0.212 0.203 0.194 0.184 0.175 0.165 0.155 0.145 0.135 0.125 0.115 0.105 0.095 0.084 0.074 0.063 0.053 0.044 0.035 0.029 0.025 0.024 0.026 0.031 0.04 0.052 0.065 0.08 0.096 0.112 0.13 0.148 0.166 0.186 0.206 0.228 0.25 0.273 0.298 0.324 0.351 0.38 0.411 0.442 0.475 0.508 0.54 0.572 0.602 0.631 0.645"/><feFuncA type="linear" slope="0" intercept="1"/></feComponentTransfer></filter><clipPath id="ac"><rect x="102.3" y="70" width="461.5" height="444.7"/></clipPath></defs>
<g clip-path="url(#ac)"><g filter="url(#af)"><rect x="102.3" y="61.7" width="461.5" height="15.55" fill="url(#a0)"/><rect x="102.3" y="76.65" width="461.5" height="7.55" fill="url(#a1)"/><rect x="102.3" y="83.6" width="461.5" height="7.55" fill="url(#a2)"/><rect x="102.3" y="90.55" width="461.5" height="7.55" fill="url(#a3)"/><rect x="102.3" y="97.49" width="461.5" height="7.55" fill="url(#a4)"/><rect x="102.3" y="104.44" width="461.5" height="7.55" fill="url(#a5)"/><rect x="102.3" y="111.39" width="461.5" height="7.55" fill="url(#a6)"/><rect x="102.3" y="118.34" width="461.5" height="7.55" fill="url(#a7)"/><rect x="102.3" y="125.29" width="461.5" height="7.55" fill="url(#a8)"/><rect x="102.3" y="132.24" width="461.5" height="7.55" fill="url(#a9)"/><rect x="102.3" y="139.18" width="461.5" height="7.55" fill="url(#a10)"/><rect x="102.3" y="146.13" width="461.5" height="7.55" fill="url(#a11)"/><rect x="102.3" y="153.08" width="461.5" height="7.55" fill="url(#a12)"/><rect x="102.3" y="160.03" width="461.5" height="7.55" fill="url(#a13)"/><rect x="102.3" y="166.98" width="461.5" height="7.55" fill="url(#a14)"/><rect x="102.3" y="173.93" width="461.5" height="7.55" fill="url(#a15)"/><rect x="102.3" y="180.88" width="461.5" height="7.55" fill="url(#a16)"/><rect x="102.3" y="187.82" width="461.5" height="7.55" fill="url(#a17)"/><rect x="102.3" y="194.77" width="461.5" height="7.55" fill="url(#a18)"/><rect x="102.3" y="201.72" width="461.5" height="7.55" fill="url(#a19)"/><rect x="102.3" y="208.67" width="461.5" height="7.55" fill="url(#a20)"/><rect x="102.3" y="215.62" width="461.5" height="7.55" fill="url(#a21)"/><rect x="102.3" y="222.57" width="461.5" height="7.55" fill="url(#a22)"/><rect x="102.3" y="229.51" width="461.5" height="7.55" fill="url(#a23)"/><rect x="102.3" y="236.46" width="461.5" height="7.55" fill="url(#a24)"/><rect x="102.3" y="243.41" width="461.5" height="7.55" fill="url(#a25)"/><rect x="102.3" y="250.36" width="461.5" height="7.55" fill="url(#a26)"/><rect x="102.3" y="257.31" width="461.5" height="7.55" fill="url(#a27)"/><rect x="102.3" y="264.26" width="461.5" height="7.55" fill="url(#a28)"/><rect x="102.3" y="271.2" width="461.5" height="7.55" fill="url(#a29)"/><rect x="102.3" y="278.15" width="461.5" height="7.55" fill="url(#a30)"/><rect x="102.3" y="285.1" width="461.5" height="7.55" fill="url(#a31)"/><rect x="102.3" y="292.05" width="461.5" height="7.55" fill="url(#a32)"/><rect x="102.3" y="299" width="461.5" height="7.55" fill="url(#a33)"/><rect x="102.3" y="305.95" width="461.5" height="7.55" fill="url(#a34)"/><rect x="102.3" y="312.9" width="461.5" height="7.55" fill="url(#a35)"/><rect x="102.3" y="319.84" width="461.5" height="7.55" fill="url(#a36)"/><rect x="102.3" y="326.79" width="461.5" height="7.55" fill="url(#a37)"/><rect x="102.3" y="333.74" width="461.5" height="7.55" fill="url(#a38)"/><rect x="102.3" y="340.69" width="461.5" height="7.55" fill="url(#a39)"/><rect x="102.3" y="347.64" width="461.5" height="7.55" fill="url(#a40)"/><rect x="102.3" y="354.59" width="461.5" height="7.55" fill="url(#a41)"/><rect x="102.3" y="361.53" width="461.5" height="7.55" fill="url(#a42)"/><rect x="102.3" y="368.48" width="461.5" height="7.55" fill="url(#a43)"/><rect x="102.3" y="375.43" width="461.5" height="7.55" fill="url(#a44)"/><rect x="102.3" y="382.38" width="461.5" height="7.55" fill="url(#a45)"/><rect x="102.3" y="389.33" width="461.5" height="7.55" fill="url(#a46)"/><rect x="102.3" y="396.28" width="461.5" height="7.55" fill="url(#a47)"/><rect x="102.3" y="403.23" width="461.5" height="7.55" fill="url(#a48)"/><rect x="102.3" y="410.17" width="461.5" height="7.55" fill="url(#a49)"/><rect x="102.3" y="417.12" width="461.5" height="7.55" fill="url(#a50)"/><rect x="102.3" y="424.07" width="461.5" height="7.55" fill="url(#a51)"/><rect x="102.3" y="431.02" width="461.5" height="7.55" fill="url(#a52)"/><rect x="102.3" y="437.97" width="461.5" height="7.55" fill="url(#a53)"/><rect x="102.3" y="444.92" width="461.5" height="7.55" fill="url(#a54)"/><rect x="102.3" y="451.86" width="461.5" height="7.55" fill="url(#a55)"/><rect x="102.3" y="458.81" width="461.5" height="7.55" fill="url(#a56)"/><rect x="102.3" y="465.76" width="461.5" height="7.55" fill="url(#a57)"/><rect x="102.3" y="472.71" width="461.5" height="7.55" fill="url(#a58)"/><rect x="102.3" y="479.66" width="461.5" height="7.55" fill="url(#a59)"/><rect x="102.3" y="486.61" width="461.5" height="7.55" fill="url(#a60)"/><rect x="102.3" y="493.55" width="461.5" height="7.55" fill="url(#a61)"/><rect x="102.3" y="500.5" width="461.5" height="7.55" fill="url(#a62)"/><rect x="102.3" y="507.45" width="461.5" height="15.55" fill="url(#a63)"/></g></g>
<defs><linearGradient id="acb" x1="0" y1="0" x2="0" y2="1"><stop offset="0" stop-color="#fcffa4"/><stop offset="0.0312" stop-color="#f3f68a"/><stop offset="0.0625" stop-color="#f2ea69"/><stop offset="0.0938" stop-color="#f5db4c"/><stop offset="0.125" stop-color="#f9cb35"/><stop offset="0.1562" stop-color="#fbbc21"/><stop offset="0.1875" stop-color="#fcac11"/><stop offset="0.2188" stop-color="#fb9d07"/><stop offset="0.25" stop-color="#f98e09"/><stop offset="0.2812" stop-color="#f68013"/><stop offset="0.3125" stop-color="#f1731d"/><stop offset="0.3438" stop-color="#eb6628"/><stop offset="0.375" stop-color="#e45a31"/><stop offset="0.4062" stop-color="#db503b"/><stop offset="0.4375" stop-color="#d24644"/><stop offset="0.4688" stop-color="#c73e4c"/><stop offset="0.5" stop-color="#bc3754"/><stop offset="0.5312" stop-color="#b0315b"/><stop offset="0.5625" stop-color="#a32c61"/><stop offset="0.5938" stop-color="#972766"/><stop offset="0.625" stop-color="#8a246a"/><stop offset="0.6562" stop-color="#7c226d"/><stop offset="0.6875" stop-color="#6f216e"/><stop offset="0.7188" stop-color="#61226e"/><stop offset="0.75" stop-color="#53236e"/><stop offset="0.7812" stop-color="#45226b"/><stop offset="0.8125" stop-color="#381f65"/><stop offset="0.8438" stop-color="#2b1b5b"/><stop offset="0.875" stop-color="#1f174a"/><stop offset="0.9062" stop-color="#141137"/><stop offset="0.9375" stop-color="#0b0b25"/><stop offset="0.9688" stop-color="#070717"/><stop offset="1" stop-color="#08080c"/></linearGradient></defs><rect x="578" y="70" width="19" height="444.7" fill="url(#acb)"/>
<text x="-0.2" y="36" font-size="42.5" class="pl">(a)</text>
<text x="96" y="79.7" font-size="33" text-anchor="end">625</text>
<text x="96" y="190.88" font-size="33" text-anchor="end">620</text>
<text x="96" y="302.05" font-size="33" text-anchor="end">615</text>
<text x="96" y="413.23" font-size="33" text-anchor="end">610</text>
<text x="96" y="524.4" font-size="33" text-anchor="end">605</text>
<text x="102.3" y="547.8" font-size="33" text-anchor="middle">−4</text>
<text x="217.67" y="547.8" font-size="33" text-anchor="middle">−2</text>
<text x="333.05" y="547.8" font-size="33" text-anchor="middle">0</text>
<text x="448.42" y="547.8" font-size="33" text-anchor="middle">2</text>
<text x="563.8" y="547.8" font-size="33" text-anchor="middle">4</text>
<text x="333.05" y="595" font-size="33" text-anchor="middle">Incident angle (deg)</text>
<text transform="translate(27.3,290.55) rotate(-90)" font-size="33" text-anchor="middle">wavelength (nm)</text>
<text x="587.5" y="50.1" font-size="33" text-anchor="middle">Transmission</text>
<text x="605.2" y="525.3" font-size="33">0</text>
<text x="605.2" y="436.36" font-size="33">0.2</text>
<text x="605.2" y="347.42" font-size="33">0.4</text>
<text x="605.2" y="258.48" font-size="33">0.6</text>
<text x="605.2" y="169.54" font-size="33">0.8</text>
<text x="605.2" y="80.6" font-size="33">1</text>
<!-- panel b -->
<defs><linearGradient id="b0"><stop offset="0" stop-color="#686868"/><stop offset=".035" stop-color="#4e4e4e"/><stop offset=".065" stop-color="#404040"/><stop offset=".108" stop-color="#333333"/><stop offset=".165" stop-color="#292929"/><stop offset=".238" stop-color="#242424"/><stop offset=".385" stop-color="#1f1f1f"/><stop offset=".602" stop-color="#1f1f1f"/><stop offset=".784" stop-color="#262626"/><stop offset=".831" stop-color="#2a2a2a"/><stop offset=".874" stop-color="#313131"/><stop offset=".913" stop-color="#3c3c3c"/><stop offset=".948" stop-color="#4a4a4a"/><stop offset=".97" stop-color="#575757"/><stop offset="1" stop-color="#717171"/></linearGradient><linearGradient id="b1"><stop offset="0" stop-color="#6d6d6d"/><stop offset=".035" stop-color="#525252"/><stop offset=".065" stop-color="#424242"/><stop offset=".108" stop-color="#343434"/><stop offset=".165" stop-color="#2a2a2a"/><stop offset=".242" stop-color="#242424"/><stop offset=".385" stop-color="#1f1f1f"/><stop offset=".602" stop-color="#1f1f1f"/><stop offset=".784" stop-color="#262626"/><stop offset=".831" stop-color="#2b2b2b"/><stop offset=".874" stop-color="#333333"/><stop offset=".913" stop-color="#3e3e3e"/><stop offset=".948" stop-color="#4d4d4d"/><stop offset=".97" stop-color="#5c5c5c"/><stop offset="1" stop-color="#767676"/></linearGradient><linearGradient id="b2"><stop offset="0" stop-color="#727272"/><stop offset=".039" stop-color="#535353"/><stop offset=".069" stop-color="#434343"/><stop offset=".113" stop-color="#353535"/><stop offset=".165" stop-color="#2b2b2b"/><stop offset=".242" stop-color="#242424"/><stop offset=".385" stop-color="#1f1f1f"/><stop offset=".602" stop-color="#1f1f1f"/><stop offset=".779" stop-color="#262626"/><stop offset=".827" stop-color="#2b2b2b"/><stop offset=".87" stop-color="#333333"/><stop offset=".909" stop-color="#3e3e3e"/><stop offset=".944" stop-color="#4e4e4e"/><stop offset=".965" stop-color="#5d5d5d"/><stop offset="1" stop-color="#7c7c7c"/></linearGradient><linearGradient id="b3"><stop offset="0" stop-color="#777777"/><stop offset=".039" stop-color="#575757"/><stop offset=".074" stop-color="#444444"/><stop offset=".117" stop-color="#353535"/><stop offset=".169" stop-color="#2b2b2b"/><stop offset=".242" stop-color="#242424"/><stop offset=".385" stop-color="#1f1f1f"/><stop offset=".606" stop-color="#1f1f1f"/><stop offset=".779" stop-color="#262626"/><stop offset=".827" stop-color="#2c2c2c"/><stop offset=".87" stop-color="#343434"/><stop offset=".909" stop-color="#414141"/><stop offset=".939" stop-color="#4f4f4f"/><stop offset=".961" stop-color="#5e5e5e"/><stop offset="1" stop-color="#818181"/></linearGradient><linearGradient id="b4"><stop offset="0" stop-color="#7a7a7a"/><stop offset=".009" stop-color="#757575"/><stop offset=".043" stop-color="#585858"/><stop offset=".078" stop-color="#454545"/><stop offset=".117" stop-color="#373737"/><stop offset=".169" stop-color="#2c2c2c"/><stop offset=".242" stop-color="#252525"/><stop offset=".385" stop-color="#1f1f1f"/><stop offset=".606" stop-color="#1f1f1f"/><stop offset=".779" stop-color="#272727"/><stop offset=".827" stop-color="#2d2d2d"/><stop offset=".866" stop-color="#353535"/><stop offset=".905" stop-color="#414141"/><stop offset=".935" stop-color="#515151"/><stop offset=".957" stop-color="#5f5f5f"/><stop offset=".991" stop-color="#7f7f7f"/><stop offset="1" stop-color="#858585"/></linearGradient><linearGradient id="b5"><stop offset="0" stop-color="#7a7a7a"/><stop offset=".009" stop-color="#787878"/><stop offset=".052" stop-color="#575757"/><stop offset=".087" stop-color="#444444"/><stop offset=".126" stop-color="#363636"/><stop offset=".173" stop-color="#2c2c2c"/><stop offset=".247" stop-color="#252525"/><stop offset=".385" stop-color="#1f1f1f"/><stop offset=".602" stop-color="#1f1f1f"/><stop offset=".771" stop-color="#272727"/><stop offset=".818" stop-color="#2c2c2c"/><stop offset=".857" stop-color="#343434"/><stop offset=".896" stop-color="#404040"/><stop offset=".926" stop-color="#4f4f4f"/><stop offset=".952" stop-color="#616161"/><stop offset=".987" stop-color="#808080"/><stop offset=".996" stop-color="#868686"/><stop offset="1" stop-color="#858585"/></linearGradient><linearGradient id="b6"><stop offset="0" stop-color="#6b6b6b"/><stop offset=".004" stop-color="#747474"/><stop offset=".009" stop-color="#797979"/><stop offset=".013" stop-color="#787878"/><stop offset=".061" stop-color="#555555"/><stop offset=".095" stop-color="#434343"/><stop offset=".143" stop-color="#333333"/><stop offset=".195" stop-color="#2a2a2a"/><stop offset=".26" stop-color="#242424"/><stop offset=".39" stop-color="#1f1f1f"/><stop offset=".602" stop-color="#1f1f1f"/><stop offset=".758" stop-color="#262626"/><stop offset=".801" stop-color="#2a2a2a"/><stop offset=".835" stop-color="#303030"/><stop offset=".879" stop-color="#3c3c3c"/><stop offset=".913" stop-color="#4c4c4c"/><stop offset=".944" stop-color="#5f5f5f"/><stop offset=".987" stop-color="#838383"/><stop offset=".991" stop-color="#848484"/><stop offset=".996" stop-color="#7f7f7f"/><stop offset="1" stop-color="#757575"/></linearGradient><linearGradient id="b7"><stop offset="0" stop-color="#565656"/><stop offset=".009" stop-color="#6b6b6b"/><stop offset=".013" stop-color="#737373"/><stop offset=".017" stop-color="#777777"/><stop offset=".026" stop-color="#737373"/><stop offset=".069" stop-color="#545454"/><stop offset=".1" stop-color="#444444"/><stop offset=".139" stop-color="#363636"/><stop offset=".186" stop-color="#2c2c2c"/><stop offset=".255" stop-color="#252525"/><stop offset=".385" stop-color="#1f1f1f"/><stop offset=".602" stop-color="#1f1f1f"/><stop offset=".762" stop-color="#272727"/><stop offset=".81" stop-color="#2c2c2c"/><stop offset=".844" stop-color="#343434"/><stop offset=".879" stop-color="#3f3f3f"/><stop offset=".909" stop-color="#4d4d4d"/><stop offset=".935" stop-color="#5d5d5d"/><stop offset=".974" stop-color="#7d7d7d"/><stop offset=".983" stop-color="#828282"/><stop offset=".987" stop-color="#7e7e7e"/><stop offset=".991" stop-color="#757575"/><stop offset="1" stop-color="#5d5d5d"/></linearGradient><linearGradient id="b8"><stop offset="0" stop-color="#444444"/><stop offset=".017" stop-color="#6b6b6b"/><stop offset=".022" stop-color="#727272"/><stop offset=".026" stop-color="#757575"/><stop offset=".035" stop-color="#707070"/><stop offset=".082" stop-color="#505050"/><stop offset=".113" stop-color="#414141"/><stop offset=".16" stop-color="#323232"/><stop offset=".212" stop-color="#292929"/><stop offset=".273" stop-color="#242424"/><stop offset=".398" stop-color="#1f1f1f"/><stop offset=".606" stop-color="#1f1f1f"/><stop offset=".723" stop-color="#242424"/><stop offset=".805" stop-color="#2d2d2d"/><stop offset=".835" stop-color="#333333"/><stop offset=".866" stop-color="#3c3c3c"/><stop offset=".892" stop-color="#474747"/><stop offset=".913" stop-color="#535353"/><stop offset=".965" stop-color="#7a7a7a"/><stop offset=".974" stop-color="#7f7f7f"/><stop offset=".978" stop-color="#7c7c7c"/><stop offset=".983" stop-color="#747474"/><stop offset=".996" stop-color="#525252"/><stop offset="1" stop-color="#494949"/></linearGradient><linearGradient id="b9"><stop offset="0" stop-color="#363636"/><stop offset=".009" stop-color="#444444"/><stop offset=".026" stop-color="#6a6a6a"/><stop offset=".03" stop-color="#707070"/><stop offset=".035" stop-color="#727272"/><stop offset=".048" stop-color="#6b6b6b"/><stop offset=".091" stop-color="#4f4f4f"/><stop offset=".126" stop-color="#3e3e3e"/><stop offset=".173" stop-color="#303030"/><stop offset=".225" stop-color="#282828"/><stop offset=".398" stop-color="#1f1f1f"/><stop offset=".606" stop-color="#1f1f1f"/><stop offset=".736" stop-color="#262626"/><stop offset=".81" stop-color="#2f2f2f"/><stop offset=".861" stop-color="#3d3d3d"/><stop offset=".883" stop-color="#464646"/><stop offset=".905" stop-color="#525252"/><stop offset=".952" stop-color="#757575"/><stop offset=".965" stop-color="#7c7c7c"/><stop offset=".97" stop-color="#7a7a7a"/><stop offset=".974" stop-color="#737373"/><stop offset=".991" stop-color="#494949"/><stop offset="1" stop-color="#3a3a3a"/></linearGradient><linearGradient id="b10"><stop offset="0" stop-color="#2d2d2d"/><stop offset=".009" stop-color="#363636"/><stop offset=".017" stop-color="#444444"/><stop offset=".035" stop-color="#686868"/><stop offset=".039" stop-color="#6e6e6e"/><stop offset=".043" stop-color="#707070"/><stop offset=".056" stop-color="#696969"/><stop offset=".104" stop-color="#4b4b4b"/><stop offset=".134" stop-color="#3e3e3e"/><stop offset=".177" stop-color="#313131"/><stop offset=".229" stop-color="#282828"/><stop offset=".398" stop-color="#1f1f1f"/><stop offset=".606" stop-color="#1f1f1f"/><stop offset=".736" stop-color="#262626"/><stop offset=".801" stop-color="#2e2e2e"/><stop offset=".853" stop-color="#3c3c3c"/><stop offset=".896" stop-color="#515151"/><stop offset=".944" stop-color="#727272"/><stop offset=".957" stop-color="#7a7a7a"/><stop offset=".961" stop-color="#787878"/><stop offset=".965" stop-color="#717171"/><stop offset=".983" stop-color="#494949"/><stop offset=".991" stop-color="#3a3a3a"/><stop offset="1" stop-color="#303030"/></linearGradient><linearGradient id="b11"><stop offset="0" stop-color="#272727"/><stop offset=".009" stop-color="#2d2d2d"/><stop offset=".017" stop-color="#363636"/><stop offset=".026" stop-color="#434343"/><stop offset=".043" stop-color="#656565"/><stop offset=".048" stop-color="#6b6b6b"/><stop offset=".052" stop-color="#6d6d6d"/><stop offset=".065" stop-color="#686868"/><stop offset=".108" stop-color="#4d4d4d"/><stop offset=".139" stop-color="#3f3f3f"/><stop offset=".173" stop-color="#333333"/><stop offset=".216" stop-color="#2b2b2b"/><stop offset=".273" stop-color="#252525"/><stop offset=".39" stop-color="#1f1f1f"/><stop offset=".602" stop-color="#1f1f1f"/><stop offset=".745" stop-color="#272727"/><stop offset=".784" stop-color="#2c2c2c"/><stop offset=".818" stop-color="#333333"/><stop offset=".848" stop-color="#3d3d3d"/><stop offset=".874" stop-color="#494949"/><stop offset=".9" stop-color="#585858"/><stop offset=".935" stop-color="#707070"/><stop offset=".948" stop-color="#777777"/><stop offset=".952" stop-color="#747474"/><stop offset=".957" stop-color="#6e6e6e"/><stop offset=".974" stop-color="#484848"/><stop offset=".983" stop-color="#3a3a3a"/><stop offset=".991" stop-color="#303030"/><stop offset="1" stop-color="#292929"/></linearGradient><linearGradient id="b12"><stop offset="0" stop-color="#222222"/><stop offset=".013" stop-color="#2a2a2a"/><stop offset=".026" stop-color="#363636"/><stop offset=".035" stop-color="#424242"/><stop offset=".052" stop-color="#626262"/><stop offset=".056" stop-color="#686868"/><stop offset=".061" stop-color="#6b6b6b"/><stop offset=".074" stop-color="#666666"/><stop offset=".117" stop-color="#4c4c4c"/><stop offset=".147" stop-color="#3e3e3e"/><stop offset=".182" stop-color="#333333"/><stop offset=".225" stop-color="#2a2a2a"/><stop offset=".277" stop-color="#252525"/><stop offset=".39" stop-color="#1f1f1f"/><stop offset=".602" stop-color="#1f1f1f"/><stop offset=".74" stop-color="#282828"/><stop offset=".779" stop-color="#2d2d2d"/><stop offset=".81" stop-color="#333333"/><stop offset=".84" stop-color="#3c3c3c"/><stop offset=".866" stop-color="#484848"/><stop offset=".892" stop-color="#575757"/><stop offset=".926" stop-color="#6e6e6e"/><stop offset=".939" stop-color="#747474"/><stop offset=".944" stop-color="#717171"/><stop offset=".948" stop-color="#6b6b6b"/><stop offset=".965" stop-color="#474747"/><stop offset=".974" stop-color="#3a3a3a"/><stop offset=".987" stop-color="#2c2c2c"/><stop offset="1" stop-color="#242424"/></linearGradient><linearGradient id="b13"><stop offset="0" stop-color="#1f1f1f"/><stop offset=".017" stop-color="#272727"/><stop offset=".03" stop-color="#313131"/><stop offset=".043" stop-color="#404040"/><stop offset=".061" stop-color="#5e5e5e"/><stop offset=".065" stop-color="#656565"/><stop offset=".069" stop-color="#686868"/><stop offset=".082" stop-color="#646464"/><stop offset=".126" stop-color="#4b4b4b"/><stop offset=".16" stop-color="#3b3b3b"/><stop offset=".195" stop-color="#313131"/><stop offset=".234" stop-color="#2a2a2a"/><stop offset=".286" stop-color="#252525"/><stop offset=".39" stop-color="#1f1f1f"/><stop offset=".602" stop-color="#1f1f1f"/><stop offset=".736" stop-color="#282828"/><stop offset=".775" stop-color="#2d2d2d"/><stop offset=".805" stop-color="#333333"/><stop offset=".831" stop-color="#3b3b3b"/><stop offset=".853" stop-color="#454545"/><stop offset=".879" stop-color="#535353"/><stop offset=".918" stop-color="#6d6d6d"/><stop offset=".926" stop-color="#717171"/><stop offset=".931" stop-color="#717171"/><stop offset=".935" stop-color="#6d6d6d"/><stop offset=".939" stop-color="#666666"/><stop offset=".957" stop-color="#454545"/><stop offset=".97" stop-color="#343434"/><stop offset=".983" stop-color="#292929"/><stop offset="1" stop-color="#212121"/></linearGradient><linearGradient id="b14"><stop offset="0" stop-color="#1d1d1d"/><stop offset=".022" stop-color="#242424"/><stop offset=".039" stop-color="#303030"/><stop offset=".052" stop-color="#3e3e3e"/><stop offset=".074" stop-color="#616161"/><stop offset=".078" stop-color="#656565"/><stop offset=".082" stop-color="#666666"/><stop offset=".095" stop-color="#606060"/><stop offset=".139" stop-color="#484848"/><stop offset=".165" stop-color="#3c3c3c"/><stop offset=".199" stop-color="#323232"/><stop offset=".238" stop-color="#2a2a2a"/><stop offset=".286" stop-color="#252525"/><stop offset=".39" stop-color="#1f1f1f"/><stop offset=".602" stop-color="#1f1f1f"/><stop offset=".732" stop-color="#282828"/><stop offset=".797" stop-color="#333333"/><stop offset=".823" stop-color="#3b3b3b"/><stop offset=".844" stop-color="#444444"/><stop offset=".918" stop-color="#6e6e6e"/><stop offset=".922" stop-color="#6d6d6d"/><stop offset=".926" stop-color="#696969"/><stop offset=".948" stop-color="#434343"/><stop offset=".961" stop-color="#333333"/><stop offset=".978" stop-color="#262626"/><stop offset="1" stop-color="#1e1e1e"/></linearGradient><linearGradient id="b15"><stop offset="0" stop-color="#1c1c1c"/><stop offset=".026" stop-color="#222222"/><stop offset=".048" stop-color="#2e2e2e"/><stop offset=".061" stop-color="#3c3c3c"/><stop offset=".082" stop-color="#5d5d5d"/><stop offset=".087" stop-color="#616161"/><stop offset=".091" stop-color="#636363"/><stop offset=".104" stop-color="#5f5f5f"/><stop offset=".147" stop-color="#474747"/><stop offset=".177" stop-color="#3a3a3a"/><stop offset=".208" stop-color="#313131"/><stop offset=".247" stop-color="#2a2a2a"/><stop offset=".394" stop-color="#1f1f1f"/><stop offset=".602" stop-color="#1f1f1f"/><stop offset=".723" stop-color="#282828"/><stop offset=".788" stop-color="#323232"/><stop offset=".814" stop-color="#3a3a3a"/><stop offset=".835" stop-color="#434343"/><stop offset=".896" stop-color="#676767"/><stop offset=".909" stop-color="#6c6c6c"/><stop offset=".913" stop-color="#6a6a6a"/><stop offset=".918" stop-color="#646464"/><stop offset=".939" stop-color="#404040"/><stop offset=".952" stop-color="#313131"/><stop offset=".974" stop-color="#232323"/><stop offset="1" stop-color="#1d1d1d"/></linearGradient><linearGradient id="b16"><stop offset="0" stop-color="#1b1b1b"/><stop offset=".03" stop-color="#202020"/><stop offset=".043" stop-color="#252525"/><stop offset=".056" stop-color="#2d2d2d"/><stop offset=".069" stop-color="#393939"/><stop offset=".091" stop-color="#585858"/><stop offset=".1" stop-color="#606060"/><stop offset=".113" stop-color="#5d5d5d"/><stop offset=".16" stop-color="#444444"/><stop offset=".186" stop-color="#393939"/><stop offset=".216" stop-color="#313131"/><stop offset=".255" stop-color="#2a2a2a"/><stop offset=".394" stop-color="#1f1f1f"/><stop offset=".602" stop-color="#1f1f1f"/><stop offset=".723" stop-color="#282828"/><stop offset=".784" stop-color="#333333"/><stop offset=".827" stop-color="#424242"/><stop offset=".896" stop-color="#696969"/><stop offset=".9" stop-color="#696969"/><stop offset=".905" stop-color="#656565"/><stop offset=".931" stop-color="#3d3d3d"/><stop offset=".948" stop-color="#2c2c2c"/><stop offset=".97" stop-color="#212121"/><stop offset="1" stop-color="#1b1b1b"/></linearGradient><linearGradient id="b17"><stop offset="0" stop-color="#1a1a1a"/><stop offset=".035" stop-color="#1e1e1e"/><stop offset=".061" stop-color="#282828"/><stop offset=".078" stop-color="#363636"/><stop offset=".087" stop-color="#404040"/><stop offset=".104" stop-color="#595959"/><stop offset=".108" stop-color="#5d5d5d"/><stop offset=".113" stop-color="#5e5e5e"/><stop offset=".126" stop-color="#5a5a5a"/><stop offset=".169" stop-color="#444444"/><stop offset=".195" stop-color="#393939"/><stop offset=".225" stop-color="#303030"/><stop offset=".264" stop-color="#2a2a2a"/><stop offset=".394" stop-color="#1f1f1f"/><stop offset=".602" stop-color="#1f1f1f"/><stop offset=".714" stop-color="#282828"/><stop offset=".775" stop-color="#333333"/><stop offset=".818" stop-color="#424242"/><stop offset=".874" stop-color="#616161"/><stop offset=".887" stop-color="#666666"/><stop offset=".892" stop-color="#656565"/><stop offset=".896" stop-color="#606060"/><stop offset=".913" stop-color="#454545"/><stop offset=".922" stop-color="#393939"/><stop offset=".939" stop-color="#2b2b2b"/><stop offset=".965" stop-color="#202020"/><stop offset="1" stop-color="#1b1b1b"/></linearGradient><linearGradient id="b18"><stop offset="0" stop-color="#1a1a1a"/><stop offset=".039" stop-color="#1d1d1d"/><stop offset=".069" stop-color="#272727"/><stop offset=".082" stop-color="#2f2f2f"/><stop offset=".091" stop-color="#373737"/><stop offset=".113" stop-color="#545454"/><stop offset=".121" stop-color="#5b5b5b"/><stop offset=".134" stop-color="#595959"/><stop offset=".177" stop-color="#434343"/><stop offset=".208" stop-color="#373737"/><stop offset=".238" stop-color="#2f2f2f"/><stop offset=".273" stop-color="#292929"/><stop offset=".394" stop-color="#1f1f1f"/><stop offset=".602" stop-color="#1f1f1f"/><stop offset=".71" stop-color="#292929"/><stop offset=".766" stop-color="#323232"/><stop offset=".81" stop-color="#414141"/><stop offset=".874" stop-color="#636363"/><stop offset=".879" stop-color="#636363"/><stop offset=".883" stop-color="#606060"/><stop offset=".909" stop-color="#3b3b3b"/><stop offset=".918" stop-color="#323232"/><stop offset=".931" stop-color="#292929"/><stop offset=".944" stop-color="#232323"/><stop offset=".961" stop-color="#1e1e1e"/><stop offset="1" stop-color="#1a1a1a"/></linearGradient><linearGradient id="b19"><stop offset="0" stop-color="#191919"/><stop offset=".048" stop-color="#1d1d1d"/><stop offset=".078" stop-color="#252525"/><stop offset=".1" stop-color="#343434"/><stop offset=".108" stop-color="#3d3d3d"/><stop offset=".126" stop-color="#545454"/><stop offset=".134" stop-color="#595959"/><stop offset=".147" stop-color="#555555"/><stop offset=".186" stop-color="#424242"/><stop offset=".212" stop-color="#383838"/><stop offset=".242" stop-color="#303030"/><stop offset=".281" stop-color="#292929"/><stop offset=".394" stop-color="#1f1f1f"/><stop offset=".602" stop-color="#1f1f1f"/><stop offset=".706" stop-color="#292929"/><stop offset=".758" stop-color="#323232"/><stop offset=".801" stop-color="#414141"/><stop offset=".853" stop-color="#5c5c5c"/><stop offset=".866" stop-color="#616161"/><stop offset=".874" stop-color="#5a5a5a"/><stop offset=".892" stop-color="#414141"/><stop offset=".9" stop-color="#373737"/><stop offset=".909" stop-color="#2f2f2f"/><stop offset=".922" stop-color="#272727"/><stop offset=".952" stop-color="#1e1e1e"/><stop offset="1" stop-color="#1a1a1a"/></linearGradient><linearGradient id="b20"><stop offset="0" stop-color="#191919"/><stop offset=".052" stop-color="#1c1c1c"/><stop offset=".087" stop-color="#242424"/><stop offset=".108" stop-color="#313131"/><stop offset=".121" stop-color="#3e3e3e"/><stop offset=".139" stop-color="#535353"/><stop offset=".147" stop-color="#575757"/><stop offset=".225" stop-color="#363636"/><stop offset=".255" stop-color="#2f2f2f"/><stop offset=".294" stop-color="#292929"/><stop offset=".394" stop-color="#1f1f1f"/><stop offset=".602" stop-color="#1f1f1f"/><stop offset=".701" stop-color="#292929"/><stop offset=".753" stop-color="#333333"/><stop offset=".792" stop-color="#404040"/><stop offset=".853" stop-color="#5e5e5e"/><stop offset=".857" stop-color="#5d5d5d"/><stop offset=".861" stop-color="#5a5a5a"/><stop offset=".879" stop-color="#424242"/><stop offset=".892" stop-color="#343434"/><stop offset=".913" stop-color="#262626"/><stop offset=".931" stop-color="#202020"/><stop offset=".948" stop-color="#1c1c1c"/><stop offset="1" stop-color="#1a1a1a"/></linearGradient><linearGradient id="b21"><stop offset="0" stop-color="#191919"/><stop offset=".056" stop-color="#1b1b1b"/><stop offset=".095" stop-color="#222222"/><stop offset=".108" stop-color="#282828"/><stop offset=".121" stop-color="#313131"/><stop offset=".134" stop-color="#3e3e3e"/><stop offset=".147" stop-color="#4e4e4e"/><stop offset=".156" stop-color="#545454"/><stop offset=".169" stop-color="#515151"/><stop offset=".229" stop-color="#373737"/><stop offset=".281" stop-color="#2b2b2b"/><stop offset=".39" stop-color="#1f1f1f"/><stop offset=".502" stop-color="#1e1e1e"/><stop offset=".61" stop-color="#1f1f1f"/><stop offset=".719" stop-color="#2d2d2d"/><stop offset=".771" stop-color="#3a3a3a"/><stop offset=".831" stop-color="#575757"/><stop offset=".844" stop-color="#5b5b5b"/><stop offset=".853" stop-color="#545454"/><stop offset=".866" stop-color="#424242"/><stop offset=".879" stop-color="#343434"/><stop offset=".9" stop-color="#262626"/><stop offset=".918" stop-color="#202020"/><stop offset=".939" stop-color="#1c1c1c"/><stop offset="1" stop-color="#1a1a1a"/></linearGradient><linearGradient id="b22"><stop offset="0" stop-color="#191919"/><stop offset=".065" stop-color="#1a1a1a"/><stop offset=".087" stop-color="#1d1d1d"/><stop offset=".108" stop-color="#232323"/><stop offset=".121" stop-color="#282828"/><stop offset=".134" stop-color="#313131"/><stop offset=".143" stop-color="#393939"/><stop offset=".16" stop-color="#4d4d4d"/><stop offset=".169" stop-color="#525252"/><stop offset=".238" stop-color="#373737"/><stop offset=".29" stop-color="#2b2b2b"/><stop offset=".39" stop-color="#1f1f1f"/><stop offset=".485" stop-color="#1f1f1f"/><stop offset=".502" stop-color="#1d1d1d"/><stop offset=".515" stop-color="#1f1f1f"/><stop offset=".61" stop-color="#1f1f1f"/><stop offset=".71" stop-color="#2d2d2d"/><stop offset=".762" stop-color="#3a3a3a"/><stop offset=".818" stop-color="#545454"/><stop offset=".831" stop-color="#595959"/><stop offset=".84" stop-color="#535353"/><stop offset=".857" stop-color="#3c3c3c"/><stop offset=".866" stop-color="#343434"/><stop offset=".879" stop-color="#2a2a2a"/><stop offset=".892" stop-color="#242424"/><stop offset=".909" stop-color="#1f1f1f"/><stop offset=".935" stop-color="#1b1b1b"/><stop offset="1" stop-color="#1a1a1a"/></linearGradient><linearGradient id="b23"><stop offset="0" stop-color="#1a1a1a"/><stop offset=".074" stop-color="#1a1a1a"/><stop offset=".117" stop-color="#212121"/><stop offset=".143" stop-color="#2d2d2d"/><stop offset=".156" stop-color="#383838"/><stop offset=".173" stop-color="#4c4c4c"/><stop offset=".182" stop-color="#505050"/><stop offset=".247" stop-color="#373737"/><stop offset=".299" stop-color="#2b2b2b"/><stop offset=".39" stop-color="#1f1f1f"/><stop offset=".472" stop-color="#1e1e1e"/><stop offset=".502" stop-color="#1b1b1b"/><stop offset=".528" stop-color="#1e1e1e"/><stop offset=".61" stop-color="#1f1f1f"/><stop offset=".701" stop-color="#2d2d2d"/><stop offset=".753" stop-color="#3a3a3a"/><stop offset=".818" stop-color="#565656"/><stop offset=".823" stop-color="#555555"/><stop offset=".827" stop-color="#525252"/><stop offset=".844" stop-color="#3c3c3c"/><stop offset=".857" stop-color="#303030"/><stop offset=".87" stop-color="#282828"/><stop offset=".883" stop-color="#222222"/><stop offset=".905" stop-color="#1d1d1d"/><stop offset=".926" stop-color="#1b1b1b"/><stop offset="1" stop-color="#1a1a1a"/></linearGradient><linearGradient id="b24"><stop offset="0" stop-color="#1a1a1a"/><stop offset=".078" stop-color="#191919"/><stop offset=".126" stop-color="#202020"/><stop offset=".143" stop-color="#262626"/><stop offset=".156" stop-color="#2d2d2d"/><stop offset=".169" stop-color="#383838"/><stop offset=".186" stop-color="#4b4b4b"/><stop offset=".195" stop-color="#4d4d4d"/><stop offset=".247" stop-color="#3a3a3a"/><stop offset=".277" stop-color="#313131"/><stop offset=".385" stop-color="#1f1f1f"/><stop offset=".459" stop-color="#1e1e1e"/><stop offset=".498" stop-color="#1a1a1a"/><stop offset=".541" stop-color="#1e1e1e"/><stop offset=".606" stop-color="#1f1f1f"/><stop offset=".688" stop-color="#2c2c2c"/><stop offset=".723" stop-color="#333333"/><stop offset=".753" stop-color="#3d3d3d"/><stop offset=".805" stop-color="#535353"/><stop offset=".81" stop-color="#535353"/><stop offset=".814" stop-color="#505050"/><stop offset=".831" stop-color="#3b3b3b"/><stop offset=".844" stop-color="#2f2f2f"/><stop offset=".857" stop-color="#272727"/><stop offset=".874" stop-color="#212121"/><stop offset=".896" stop-color="#1c1c1c"/><stop offset=".922" stop-color="#1a1a1a"/><stop offset="1" stop-color="#1a1a1a"/></linearGradient><linearGradient id="b25"><stop offset="0" stop-color="#1a1a1a"/><stop offset=".087" stop-color="#191919"/><stop offset=".117" stop-color="#1b1b1b"/><stop offset=".139" stop-color="#1f1f1f"/><stop offset=".156" stop-color="#252525"/><stop offset=".169" stop-color="#2c2c2c"/><stop offset=".182" stop-color="#373737"/><stop offset=".195" stop-color="#454545"/><stop offset=".203" stop-color="#4b4b4b"/><stop offset=".212" stop-color="#4a4a4a"/><stop offset=".255" stop-color="#3a3a3a"/><stop offset=".286" stop-color="#313131"/><stop offset=".385" stop-color="#202020"/><stop offset=".45" stop-color="#1e1e1e"/><stop offset=".498" stop-color="#191919"/><stop offset=".55" stop-color="#1e1e1e"/><stop offset=".606" stop-color="#1f1f1f"/><stop offset=".714" stop-color="#333333"/><stop offset=".745" stop-color="#3d3d3d"/><stop offset=".788" stop-color="#4f4f4f"/><stop offset=".797" stop-color="#515151"/><stop offset=".805" stop-color="#4a4a4a"/><stop offset=".818" stop-color="#3b3b3b"/><stop offset=".831" stop-color="#2f2f2f"/><stop offset=".844" stop-color="#272727"/><stop offset=".861" stop-color="#202020"/><stop offset=".883" stop-color="#1c1c1c"/><stop offset=".913" stop-color="#191919"/><stop offset="1" stop-color="#1a1a1a"/></linearGradient><linearGradient id="b26"><stop offset="0" stop-color="#1a1a1a"/><stop offset=".095" stop-color="#191919"/><stop offset=".147" stop-color="#1e1e1e"/><stop offset=".165" stop-color="#232323"/><stop offset=".182" stop-color="#2c2c2c"/><stop offset=".195" stop-color="#363636"/><stop offset=".208" stop-color="#444444"/><stop offset=".216" stop-color="#494949"/><stop offset=".294" stop-color="#313131"/><stop offset=".39" stop-color="#1f1f1f"/><stop offset=".442" stop-color="#1e1e1e"/><stop offset=".498" stop-color="#181818"/><stop offset=".558" stop-color="#1e1e1e"/><stop offset=".606" stop-color="#1f1f1f"/><stop offset=".706" stop-color="#333333"/><stop offset=".784" stop-color="#4e4e4e"/><stop offset=".792" stop-color="#494949"/><stop offset=".805" stop-color="#3a3a3a"/><stop offset=".818" stop-color="#2e2e2e"/><stop offset=".835" stop-color="#242424"/><stop offset=".853" stop-color="#1f1f1f"/><stop offset=".905" stop-color="#191919"/><stop offset="1" stop-color="#1a1a1a"/></linearGradient><linearGradient id="b27"><stop offset="0" stop-color="#1a1a1a"/><stop offset=".104" stop-color="#181818"/><stop offset=".156" stop-color="#1d1d1d"/><stop offset=".173" stop-color="#212121"/><stop offset=".19" stop-color="#282828"/><stop offset=".203" stop-color="#323232"/><stop offset=".221" stop-color="#434343"/><stop offset=".229" stop-color="#474747"/><stop offset=".303" stop-color="#313131"/><stop offset=".385" stop-color="#202020"/><stop offset=".489" stop-color="#181818"/><stop offset=".515" stop-color="#181818"/><stop offset=".619" stop-color="#212121"/><stop offset=".701" stop-color="#343434"/><stop offset=".771" stop-color="#4c4c4c"/><stop offset=".779" stop-color="#474747"/><stop offset=".797" stop-color="#343434"/><stop offset=".81" stop-color="#2a2a2a"/><stop offset=".823" stop-color="#242424"/><stop offset=".84" stop-color="#1e1e1e"/><stop offset=".866" stop-color="#1a1a1a"/><stop offset=".896" stop-color="#191919"/><stop offset="1" stop-color="#1a1a1a"/></linearGradient><linearGradient id="b28"><stop offset="0" stop-color="#1a1a1a"/><stop offset=".113" stop-color="#181818"/><stop offset=".169" stop-color="#1c1c1c"/><stop offset=".186" stop-color="#202020"/><stop offset=".203" stop-color="#282828"/><stop offset=".216" stop-color="#313131"/><stop offset=".234" stop-color="#414141"/><stop offset=".242" stop-color="#454545"/><stop offset=".307" stop-color="#323232"/><stop offset=".39" stop-color="#1f1f1f"/><stop offset=".485" stop-color="#181818"/><stop offset=".519" stop-color="#181818"/><stop offset=".615" stop-color="#202020"/><stop offset=".693" stop-color="#343434"/><stop offset=".758" stop-color="#4a4a4a"/><stop offset=".766" stop-color="#454545"/><stop offset=".784" stop-color="#333333"/><stop offset=".797" stop-color="#2a2a2a"/><stop offset=".814" stop-color="#222222"/><stop offset=".831" stop-color="#1d1d1d"/><stop offset=".887" stop-color="#181818"/><stop offset="1" stop-color="#1a1a1a"/></linearGradient><linearGradient id="b29"><stop offset="0" stop-color="#1a1a1a"/><stop offset=".121" stop-color="#181818"/><stop offset=".177" stop-color="#1b1b1b"/><stop offset=".195" stop-color="#1f1f1f"/><stop offset=".212" stop-color="#252525"/><stop offset=".225" stop-color="#2d2d2d"/><stop offset=".247" stop-color="#3f3f3f"/><stop offset=".255" stop-color="#424242"/><stop offset=".39" stop-color="#1f1f1f"/><stop offset=".485" stop-color="#181818"/><stop offset=".524" stop-color="#181818"/><stop offset=".615" stop-color="#202020"/><stop offset=".745" stop-color="#474747"/><stop offset=".753" stop-color="#434343"/><stop offset=".771" stop-color="#323232"/><stop offset=".784" stop-color="#292929"/><stop offset=".801" stop-color="#212121"/><stop offset=".823" stop-color="#1c1c1c"/><stop offset=".879" stop-color="#181818"/><stop offset="1" stop-color="#1a1a1a"/></linearGradient><linearGradient id="b30"><stop offset="0" stop-color="#1a1a1a"/><stop offset=".13" stop-color="#171717"/><stop offset=".186" stop-color="#1a1a1a"/><stop offset=".208" stop-color="#1e1e1e"/><stop offset=".225" stop-color="#242424"/><stop offset=".238" stop-color="#2b2b2b"/><stop offset=".264" stop-color="#3e3e3e"/><stop offset=".273" stop-color="#404040"/><stop offset=".394" stop-color="#1e1e1e"/><stop offset=".481" stop-color="#181818"/><stop offset=".528" stop-color="#181818"/><stop offset=".61" stop-color="#1f1f1f"/><stop offset=".714" stop-color="#404040"/><stop offset=".732" stop-color="#444444"/><stop offset=".74" stop-color="#3f3f3f"/><stop offset=".758" stop-color="#313131"/><stop offset=".771" stop-color="#282828"/><stop offset=".788" stop-color="#212121"/><stop offset=".81" stop-color="#1c1c1c"/><stop offset=".866" stop-color="#181818"/><stop offset="1" stop-color="#1a1a1a"/></linearGradient><linearGradient id="b31"><stop offset="0" stop-color="#1a1a1a"/><stop offset=".143" stop-color="#171717"/><stop offset=".199" stop-color="#1a1a1a"/><stop offset=".221" stop-color="#1e1e1e"/><stop offset=".238" stop-color="#242424"/><stop offset=".255" stop-color="#2c2c2c"/><stop offset=".277" stop-color="#3b3b3b"/><stop offset=".286" stop-color="#3d3d3d"/><stop offset=".333" stop-color="#313131"/><stop offset=".394" stop-color="#1d1d1d"/><stop offset=".481" stop-color="#181818"/><stop offset=".532" stop-color="#181818"/><stop offset=".61" stop-color="#1e1e1e"/><stop offset=".662" stop-color="#323232"/><stop offset=".714" stop-color="#414141"/><stop offset=".723" stop-color="#3e3e3e"/><stop offset=".745" stop-color="#2e2e2e"/><stop offset=".762" stop-color="#252525"/><stop offset=".779" stop-color="#1f1f1f"/><stop offset=".801" stop-color="#1b1b1b"/><stop offset=".857" stop-color="#181818"/><stop offset="1" stop-color="#1a1a1a"/></linearGradient><linearGradient id="b32"><stop offset="0" stop-color="#1a1a1a"/><stop offset=".152" stop-color="#171717"/><stop offset=".208" stop-color="#191919"/><stop offset=".251" stop-color="#222222"/><stop offset=".268" stop-color="#2a2a2a"/><stop offset=".294" stop-color="#393939"/><stop offset=".303" stop-color="#3a3a3a"/><stop offset=".338" stop-color="#313131"/><stop offset=".394" stop-color="#1d1d1d"/><stop offset=".481" stop-color="#171717"/><stop offset=".537" stop-color="#181818"/><stop offset=".606" stop-color="#1d1d1d"/><stop offset=".662" stop-color="#343434"/><stop offset=".697" stop-color="#3e3e3e"/><stop offset=".706" stop-color="#3c3c3c"/><stop offset=".732" stop-color="#2c2c2c"/><stop offset=".749" stop-color="#242424"/><stop offset=".771" stop-color="#1d1d1d"/><stop offset=".792" stop-color="#1a1a1a"/><stop offset=".848" stop-color="#171717"/><stop offset="1" stop-color="#1a1a1a"/></linearGradient><linearGradient id="b33"><stop offset="0" stop-color="#1a1a1a"/><stop offset=".16" stop-color="#171717"/><stop offset=".216" stop-color="#191919"/><stop offset=".264" stop-color="#212121"/><stop offset=".307" stop-color="#333333"/><stop offset=".32" stop-color="#363636"/><stop offset=".342" stop-color="#313131"/><stop offset=".381" stop-color="#202020"/><stop offset=".398" stop-color="#1b1b1b"/><stop offset=".476" stop-color="#161616"/><stop offset=".532" stop-color="#171717"/><stop offset=".606" stop-color="#1c1c1c"/><stop offset=".619" stop-color="#202020"/><stop offset=".654" stop-color="#323232"/><stop offset=".68" stop-color="#393939"/><stop offset=".693" stop-color="#363636"/><stop offset=".719" stop-color="#292929"/><stop offset=".736" stop-color="#222222"/><stop offset=".784" stop-color="#191919"/><stop offset=".84" stop-color="#171717"/><stop offset="1" stop-color="#1a1a1a"/></linearGradient><linearGradient id="b34"><stop offset="0" stop-color="#1a1a1a"/><stop offset=".169" stop-color="#171717"/><stop offset=".221" stop-color="#181818"/><stop offset=".273" stop-color="#1f1f1f"/><stop offset=".325" stop-color="#2f2f2f"/><stop offset=".338" stop-color="#313131"/><stop offset=".346" stop-color="#2f2f2f"/><stop offset=".385" stop-color="#1d1d1d"/><stop offset=".398" stop-color="#1a1a1a"/><stop offset=".472" stop-color="#151515"/><stop offset=".524" stop-color="#151515"/><stop offset=".606" stop-color="#1b1b1b"/><stop offset=".654" stop-color="#323232"/><stop offset=".662" stop-color="#343434"/><stop offset=".675" stop-color="#323232"/><stop offset=".727" stop-color="#1f1f1f"/><stop offset=".775" stop-color="#181818"/><stop offset=".827" stop-color="#171717"/><stop offset="1" stop-color="#1a1a1a"/></linearGradient><linearGradient id="b35"><stop offset="0" stop-color="#1a1a1a"/><stop offset=".225" stop-color="#171717"/><stop offset=".277" stop-color="#1c1c1c"/><stop offset=".346" stop-color="#2a2a2a"/><stop offset=".359" stop-color="#282828"/><stop offset=".398" stop-color="#191919"/><stop offset=".472" stop-color="#141414"/><stop offset=".519" stop-color="#141414"/><stop offset=".602" stop-color="#191919"/><stop offset=".61" stop-color="#1b1b1b"/><stop offset=".641" stop-color="#2a2a2a"/><stop offset=".654" stop-color="#2c2c2c"/><stop offset=".719" stop-color="#1d1d1d"/><stop offset=".771" stop-color="#171717"/><stop offset=".818" stop-color="#171717"/><stop offset="1" stop-color="#1a1a1a"/></linearGradient><linearGradient id="b36"><stop offset="0" stop-color="#1a1a1a"/><stop offset=".229" stop-color="#161616"/><stop offset=".277" stop-color="#191919"/><stop offset=".351" stop-color="#232323"/><stop offset=".372" stop-color="#212121"/><stop offset=".398" stop-color="#191919"/><stop offset=".515" stop-color="#151515"/><stop offset=".602" stop-color="#191919"/><stop offset=".628" stop-color="#222222"/><stop offset=".649" stop-color="#242424"/><stop offset=".723" stop-color="#1a1a1a"/><stop offset=".771" stop-color="#171717"/><stop offset="1" stop-color="#1a1a1a"/></linearGradient><linearGradient id="b37"><stop offset="0" stop-color="#1a1a1a"/><stop offset=".229" stop-color="#161616"/><stop offset=".277" stop-color="#181818"/><stop offset=".351" stop-color="#1e1e1e"/><stop offset=".372" stop-color="#1d1d1d"/><stop offset=".398" stop-color="#1a1a1a"/><stop offset=".515" stop-color="#191919"/><stop offset=".602" stop-color="#1a1a1a"/><stop offset=".645" stop-color="#1f1f1f"/><stop offset=".723" stop-color="#181818"/><stop offset=".766" stop-color="#161616"/><stop offset="1" stop-color="#1a1a1a"/></linearGradient><linearGradient id="b38"><stop offset="0" stop-color="#1a1a1a"/><stop offset=".238" stop-color="#161616"/><stop offset=".351" stop-color="#1b1b1b"/><stop offset=".398" stop-color="#1a1a1a"/><stop offset=".498" stop-color="#1c1c1c"/><stop offset=".602" stop-color="#1a1a1a"/><stop offset=".649" stop-color="#1c1c1c"/><stop offset=".762" stop-color="#161616"/><stop offset="1" stop-color="#1a1a1a"/></linearGradient><linearGradient id="b39"><stop offset="0" stop-color="#1a1a1a"/><stop offset=".251" stop-color="#161616"/><stop offset=".398" stop-color="#191919"/><stop offset=".498" stop-color="#1e1e1e"/><stop offset=".74" stop-color="#161616"/><stop offset="1" stop-color="#1a1a1a"/></linearGradient><linearGradient id="b40"><stop offset="0" stop-color="#1a1a1a"/><stop offset=".286" stop-color="#161616"/><stop offset=".394" stop-color="#181818"/><stop offset=".498" stop-color="#202020"/><stop offset=".606" stop-color="#191919"/><stop offset=".714" stop-color="#161616"/><stop offset="1" stop-color="#1a1a1a"/></linearGradient><linearGradient id="b41"><stop offset="0" stop-color="#1a1a1a"/><stop offset=".312" stop-color="#161616"/><stop offset=".394" stop-color="#181818"/><stop offset=".498" stop-color="#212121"/><stop offset=".532" stop-color="#1f1f1f"/><stop offset=".606" stop-color="#181818"/><stop offset=".688" stop-color="#161616"/><stop offset="1" stop-color="#1a1a1a"/></linearGradient><linearGradient id="b42"><stop offset="0" stop-color="#1a1a1a"/><stop offset=".329" stop-color="#161616"/><stop offset=".39" stop-color="#181818"/><stop offset=".498" stop-color="#212121"/><stop offset=".532" stop-color="#202020"/><stop offset=".61" stop-color="#181818"/><stop offset=".671" stop-color="#161616"/><stop offset="1" stop-color="#1a1a1a"/></linearGradient><linearGradient id="b43"><stop offset="0" stop-color="#1a1a1a"/><stop offset=".333" stop-color="#161616"/><stop offset=".39" stop-color="#181818"/><stop offset=".463" stop-color="#202020"/><stop offset=".498" stop-color="#222222"/><stop offset=".532" stop-color="#212121"/><stop offset=".61" stop-color="#181818"/><stop offset=".667" stop-color="#161616"/><stop offset="1" stop-color="#1a1a1a"/></linearGradient><linearGradient id="b44"><stop offset="0" stop-color="#1a1a1a"/><stop offset=".333" stop-color="#161616"/><stop offset=".385" stop-color="#181818"/><stop offset=".463" stop-color="#212121"/><stop offset=".498" stop-color="#232323"/><stop offset=".537" stop-color="#212121"/><stop offset=".615" stop-color="#181818"/><stop offset=".667" stop-color="#161616"/><stop offset="1" stop-color="#1a1a1a"/></linearGradient><linearGradient id="b45"><stop offset="0" stop-color="#1a1a1a"/><stop offset=".333" stop-color="#161616"/><stop offset=".385" stop-color="#191919"/><stop offset=".463" stop-color="#212121"/><stop offset=".498" stop-color="#232323"/><stop offset=".537" stop-color="#212121"/><stop offset=".619" stop-color="#181818"/><stop offset=".667" stop-color="#161616"/><stop offset="1" stop-color="#1a1a1a"/></linearGradient><linearGradient id="b46"><stop offset="0" stop-color="#1a1a1a"/><stop offset=".329" stop-color="#171717"/><stop offset=".381" stop-color="#191919"/><stop offset=".459" stop-color="#212121"/><stop offset=".498" stop-color="#232323"/><stop offset=".537" stop-color="#212121"/><stop offset=".623" stop-color="#191919"/><stop offset=".671" stop-color="#171717"/><stop offset="1" stop-color="#1a1a1a"/></linearGradient><linearGradient id="b47"><stop offset="0" stop-color="#1a1a1a"/><stop offset=".325" stop-color="#171717"/><stop offset=".377" stop-color="#191919"/><stop offset=".459" stop-color="#212121"/><stop offset=".498" stop-color="#232323"/><stop offset=".675" stop-color="#171717"/><stop offset="1" stop-color="#1a1a1a"/></linearGradient><linearGradient id="b48"><stop offset="0" stop-color="#1a1a1a"/><stop offset=".32" stop-color="#181818"/><stop offset=".498" stop-color="#232323"/><stop offset=".68" stop-color="#181818"/><stop offset="1" stop-color="#1a1a1a"/></linearGradient><linearGradient id="b49"><stop offset="0" stop-color="#1a1a1a"/><stop offset=".316" stop-color="#181818"/><stop offset=".498" stop-color="#232323"/><stop offset=".684" stop-color="#181818"/><stop offset="1" stop-color="#1a1a1a"/></linearGradient><linearGradient id="b50"><stop offset="0" stop-color="#1a1a1a"/><stop offset=".312" stop-color="#191919"/><stop offset=".498" stop-color="#232323"/><stop offset=".688" stop-color="#191919"/><stop offset="1" stop-color="#1a1a1a"/></linearGradient><linearGradient id="b51"><stop offset="0" stop-color="#1a1a1a"/><stop offset=".307" stop-color="#191919"/><stop offset=".498" stop-color="#232323"/><stop offset=".693" stop-color="#191919"/><stop offset="1" stop-color="#1a1a1a"/></linearGradient><linearGradient id="b52"><stop offset="0" stop-color="#1a1a1a"/><stop offset=".303" stop-color="#1a1a1a"/><stop offset=".498" stop-color="#242424"/><stop offset=".697" stop-color="#1a1a1a"/><stop offset="1" stop-color="#1a1a1a"/></linearGradient><linearGradient id="b53"><stop offset="0" stop-color="#1a1a1a"/><stop offset=".294" stop-color="#1a1a1a"/><stop offset=".498" stop-color="#252525"/><stop offset=".706" stop-color="#1a1a1a"/><stop offset="1" stop-color="#1a1a1a"/></linearGradient><linearGradient id="b54"><stop offset="0" stop-color="#1a1a1a"/><stop offset=".286" stop-color="#1b1b1b"/><stop offset=".498" stop-color="#252525"/><stop offset=".714" stop-color="#1b1b1b"/><stop offset="1" stop-color="#1a1a1a"/></linearGradient><linearGradient id="b55"><stop offset="0" stop-color="#1a1a1a"/><stop offset=".273" stop-color="#1b1b1b"/><stop offset=".498" stop-color="#262626"/><stop offset=".727" stop-color="#1b1b1b"/><stop offset="1" stop-color="#1a1a1a"/></linearGradient><linearGradient id="b56"><stop offset="0" stop-color="#1a1a1a"/><stop offset=".264" stop-color="#1b1b1b"/><stop offset=".498" stop-color="#262626"/><stop offset=".736" stop-color="#1b1b1b"/><stop offset="1" stop-color="#1a1a1a"/></linearGradient><linearGradient id="b57"><stop offset="0" stop-color="#1a1a1a"/><stop offset=".255" stop-color="#1c1c1c"/><stop offset=".498" stop-color="#272727"/><stop offset=".749" stop-color="#1b1b1b"/><stop offset="1" stop-color="#1a1a1a"/></linearGradient><linearGradient id="b58"><stop offset="0" stop-color="#1a1a1a"/><stop offset=".242" stop-color="#1c1c1c"/><stop offset=".498" stop-color="#282828"/><stop offset=".554" stop-color="#262626"/><stop offset=".758" stop-color="#1c1c1c"/><stop offset="1" stop-color="#1a1a1a"/></linearGradient><linearGradient id="b59"><stop offset="0" stop-color="#1a1a1a"/><stop offset=".234" stop-color="#1c1c1c"/><stop offset=".498" stop-color="#282828"/><stop offset=".558" stop-color="#272727"/><stop offset=".766" stop-color="#1c1c1c"/><stop offset="1" stop-color="#1a1a1a"/></linearGradient><linearGradient id="b60"><stop offset="0" stop-color="#1a1a1a"/><stop offset=".229" stop-color="#1c1c1c"/><stop offset=".437" stop-color="#272727"/><stop offset=".498" stop-color="#292929"/><stop offset=".563" stop-color="#272727"/><stop offset=".775" stop-color="#1c1c1c"/><stop offset="1" stop-color="#1a1a1a"/></linearGradient><linearGradient id="b61"><stop offset="0" stop-color="#1a1a1a"/><stop offset=".221" stop-color="#1c1c1c"/><stop offset=".433" stop-color="#282828"/><stop offset=".498" stop-color="#292929"/><stop offset=".567" stop-color="#282828"/><stop offset=".779" stop-color="#1c1c1c"/><stop offset="1" stop-color="#1a1a1a"/></linearGradient><linearGradient id="b62"><stop offset="0" stop-color="#1a1a1a"/><stop offset=".212" stop-color="#1c1c1c"/><stop offset=".429" stop-color="#282828"/><stop offset=".498" stop-color="#2a2a2a"/><stop offset=".567" stop-color="#282828"/><stop offset=".788" stop-color="#1c1c1c"/><stop offset="1" stop-color="#1a1a1a"/></linearGradient><linearGradient id="b63"><stop offset="0" stop-color="#1a1a1a"/><stop offset=".208" stop-color="#1c1c1c"/><stop offset=".429" stop-color="#292929"/><stop offset=".498" stop-color="#2b2b2b"/><stop offset=".571" stop-color="#292929"/><stop offset=".792" stop-color="#1c1c1c"/><stop offset="1" stop-color="#1a1a1a"/></linearGradient><filter id="bf" filterUnits="userSpaceOnUse" x="781" y="62" width="461.7" height="460.7" color-interpolation-filters="sRGB"><feGaussianBlur stdDeviation="0 2.2"/><feComponentTransfer><feFuncR type="table" tableValues="0.031 0.028 0.027 0.027 0.027 0.029 0.033 0.038 0.044 0.052 0.059 0.068 0.077 0.087 0.097 0.108 0.12 0.131 0.144 0.156 0.169 0.181 0.194 0.207 0.219 0.232 0.245 0.258 0.271 0.284 0.297 0.311 0.325 0.338 0.352 0.366 0.38 0.393 0.407 0.421 0.434 0.448 0.461 0.475 0.488 0.501 0.514 0.527 0.54 0.552 0.565 0.578 0.59 0.603 0.615 0.628 0.64 0.652 0.664 0.677 0.689 0.701 0.712 0.724 0.736 0.747 0.758 0.77 0.781 0.791 0.802 0.812 0.822 0.832 0.842 0.851 0.861 0.869 0.878 0.886 0.894 0.902 0.909 0.916 0.923 0.93 0.936 0.942 0.947 0.952 0.957 0.961 0.965 0.969 0.973 0.976 0.978 0.981 0.983 0.985 0.986 0.987 0.988 0.988 0.988 0.987 0.987 0.986 0.984 0.982 0.98 0.977 0.975 0.971 0.968 0.964 0.961 0.957 0.953 0.95 0.948 0.946 0.947 0.95 0.955 0.962 0.971 0.982 0.988"/><feFuncG type="table" tableValues="0.031 0.029 0.028 0.028 0.029 0.031 0.034 0.038 0.042 0.047 0.053 0.06 0.066 0.073 0.079 0.085 0.09 0.095 0.1 0.104 0.107 0.111 0.115 0.118 0.122 0.126 0.129 0.132 0.135 0.137 0.138 0.139 0.139 0.138 0.137 0.136 0.135 0.133 0.132 0.131 0.13 0.13 0.13 0.131 0.132 0.133 0.135 0.138 0.14 0.143 0.147 0.15 0.154 0.158 0.163 0.167 0.172 0.177 0.182 0.187 0.192 0.198 0.204 0.21 0.216 0.222 0.229 0.236 0.243 0.251 0.259 0.267 0.275 0.284 0.293 0.302 0.312 0.322 0.332 0.343 0.353 0.364 0.376 0.387 0.399 0.411 0.424 0.436 0.449 0.462 0.475 0.489 0.502 0.516 0.53 0.544 0.558 0.572 0.587 0.601 0.616 0.63 0.645 0.66 0.675 0.69 0.706 0.721 0.736 0.751 0.767 0.782 0.798 0.813 0.829 0.844 0.859 0.874 0.889 0.903 0.917 0.931 0.943 0.955 0.966 0.976 0.985 0.994 0.998"/><feFuncB type="table" tableValues="0.049 0.054 0.063 0.076 0.088 0.102 0.116 0.131 0.146 0.162 0.179 0.197 0.215 0.234 0.253 0.272 0.291 0.309 0.325 0.341 0.355 0.368 0.379 0.388 0.396 0.403 0.409 0.414 0.419 0.422 0.425 0.428 0.429 0.431 0.432 0.433 0.433 0.433 0.433 0.432 0.432 0.43 0.429 0.427 0.426 0.423 0.421 0.418 0.415 0.412 0.408 0.404 0.4 0.396 0.391 0.386 0.381 0.376 0.37 0.364 0.358 0.351 0.344 0.337 0.33 0.323 0.315 0.307 0.3 0.291 0.283 0.275 0.266 0.257 0.249 0.24 0.231 0.221 0.212 0.203 0.194 0.184 0.175 0.165 0.155 0.145 0.135 0.125 0.115 0.105 0.095 0.084 0.074 0.063 0.053 0.044 0.035 0.029 0.025 0.024 0.026 0.031 0.04 0.052 0.065 0.08 0.096 0.112 0.13 0.148 0.166 0.186 0.206 0.228 0.25 0.273 0.298 0.324 0.351 0.38 0.411 0.442 0.475 0.508 0.54 0.572 0.602 0.631 0.645"/><feFuncA type="linear" slope="0" intercept="1"/></feComponentTransfer></filter><clipPath id="bc"><rect x="781" y="70" width="461.7" height="444.7"/></clipPath></defs>
<g clip-path="url(#bc)"><g filter="url(#bf)"><rect x="781" y="61.7" width="461.7" height="15.55" fill="url(#b0)"/><rect x="781" y="76.65" width="461.7" height="7.55" fill="url(#b1)"/><rect x="781" y="83.6" width="461.7" height="7.55" fill="url(#b2)"/><rect x="781" y="90.55" width="461.7" height="7.55" fill="url(#b3)"/><rect x="781" y="97.49" width="461.7" height="7.55" fill="url(#b4)"/><rect x="781" y="104.44" width="461.7" height="7.55" fill="url(#b5)"/><rect x="781" y="111.39" width="461.7" height="7.55" fill="url(#b6)"/><rect x="781" y="118.34" width="461.7" height="7.55" fill="url(#b7)"/><rect x="781" y="125.29" width="461.7" height="7.55" fill="url(#b8)"/><rect x="781" y="132.24" width="461.7" height="7.55" fill="url(#b9)"/><rect x="781" y="139.18" width="461.7" height="7.55" fill="url(#b10)"/><rect x="781" y="146.13" width="461.7" height="7.55" fill="url(#b11)"/><rect x="781" y="153.08" width="461.7" height="7.55" fill="url(#b12)"/><rect x="781" y="160.03" width="461.7" height="7.55" fill="url(#b13)"/><rect x="781" y="166.98" width="461.7" height="7.55" fill="url(#b14)"/><rect x="781" y="173.93" width="461.7" height="7.55" fill="url(#b15)"/><rect x="781" y="180.88" width="461.7" height="7.55" fill="url(#b16)"/><rect x="781" y="187.82" width="461.7" height="7.55" fill="url(#b17)"/><rect x="781" y="194.77" width="461.7" height="7.55" fill="url(#b18)"/><rect x="781" y="201.72" width="461.7" height="7.55" fill="url(#b19)"/><rect x="781" y="208.67" width="461.7" height="7.55" fill="url(#b20)"/><rect x="781" y="215.62" width="461.7" height="7.55" fill="url(#b21)"/><rect x="781" y="222.57" width="461.7" height="7.55" fill="url(#b22)"/><rect x="781" y="229.51" width="461.7" height="7.55" fill="url(#b23)"/><rect x="781" y="236.46" width="461.7" height="7.55" fill="url(#b24)"/><rect x="781" y="243.41" width="461.7" height="7.55" fill="url(#b25)"/><rect x="781" y="250.36" width="461.7" height="7.55" fill="url(#b26)"/><rect x="781" y="257.31" width="461.7" height="7.55" fill="url(#b27)"/><rect x="781" y="264.26" width="461.7" height="7.55" fill="url(#b28)"/><rect x="781" y="271.2" width="461.7" height="7.55" fill="url(#b29)"/><rect x="781" y="278.15" width="461.7" height="7.55" fill="url(#b30)"/><rect x="781" y="285.1" width="461.7" height="7.55" fill="url(#b31)"/><rect x="781" y="292.05" width="461.7" height="7.55" fill="url(#b32)"/><rect x="781" y="299" width="461.7" height="7.55" fill="url(#b33)"/><rect x="781" y="305.95" width="461.7" height="7.55" fill="url(#b34)"/><rect x="781" y="312.9" width="461.7" height="7.55" fill="url(#b35)"/><rect x="781" y="319.84" width="461.7" height="7.55" fill="url(#b36)"/><rect x="781" y="326.79" width="461.7" height="7.55" fill="url(#b37)"/><rect x="781" y="333.74" width="461.7" height="7.55" fill="url(#b38)"/><rect x="781" y="340.69" width="461.7" height="7.55" fill="url(#b39)"/><rect x="781" y="347.64" width="461.7" height="7.55" fill="url(#b40)"/><rect x="781" y="354.59" width="461.7" height="7.55" fill="url(#b41)"/><rect x="781" y="361.53" width="461.7" height="7.55" fill="url(#b42)"/><rect x="781" y="368.48" width="461.7" height="7.55" fill="url(#b43)"/><rect x="781" y="375.43" width="461.7" height="7.55" fill="url(#b44)"/><rect x="781" y="382.38" width="461.7" height="7.55" fill="url(#b45)"/><rect x="781" y="389.33" width="461.7" height="7.55" fill="url(#b46)"/><rect x="781" y="396.28" width="461.7" height="7.55" fill="url(#b47)"/><rect x="781" y="403.23" width="461.7" height="7.55" fill="url(#b48)"/><rect x="781" y="410.17" width="461.7" height="7.55" fill="url(#b49)"/><rect x="781" y="417.12" width="461.7" height="7.55" fill="url(#b50)"/><rect x="781" y="424.07" width="461.7" height="7.55" fill="url(#b51)"/><rect x="781" y="431.02" width="461.7" height="7.55" fill="url(#b52)"/><rect x="781" y="437.97" width="461.7" height="7.55" fill="url(#b53)"/><rect x="781" y="444.92" width="461.7" height="7.55" fill="url(#b54)"/><rect x="781" y="451.86" width="461.7" height="7.55" fill="url(#b55)"/><rect x="781" y="458.81" width="461.7" height="7.55" fill="url(#b56)"/><rect x="781" y="465.76" width="461.7" height="7.55" fill="url(#b57)"/><rect x="781" y="472.71" width="461.7" height="7.55" fill="url(#b58)"/><rect x="781" y="479.66" width="461.7" height="7.55" fill="url(#b59)"/><rect x="781" y="486.61" width="461.7" height="7.55" fill="url(#b60)"/><rect x="781" y="493.55" width="461.7" height="7.55" fill="url(#b61)"/><rect x="781" y="500.5" width="461.7" height="7.55" fill="url(#b62)"/><rect x="781" y="507.45" width="461.7" height="15.55" fill="url(#b63)"/></g></g>
<defs><linearGradient id="bcb" x1="0" y1="0" x2="0" y2="1"><stop offset="0" stop-color="#fcffa4"/><stop offset="0.0312" stop-color="#f3f68a"/><stop offset="0.0625" stop-color="#f2ea69"/><stop offset="0.0938" stop-color="#f5db4c"/><stop offset="0.125" stop-color="#f9cb35"/><stop offset="0.1562" stop-color="#fbbc21"/><stop offset="0.1875" stop-color="#fcac11"/><stop offset="0.2188" stop-color="#fb9d07"/><stop offset="0.25" stop-color="#f98e09"/><stop offset="0.2812" stop-color="#f68013"/><stop offset="0.3125" stop-color="#f1731d"/><stop offset="0.3438" stop-color="#eb6628"/><stop offset="0.375" stop-color="#e45a31"/><stop offset="0.4062" stop-color="#db503b"/><stop offset="0.4375" stop-color="#d24644"/><stop offset="0.4688" stop-color="#c73e4c"/><stop offset="0.5" stop-color="#bc3754"/><stop offset="0.5312" stop-color="#b0315b"/><stop offset="0.5625" stop-color="#a32c61"/><stop offset="0.5938" stop-color="#972766"/><stop offset="0.625" stop-color="#8a246a"/><stop offset="0.6562" stop-color="#7c226d"/><stop offset="0.6875" stop-color="#6f216e"/><stop offset="0.7188" stop-color="#61226e"/><stop offset="0.75" stop-color="#53236e"/><stop offset="0.7812" stop-color="#45226b"/><stop offset="0.8125" stop-color="#381f65"/><stop offset="0.8438" stop-color="#2b1b5b"/><stop offset="0.875" stop-color="#1f174a"/><stop offset="0.9062" stop-color="#141137"/><stop offset="0.9375" stop-color="#0b0b25"/><stop offset="0.9688" stop-color="#070717"/><stop offset="1" stop-color="#08080c"/></linearGradient></defs><rect x="1256.1" y="70" width="19" height="444.7" fill="url(#bcb)"/>
<text x="685" y="36" font-size="42.5" class="pl">(b)</text>
<text x="774.7" y="79.7" font-size="33" text-anchor="end">625</text>
<text x="774.7" y="190.88" font-size="33" text-anchor="end">620</text>
<text x="774.7" y="302.05" font-size="33" text-anchor="end">615</text>
<text x="774.7" y="413.23" font-size="33" text-anchor="end">610</text>
<text x="774.7" y="524.4" font-size="33" text-anchor="end">605</text>
<text x="781" y="547.8" font-size="33" text-anchor="middle">−4</text>
<text x="896.42" y="547.8" font-size="33" text-anchor="middle">−2</text>
<text x="1011.85" y="547.8" font-size="33" text-anchor="middle">0</text>
<text x="1127.28" y="547.8" font-size="33" text-anchor="middle">2</text>
<text x="1242.7" y="547.8" font-size="33" text-anchor="middle">4</text>
<text x="1011.85" y="595" font-size="33" text-anchor="middle">Incident angle (deg)</text>
<text transform="translate(706,290.55) rotate(-90)" font-size="33" text-anchor="middle">wavelength (nm)</text>
<text x="1265.6" y="50.1" font-size="33" text-anchor="middle">Reflection</text>
<text x="1283.3" y="525.3" font-size="33">0</text>
<text x="1283.3" y="436.36" font-size="33">0.2</text>
<text x="1283.3" y="347.42" font-size="33">0.4</text>
<text x="1283.3" y="258.48" font-size="33">0.6</text>
<text x="1283.3" y="169.54" font-size="33">0.8</text>
<text x="1283.3" y="80.6" font-size="33">1</text>
<!-- panel c -->
<defs><linearGradient id="c0"><stop offset="0" stop-color="#555555"/><stop offset=".013" stop-color="#424242"/><stop offset=".026" stop-color="#343434"/><stop offset=".043" stop-color="#272727"/><stop offset=".061" stop-color="#1f1f1f"/><stop offset=".082" stop-color="#181818"/><stop offset=".108" stop-color="#131313"/><stop offset=".186" stop-color="#0b0b0b"/><stop offset=".286" stop-color="#080808"/><stop offset=".485" stop-color="#060606"/><stop offset=".861" stop-color="#080808"/><stop offset=".918" stop-color="#0a0a0a"/><stop offset=".957" stop-color="#0e0e0e"/><stop offset=".978" stop-color="#141414"/><stop offset="1" stop-color="#1f1f1f"/></linearGradient><linearGradient id="c1"><stop offset="0" stop-color="#636363"/><stop offset=".017" stop-color="#474747"/><stop offset=".03" stop-color="#383838"/><stop offset=".043" stop-color="#2c2c2c"/><stop offset=".061" stop-color="#222222"/><stop offset=".082" stop-color="#1a1a1a"/><stop offset=".108" stop-color="#141414"/><stop offset=".186" stop-color="#0b0b0b"/><stop offset=".286" stop-color="#080808"/><stop offset=".489" stop-color="#060606"/><stop offset=".866" stop-color="#080808"/><stop offset=".922" stop-color="#0b0b0b"/><stop offset=".957" stop-color="#101010"/><stop offset=".978" stop-color="#171717"/><stop offset="1" stop-color="#252525"/></linearGradient><linearGradient id="c2"><stop offset="0" stop-color="#717171"/><stop offset=".017" stop-color="#535353"/><stop offset=".03" stop-color="#414141"/><stop offset=".043" stop-color="#333333"/><stop offset=".061" stop-color="#272727"/><stop offset=".082" stop-color="#1d1d1d"/><stop offset=".108" stop-color="#161616"/><stop offset=".147" stop-color="#101010"/><stop offset=".186" stop-color="#0c0c0c"/><stop offset=".29" stop-color="#080808"/><stop offset=".494" stop-color="#060606"/><stop offset=".736" stop-color="#060606"/><stop offset=".87" stop-color="#080808"/><stop offset=".922" stop-color="#0c0c0c"/><stop offset=".957" stop-color="#121212"/><stop offset=".978" stop-color="#1b1b1b"/><stop offset="1" stop-color="#2b2b2b"/></linearGradient><linearGradient id="c3"><stop offset="0" stop-color="#7d7d7d"/><stop offset=".035" stop-color="#464646"/><stop offset=".048" stop-color="#373737"/><stop offset=".065" stop-color="#2a2a2a"/><stop offset=".087" stop-color="#1f1f1f"/><stop offset=".113" stop-color="#171717"/><stop offset=".147" stop-color="#111111"/><stop offset=".186" stop-color="#0d0d0d"/><stop offset=".286" stop-color="#080808"/><stop offset=".489" stop-color="#060606"/><stop offset=".736" stop-color="#060606"/><stop offset=".87" stop-color="#090909"/><stop offset=".922" stop-color="#0d0d0d"/><stop offset=".952" stop-color="#131313"/><stop offset=".974" stop-color="#1d1d1d"/><stop offset="1" stop-color="#313131"/></linearGradient><linearGradient id="c4"><stop offset="0" stop-color="#848484"/><stop offset=".004" stop-color="#818181"/><stop offset=".013" stop-color="#767676"/><stop offset=".035" stop-color="#525252"/><stop offset=".048" stop-color="#414141"/><stop offset=".061" stop-color="#343434"/><stop offset=".074" stop-color="#2a2a2a"/><stop offset=".095" stop-color="#1f1f1f"/><stop offset=".117" stop-color="#191919"/><stop offset=".152" stop-color="#121212"/><stop offset=".19" stop-color="#0d0d0d"/><stop offset=".29" stop-color="#090909"/><stop offset=".489" stop-color="#060606"/><stop offset=".736" stop-color="#060606"/><stop offset=".866" stop-color="#090909"/><stop offset=".913" stop-color="#0d0d0d"/><stop offset=".948" stop-color="#141414"/><stop offset=".965" stop-color="#1c1c1c"/><stop offset=".991" stop-color="#313131"/><stop offset="1" stop-color="#353535"/></linearGradient><linearGradient id="c5"><stop offset="0" stop-color="#848484"/><stop offset=".004" stop-color="#858585"/><stop offset=".013" stop-color="#818181"/><stop offset=".022" stop-color="#767676"/><stop offset=".043" stop-color="#535353"/><stop offset=".056" stop-color="#424242"/><stop offset=".069" stop-color="#353535"/><stop offset=".087" stop-color="#282828"/><stop offset=".104" stop-color="#202020"/><stop offset=".13" stop-color="#181818"/><stop offset=".16" stop-color="#111111"/><stop offset=".199" stop-color="#0d0d0d"/><stop offset=".294" stop-color="#090909"/><stop offset=".494" stop-color="#060606"/><stop offset=".727" stop-color="#060606"/><stop offset=".857" stop-color="#090909"/><stop offset=".905" stop-color="#0d0d0d"/><stop offset=".939" stop-color="#141414"/><stop offset=".961" stop-color="#1e1e1e"/><stop offset=".987" stop-color="#323232"/><stop offset="1" stop-color="#363636"/></linearGradient><linearGradient id="c6"><stop offset="0" stop-color="#7e7e7e"/><stop offset=".009" stop-color="#858585"/><stop offset=".013" stop-color="#868686"/><stop offset=".022" stop-color="#818181"/><stop offset=".03" stop-color="#767676"/><stop offset=".052" stop-color="#545454"/><stop offset=".065" stop-color="#434343"/><stop offset=".082" stop-color="#323232"/><stop offset=".1" stop-color="#262626"/><stop offset=".121" stop-color="#1d1d1d"/><stop offset=".147" stop-color="#161616"/><stop offset=".177" stop-color="#101010"/><stop offset=".212" stop-color="#0d0d0d"/><stop offset=".312" stop-color="#080808"/><stop offset=".502" stop-color="#060606"/><stop offset=".727" stop-color="#060606"/><stop offset=".848" stop-color="#090909"/><stop offset=".892" stop-color="#0c0c0c"/><stop offset=".922" stop-color="#121212"/><stop offset=".948" stop-color="#1c1c1c"/><stop offset=".983" stop-color="#343434"/><stop offset=".991" stop-color="#353535"/><stop offset="1" stop-color="#323232"/></linearGradient><linearGradient id="c7"><stop offset="0" stop-color="#727272"/><stop offset=".013" stop-color="#838383"/><stop offset=".022" stop-color="#878787"/><stop offset=".026" stop-color="#858585"/><stop offset=".035" stop-color="#7d7d7d"/><stop offset=".061" stop-color="#555555"/><stop offset=".074" stop-color="#444444"/><stop offset=".087" stop-color="#363636"/><stop offset=".104" stop-color="#2a2a2a"/><stop offset=".126" stop-color="#1f1f1f"/><stop offset=".156" stop-color="#161616"/><stop offset=".186" stop-color="#101010"/><stop offset=".225" stop-color="#0c0c0c"/><stop offset=".32" stop-color="#090909"/><stop offset=".498" stop-color="#060606"/><stop offset=".693" stop-color="#060606"/><stop offset=".827" stop-color="#080808"/><stop offset=".883" stop-color="#0c0c0c"/><stop offset=".918" stop-color="#131313"/><stop offset=".939" stop-color="#1b1b1b"/><stop offset=".97" stop-color="#303030"/><stop offset=".978" stop-color="#343434"/><stop offset=".987" stop-color="#343434"/><stop offset="1" stop-color="#2c2c2c"/></linearGradient><linearGradient id="c8"><stop offset="0" stop-color="#656565"/><stop offset=".017" stop-color="#808080"/><stop offset=".026" stop-color="#888888"/><stop offset=".03" stop-color="#888888"/><stop offset=".035" stop-color="#878787"/><stop offset=".043" stop-color="#7e7e7e"/><stop offset=".069" stop-color="#565656"/><stop offset=".087" stop-color="#404040"/><stop offset=".1" stop-color="#343434"/><stop offset=".117" stop-color="#282828"/><stop offset=".143" stop-color="#1c1c1c"/><stop offset=".169" stop-color="#151515"/><stop offset=".199" stop-color="#101010"/><stop offset=".242" stop-color="#0c0c0c"/><stop offset=".338" stop-color="#080808"/><stop offset=".498" stop-color="#060606"/><stop offset=".81" stop-color="#080808"/><stop offset=".866" stop-color="#0b0b0b"/><stop offset=".905" stop-color="#121212"/><stop offset=".931" stop-color="#1c1c1c"/><stop offset=".961" stop-color="#2f2f2f"/><stop offset=".97" stop-color="#333333"/><stop offset=".983" stop-color="#323232"/><stop offset="1" stop-color="#262626"/></linearGradient><linearGradient id="c9"><stop offset="0" stop-color="#575757"/><stop offset=".017" stop-color="#757575"/><stop offset=".026" stop-color="#828282"/><stop offset=".035" stop-color="#898989"/><stop offset=".039" stop-color="#898989"/><stop offset=".043" stop-color="#888888"/><stop offset=".052" stop-color="#808080"/><stop offset=".082" stop-color="#525252"/><stop offset=".095" stop-color="#424242"/><stop offset=".113" stop-color="#313131"/><stop offset=".13" stop-color="#262626"/><stop offset=".156" stop-color="#1b1b1b"/><stop offset=".182" stop-color="#141414"/><stop offset=".216" stop-color="#0f0f0f"/><stop offset=".264" stop-color="#0b0b0b"/><stop offset=".39" stop-color="#070707"/><stop offset=".55" stop-color="#060606"/><stop offset=".727" stop-color="#060606"/><stop offset=".827" stop-color="#090909"/><stop offset=".87" stop-color="#0d0d0d"/><stop offset=".9" stop-color="#131313"/><stop offset=".922" stop-color="#1c1c1c"/><stop offset=".957" stop-color="#313131"/><stop offset=".965" stop-color="#333333"/><stop offset=".978" stop-color="#2f2f2f"/><stop offset="1" stop-color="#202020"/></linearGradient><linearGradient id="c10"><stop offset="0" stop-color="#4a4a4a"/><stop offset=".009" stop-color="#585858"/><stop offset=".03" stop-color="#7e7e7e"/><stop offset=".039" stop-color="#888888"/><stop offset=".048" stop-color="#8b8b8b"/><stop offset=".052" stop-color="#898989"/><stop offset=".061" stop-color="#828282"/><stop offset=".1" stop-color="#484848"/><stop offset=".113" stop-color="#3a3a3a"/><stop offset=".126" stop-color="#303030"/><stop offset=".143" stop-color="#252525"/><stop offset=".165" stop-color="#1b1b1b"/><stop offset=".19" stop-color="#141414"/><stop offset=".221" stop-color="#0f0f0f"/><stop offset=".299" stop-color="#0a0a0a"/><stop offset=".45" stop-color="#070707"/><stop offset=".632" stop-color="#060606"/><stop offset=".81" stop-color="#090909"/><stop offset=".853" stop-color="#0c0c0c"/><stop offset=".887" stop-color="#121212"/><stop offset=".909" stop-color="#1a1a1a"/><stop offset=".944" stop-color="#2e2e2e"/><stop offset=".957" stop-color="#323232"/><stop offset=".97" stop-color="#2e2e2e"/><stop offset="1" stop-color="#1b1b1b"/></linearGradient><linearGradient id="c11"><stop offset="0" stop-color="#3f3f3f"/><stop offset=".013" stop-color="#525252"/><stop offset=".039" stop-color="#7f7f7f"/><stop offset=".048" stop-color="#898989"/><stop offset=".056" stop-color="#8c8c8c"/><stop offset=".061" stop-color="#8b8b8b"/><stop offset=".069" stop-color="#848484"/><stop offset=".108" stop-color="#4b4b4b"/><stop offset=".121" stop-color="#3c3c3c"/><stop offset=".139" stop-color="#2e2e2e"/><stop offset=".156" stop-color="#232323"/><stop offset=".173" stop-color="#1b1b1b"/><stop offset=".195" stop-color="#151515"/><stop offset=".225" stop-color="#101010"/><stop offset=".299" stop-color="#0a0a0a"/><stop offset=".442" stop-color="#070707"/><stop offset=".628" stop-color="#060606"/><stop offset=".797" stop-color="#080808"/><stop offset=".844" stop-color="#0c0c0c"/><stop offset=".879" stop-color="#121212"/><stop offset=".905" stop-color="#1c1c1c"/><stop offset=".935" stop-color="#2e2e2e"/><stop offset=".948" stop-color="#313131"/><stop offset=".961" stop-color="#2e2e2e"/><stop offset="1" stop-color="#171717"/></linearGradient><linearGradient id="c12"><stop offset="0" stop-color="#373737"/><stop offset=".017" stop-color="#4c4c4c"/><stop offset=".048" stop-color="#808080"/><stop offset=".056" stop-color="#8a8a8a"/><stop offset=".065" stop-color="#8d8d8d"/><stop offset=".069" stop-color="#8d8d8d"/><stop offset=".078" stop-color="#878787"/><stop offset=".087" stop-color="#7b7b7b"/><stop offset=".117" stop-color="#4d4d4d"/><stop offset=".13" stop-color="#3e3e3e"/><stop offset=".147" stop-color="#2e2e2e"/><stop offset=".165" stop-color="#232323"/><stop offset=".182" stop-color="#1c1c1c"/><stop offset=".203" stop-color="#161616"/><stop offset=".234" stop-color="#101010"/><stop offset=".307" stop-color="#0b0b0b"/><stop offset=".446" stop-color="#070707"/><stop offset=".628" stop-color="#060606"/><stop offset=".788" stop-color="#080808"/><stop offset=".835" stop-color="#0c0c0c"/><stop offset=".866" stop-color="#111111"/><stop offset=".892" stop-color="#1a1a1a"/><stop offset=".926" stop-color="#2d2d2d"/><stop offset=".939" stop-color="#303030"/><stop offset=".952" stop-color="#2c2c2c"/><stop offset=".983" stop-color="#1b1b1b"/><stop offset="1" stop-color="#141414"/></linearGradient><linearGradient id="c13"><stop offset="0" stop-color="#2f2f2f"/><stop offset=".013" stop-color="#3c3c3c"/><stop offset=".022" stop-color="#474747"/><stop offset=".052" stop-color="#797979"/><stop offset=".061" stop-color="#868686"/><stop offset=".069" stop-color="#8d8d8d"/><stop offset=".074" stop-color="#8f8f8f"/><stop offset=".082" stop-color="#8d8d8d"/><stop offset=".091" stop-color="#858585"/><stop offset=".13" stop-color="#4b4b4b"/><stop offset=".147" stop-color="#373737"/><stop offset=".16" stop-color="#2c2c2c"/><stop offset=".177" stop-color="#222222"/><stop offset=".195" stop-color="#1b1b1b"/><stop offset=".242" stop-color="#111111"/><stop offset=".316" stop-color="#0b0b0b"/><stop offset=".446" stop-color="#070707"/><stop offset=".628" stop-color="#060606"/><stop offset=".779" stop-color="#080808"/><stop offset=".827" stop-color="#0c0c0c"/><stop offset=".857" stop-color="#121212"/><stop offset=".883" stop-color="#1b1b1b"/><stop offset=".918" stop-color="#2d2d2d"/><stop offset=".931" stop-color="#2f2f2f"/><stop offset=".944" stop-color="#2b2b2b"/><stop offset=".978" stop-color="#191919"/><stop offset="1" stop-color="#111111"/></linearGradient><linearGradient id="c14"><stop offset="0" stop-color="#292929"/><stop offset=".013" stop-color="#333333"/><stop offset=".026" stop-color="#424242"/><stop offset=".039" stop-color="#545454"/><stop offset=".069" stop-color="#858585"/><stop offset=".078" stop-color="#8e8e8e"/><stop offset=".087" stop-color="#919191"/><stop offset=".091" stop-color="#8f8f8f"/><stop offset=".1" stop-color="#888888"/><stop offset=".108" stop-color="#7c7c7c"/><stop offset=".139" stop-color="#4d4d4d"/><stop offset=".152" stop-color="#3d3d3d"/><stop offset=".165" stop-color="#313131"/><stop offset=".182" stop-color="#252525"/><stop offset=".199" stop-color="#1d1d1d"/><stop offset=".221" stop-color="#161616"/><stop offset=".247" stop-color="#111111"/><stop offset=".316" stop-color="#0b0b0b"/><stop offset=".437" stop-color="#070707"/><stop offset=".628" stop-color="#060606"/><stop offset=".766" stop-color="#080808"/><stop offset=".814" stop-color="#0c0c0c"/><stop offset=".848" stop-color="#121212"/><stop offset=".87" stop-color="#191919"/><stop offset=".905" stop-color="#2b2b2b"/><stop offset=".918" stop-color="#2e2e2e"/><stop offset=".931" stop-color="#2c2c2c"/><stop offset=".97" stop-color="#191919"/><stop offset="1" stop-color="#101010"/></linearGradient><linearGradient id="c15"><stop offset="0" stop-color="#242424"/><stop offset=".017" stop-color="#303030"/><stop offset=".03" stop-color="#3d3d3d"/><stop offset=".048" stop-color="#545454"/><stop offset=".078" stop-color="#858585"/><stop offset=".087" stop-color="#8e8e8e"/><stop offset=".095" stop-color="#929292"/><stop offset=".104" stop-color="#8f8f8f"/><stop offset=".113" stop-color="#878787"/><stop offset=".152" stop-color="#4a4a4a"/><stop offset=".165" stop-color="#3a3a3a"/><stop offset=".177" stop-color="#2e2e2e"/><stop offset=".195" stop-color="#232323"/><stop offset=".212" stop-color="#1c1c1c"/><stop offset=".255" stop-color="#121212"/><stop offset=".325" stop-color="#0b0b0b"/><stop offset=".442" stop-color="#070707"/><stop offset=".628" stop-color="#060606"/><stop offset=".758" stop-color="#080808"/><stop offset=".801" stop-color="#0b0b0b"/><stop offset=".835" stop-color="#111111"/><stop offset=".861" stop-color="#191919"/><stop offset=".896" stop-color="#2a2a2a"/><stop offset=".909" stop-color="#2d2d2d"/><stop offset=".922" stop-color="#2b2b2b"/><stop offset=".97" stop-color="#151515"/><stop offset="1" stop-color="#0e0e0e"/></linearGradient><linearGradient id="c16"><stop offset="0" stop-color="#202020"/><stop offset=".022" stop-color="#2d2d2d"/><stop offset=".039" stop-color="#3d3d3d"/><stop offset=".056" stop-color="#535353"/><stop offset=".091" stop-color="#8a8a8a"/><stop offset=".1" stop-color="#929292"/><stop offset=".108" stop-color="#949494"/><stop offset=".113" stop-color="#939393"/><stop offset=".121" stop-color="#8b8b8b"/><stop offset=".13" stop-color="#7f7f7f"/><stop offset=".16" stop-color="#4c4c4c"/><stop offset=".173" stop-color="#3c3c3c"/><stop offset=".186" stop-color="#303030"/><stop offset=".203" stop-color="#242424"/><stop offset=".221" stop-color="#1c1c1c"/><stop offset=".264" stop-color="#121212"/><stop offset=".329" stop-color="#0c0c0c"/><stop offset=".442" stop-color="#070707"/><stop offset=".628" stop-color="#060606"/><stop offset=".745" stop-color="#080808"/><stop offset=".788" stop-color="#0b0b0b"/><stop offset=".823" stop-color="#101010"/><stop offset=".848" stop-color="#181818"/><stop offset=".887" stop-color="#2a2a2a"/><stop offset=".9" stop-color="#2c2c2c"/><stop offset=".913" stop-color="#292929"/><stop offset=".961" stop-color="#151515"/><stop offset="1" stop-color="#0d0d0d"/></linearGradient><linearGradient id="c17"><stop offset="0" stop-color="#1d1d1d"/><stop offset=".026" stop-color="#2a2a2a"/><stop offset=".048" stop-color="#3d3d3d"/><stop offset=".069" stop-color="#585858"/><stop offset=".1" stop-color="#898989"/><stop offset=".108" stop-color="#939393"/><stop offset=".117" stop-color="#979797"/><stop offset=".126" stop-color="#949494"/><stop offset=".134" stop-color="#8b8b8b"/><stop offset=".169" stop-color="#4f4f4f"/><stop offset=".182" stop-color="#3e3e3e"/><stop offset=".195" stop-color="#313131"/><stop offset=".212" stop-color="#252525"/><stop offset=".229" stop-color="#1d1d1d"/><stop offset=".273" stop-color="#121212"/><stop offset=".338" stop-color="#0c0c0c"/><stop offset=".442" stop-color="#080808"/><stop offset=".623" stop-color="#060606"/><stop offset=".732" stop-color="#080808"/><stop offset=".779" stop-color="#0b0b0b"/><stop offset=".814" stop-color="#101010"/><stop offset=".84" stop-color="#181818"/><stop offset=".874" stop-color="#282828"/><stop offset=".887" stop-color="#2b2b2b"/><stop offset=".905" stop-color="#282828"/><stop offset=".952" stop-color="#141414"/><stop offset="1" stop-color="#0c0c0c"/></linearGradient><linearGradient id="c18"><stop offset="0" stop-color="#1a1a1a"/><stop offset=".03" stop-color="#282828"/><stop offset=".056" stop-color="#3c3c3c"/><stop offset=".078" stop-color="#565656"/><stop offset=".113" stop-color="#8e8e8e"/><stop offset=".121" stop-color="#979797"/><stop offset=".13" stop-color="#999999"/><stop offset=".134" stop-color="#979797"/><stop offset=".143" stop-color="#8f8f8f"/><stop offset=".152" stop-color="#828282"/><stop offset=".177" stop-color="#535353"/><stop offset=".19" stop-color="#414141"/><stop offset=".203" stop-color="#333333"/><stop offset=".216" stop-color="#292929"/><stop offset=".234" stop-color="#202020"/><stop offset=".255" stop-color="#191919"/><stop offset=".281" stop-color="#131313"/><stop offset=".342" stop-color="#0c0c0c"/><stop offset=".442" stop-color="#080808"/><stop offset=".623" stop-color="#060606"/><stop offset=".719" stop-color="#080808"/><stop offset=".766" stop-color="#0a0a0a"/><stop offset=".801" stop-color="#0f0f0f"/><stop offset=".827" stop-color="#171717"/><stop offset=".866" stop-color="#282828"/><stop offset=".879" stop-color="#2a2a2a"/><stop offset=".892" stop-color="#272727"/><stop offset=".926" stop-color="#191919"/><stop offset=".948" stop-color="#131313"/><stop offset="1" stop-color="#0b0b0b"/></linearGradient><linearGradient id="c19"><stop offset="0" stop-color="#181818"/><stop offset=".017" stop-color="#1d1d1d"/><stop offset=".035" stop-color="#252525"/><stop offset=".052" stop-color="#303030"/><stop offset=".065" stop-color="#3b3b3b"/><stop offset=".087" stop-color="#545454"/><stop offset=".117" stop-color="#868686"/><stop offset=".126" stop-color="#929292"/><stop offset=".134" stop-color="#9a9a9a"/><stop offset=".139" stop-color="#9b9b9b"/><stop offset=".143" stop-color="#9a9a9a"/><stop offset=".152" stop-color="#939393"/><stop offset=".16" stop-color="#868686"/><stop offset=".182" stop-color="#5e5e5e"/><stop offset=".19" stop-color="#505050"/><stop offset=".203" stop-color="#3f3f3f"/><stop offset=".216" stop-color="#323232"/><stop offset=".229" stop-color="#282828"/><stop offset=".247" stop-color="#1f1f1f"/><stop offset=".29" stop-color="#141414"/><stop offset=".351" stop-color="#0d0d0d"/><stop offset=".442" stop-color="#080808"/><stop offset=".584" stop-color="#060606"/><stop offset=".706" stop-color="#080808"/><stop offset=".753" stop-color="#0a0a0a"/><stop offset=".788" stop-color="#0f0f0f"/><stop offset=".814" stop-color="#161616"/><stop offset=".853" stop-color="#262626"/><stop offset=".87" stop-color="#282828"/><stop offset=".883" stop-color="#262626"/><stop offset=".918" stop-color="#181818"/><stop offset=".939" stop-color="#121212"/><stop offset="1" stop-color="#0a0a0a"/></linearGradient><linearGradient id="c20"><stop offset="0" stop-color="#161616"/><stop offset=".022" stop-color="#1c1c1c"/><stop offset=".043" stop-color="#252525"/><stop offset=".061" stop-color="#2f2f2f"/><stop offset=".074" stop-color="#3a3a3a"/><stop offset=".087" stop-color="#474747"/><stop offset=".1" stop-color="#585858"/><stop offset=".134" stop-color="#919191"/><stop offset=".143" stop-color="#9a9a9a"/><stop offset=".152" stop-color="#9d9d9d"/><stop offset=".156" stop-color="#9b9b9b"/><stop offset=".165" stop-color="#929292"/><stop offset=".173" stop-color="#848484"/><stop offset=".199" stop-color="#545454"/><stop offset=".212" stop-color="#424242"/><stop offset=".225" stop-color="#343434"/><stop offset=".238" stop-color="#2a2a2a"/><stop offset=".255" stop-color="#212121"/><stop offset=".277" stop-color="#191919"/><stop offset=".299" stop-color="#141414"/><stop offset=".359" stop-color="#0d0d0d"/><stop offset=".437" stop-color="#080808"/><stop offset=".58" stop-color="#060606"/><stop offset=".688" stop-color="#070707"/><stop offset=".74" stop-color="#0a0a0a"/><stop offset=".775" stop-color="#0e0e0e"/><stop offset=".801" stop-color="#141414"/><stop offset=".84" stop-color="#242424"/><stop offset=".857" stop-color="#272727"/><stop offset=".874" stop-color="#242424"/><stop offset=".931" stop-color="#121212"/><stop offset="1" stop-color="#0a0a0a"/></linearGradient><linearGradient id="c21"><stop offset="0" stop-color="#141414"/><stop offset=".022" stop-color="#191919"/><stop offset=".048" stop-color="#232323"/><stop offset=".065" stop-color="#2c2c2c"/><stop offset=".082" stop-color="#383838"/><stop offset=".095" stop-color="#454545"/><stop offset=".108" stop-color="#555555"/><stop offset=".147" stop-color="#949494"/><stop offset=".156" stop-color="#9d9d9d"/><stop offset=".16" stop-color="#9e9e9e"/><stop offset=".169" stop-color="#9b9b9b"/><stop offset=".177" stop-color="#919191"/><stop offset=".212" stop-color="#515151"/><stop offset=".221" stop-color="#454545"/><stop offset=".234" stop-color="#363636"/><stop offset=".251" stop-color="#292929"/><stop offset=".268" stop-color="#202020"/><stop offset=".29" stop-color="#191919"/><stop offset=".312" stop-color="#141414"/><stop offset=".372" stop-color="#0d0d0d"/><stop offset=".442" stop-color="#090909"/><stop offset=".576" stop-color="#060606"/><stop offset=".675" stop-color="#070707"/><stop offset=".727" stop-color="#0a0a0a"/><stop offset=".766" stop-color="#0e0e0e"/><stop offset=".792" stop-color="#151515"/><stop offset=".831" stop-color="#232323"/><stop offset=".848" stop-color="#252525"/><stop offset=".926" stop-color="#111111"/><stop offset="1" stop-color="#090909"/></linearGradient><linearGradient id="c22"><stop offset="0" stop-color="#131313"/><stop offset=".026" stop-color="#181818"/><stop offset=".052" stop-color="#202020"/><stop offset=".074" stop-color="#2b2b2b"/><stop offset=".091" stop-color="#363636"/><stop offset=".108" stop-color="#474747"/><stop offset=".121" stop-color="#585858"/><stop offset=".152" stop-color="#8b8b8b"/><stop offset=".16" stop-color="#979797"/><stop offset=".169" stop-color="#9f9f9f"/><stop offset=".173" stop-color="#9f9f9f"/><stop offset=".177" stop-color="#9e9e9e"/><stop offset=".186" stop-color="#969696"/><stop offset=".195" stop-color="#888888"/><stop offset=".212" stop-color="#666666"/><stop offset=".225" stop-color="#4f4f4f"/><stop offset=".234" stop-color="#434343"/><stop offset=".247" stop-color="#353535"/><stop offset=".264" stop-color="#292929"/><stop offset=".281" stop-color="#202020"/><stop offset=".325" stop-color="#141414"/><stop offset=".377" stop-color="#0d0d0d"/><stop offset=".433" stop-color="#090909"/><stop offset=".537" stop-color="#060606"/><stop offset=".636" stop-color="#060606"/><stop offset=".706" stop-color="#090909"/><stop offset=".749" stop-color="#0d0d0d"/><stop offset=".779" stop-color="#141414"/><stop offset=".818" stop-color="#212121"/><stop offset=".835" stop-color="#242424"/><stop offset=".848" stop-color="#222222"/><stop offset=".892" stop-color="#151515"/><stop offset=".918" stop-color="#101010"/><stop offset="1" stop-color="#090909"/></linearGradient><linearGradient id="c23"><stop offset="0" stop-color="#121212"/><stop offset=".026" stop-color="#161616"/><stop offset=".056" stop-color="#1f1f1f"/><stop offset=".078" stop-color="#272727"/><stop offset=".1" stop-color="#353535"/><stop offset=".117" stop-color="#444444"/><stop offset=".13" stop-color="#545454"/><stop offset=".143" stop-color="#686868"/><stop offset=".165" stop-color="#8e8e8e"/><stop offset=".173" stop-color="#9a9a9a"/><stop offset=".182" stop-color="#a0a0a0"/><stop offset=".186" stop-color="#a0a0a0"/><stop offset=".19" stop-color="#9f9f9f"/><stop offset=".199" stop-color="#959595"/><stop offset=".234" stop-color="#545454"/><stop offset=".242" stop-color="#484848"/><stop offset=".255" stop-color="#393939"/><stop offset=".273" stop-color="#2b2b2b"/><stop offset=".29" stop-color="#222222"/><stop offset=".312" stop-color="#1a1a1a"/><stop offset=".338" stop-color="#141414"/><stop offset=".385" stop-color="#0e0e0e"/><stop offset=".442" stop-color="#0a0a0a"/><stop offset=".537" stop-color="#060606"/><stop offset=".632" stop-color="#060606"/><stop offset=".701" stop-color="#090909"/><stop offset=".74" stop-color="#0d0d0d"/><stop offset=".766" stop-color="#131313"/><stop offset=".81" stop-color="#212121"/><stop offset=".823" stop-color="#232323"/><stop offset=".84" stop-color="#202020"/><stop offset=".879" stop-color="#151515"/><stop offset=".909" stop-color="#101010"/><stop offset="1" stop-color="#090909"/></linearGradient><linearGradient id="c24"><stop offset="0" stop-color="#111111"/><stop offset=".035" stop-color="#161616"/><stop offset=".069" stop-color="#202020"/><stop offset=".091" stop-color="#292929"/><stop offset=".113" stop-color="#363636"/><stop offset=".126" stop-color="#424242"/><stop offset=".139" stop-color="#505050"/><stop offset=".152" stop-color="#636363"/><stop offset=".182" stop-color="#979797"/><stop offset=".19" stop-color="#a0a0a0"/><stop offset=".195" stop-color="#a1a1a1"/><stop offset=".199" stop-color="#a1a1a1"/><stop offset=".208" stop-color="#9a9a9a"/><stop offset=".216" stop-color="#8c8c8c"/><stop offset=".234" stop-color="#6a6a6a"/><stop offset=".247" stop-color="#535353"/><stop offset=".26" stop-color="#424242"/><stop offset=".273" stop-color="#353535"/><stop offset=".286" stop-color="#2b2b2b"/><stop offset=".303" stop-color="#222222"/><stop offset=".325" stop-color="#1b1b1b"/><stop offset=".351" stop-color="#151515"/><stop offset=".394" stop-color="#0e0e0e"/><stop offset=".45" stop-color="#0a0a0a"/><stop offset=".541" stop-color="#060606"/><stop offset=".632" stop-color="#060606"/><stop offset=".727" stop-color="#0d0d0d"/><stop offset=".758" stop-color="#131313"/><stop offset=".797" stop-color="#1f1f1f"/><stop offset=".814" stop-color="#212121"/><stop offset=".9" stop-color="#0f0f0f"/><stop offset="1" stop-color="#080808"/></linearGradient><linearGradient id="c25"><stop offset="0" stop-color="#101010"/><stop offset=".039" stop-color="#151515"/><stop offset=".074" stop-color="#1e1e1e"/><stop offset=".1" stop-color="#272727"/><stop offset=".121" stop-color="#343434"/><stop offset=".139" stop-color="#434343"/><stop offset=".152" stop-color="#515151"/><stop offset=".165" stop-color="#646464"/><stop offset=".195" stop-color="#999999"/><stop offset=".203" stop-color="#a1a1a1"/><stop offset=".208" stop-color="#a3a3a3"/><stop offset=".212" stop-color="#a2a2a2"/><stop offset=".221" stop-color="#9a9a9a"/><stop offset=".229" stop-color="#8b8b8b"/><stop offset=".247" stop-color="#696969"/><stop offset=".26" stop-color="#535353"/><stop offset=".273" stop-color="#424242"/><stop offset=".286" stop-color="#353535"/><stop offset=".303" stop-color="#292929"/><stop offset=".32" stop-color="#212121"/><stop offset=".342" stop-color="#1a1a1a"/><stop offset=".372" stop-color="#131313"/><stop offset=".416" stop-color="#0d0d0d"/><stop offset=".481" stop-color="#090909"/><stop offset=".632" stop-color="#060606"/><stop offset=".719" stop-color="#0d0d0d"/><stop offset=".745" stop-color="#121212"/><stop offset=".784" stop-color="#1e1e1e"/><stop offset=".801" stop-color="#202020"/><stop offset=".892" stop-color="#0f0f0f"/><stop offset="1" stop-color="#080808"/></linearGradient><linearGradient id="c26"><stop offset="0" stop-color="#0f0f0f"/><stop offset=".043" stop-color="#151515"/><stop offset=".078" stop-color="#1c1c1c"/><stop offset=".108" stop-color="#262626"/><stop offset=".13" stop-color="#323232"/><stop offset=".147" stop-color="#3f3f3f"/><stop offset=".165" stop-color="#525252"/><stop offset=".177" stop-color="#656565"/><stop offset=".199" stop-color="#8d8d8d"/><stop offset=".208" stop-color="#9a9a9a"/><stop offset=".216" stop-color="#a3a3a3"/><stop offset=".221" stop-color="#a3a3a3"/><stop offset=".225" stop-color="#a2a2a2"/><stop offset=".234" stop-color="#999999"/><stop offset=".268" stop-color="#5a5a5a"/><stop offset=".281" stop-color="#484848"/><stop offset=".294" stop-color="#3a3a3a"/><stop offset=".312" stop-color="#2d2d2d"/><stop offset=".333" stop-color="#222222"/><stop offset=".385" stop-color="#131313"/><stop offset=".429" stop-color="#0d0d0d"/><stop offset=".489" stop-color="#090909"/><stop offset=".628" stop-color="#060606"/><stop offset=".71" stop-color="#0d0d0d"/><stop offset=".771" stop-color="#1c1c1c"/><stop offset=".788" stop-color="#1e1e1e"/><stop offset=".883" stop-color="#0e0e0e"/><stop offset="1" stop-color="#080808"/></linearGradient><linearGradient id="c27"><stop offset="0" stop-color="#0f0f0f"/><stop offset=".048" stop-color="#141414"/><stop offset=".087" stop-color="#1b1b1b"/><stop offset=".117" stop-color="#252525"/><stop offset=".143" stop-color="#323232"/><stop offset=".16" stop-color="#404040"/><stop offset=".173" stop-color="#4d4d4d"/><stop offset=".19" stop-color="#666666"/><stop offset=".212" stop-color="#8e8e8e"/><stop offset=".221" stop-color="#9c9c9c"/><stop offset=".229" stop-color="#a4a4a4"/><stop offset=".234" stop-color="#a4a4a4"/><stop offset=".238" stop-color="#a3a3a3"/><stop offset=".247" stop-color="#9a9a9a"/><stop offset=".255" stop-color="#8c8c8c"/><stop offset=".281" stop-color="#5c5c5c"/><stop offset=".294" stop-color="#4a4a4a"/><stop offset=".307" stop-color="#3c3c3c"/><stop offset=".325" stop-color="#2e2e2e"/><stop offset=".342" stop-color="#252525"/><stop offset=".368" stop-color="#1b1b1b"/><stop offset=".394" stop-color="#141414"/><stop offset=".433" stop-color="#0e0e0e"/><stop offset=".494" stop-color="#090909"/><stop offset=".628" stop-color="#060606"/><stop offset=".697" stop-color="#0c0c0c"/><stop offset=".762" stop-color="#1b1b1b"/><stop offset=".779" stop-color="#1d1d1d"/><stop offset=".874" stop-color="#0d0d0d"/><stop offset="1" stop-color="#080808"/></linearGradient><linearGradient id="c28"><stop offset="0" stop-color="#0e0e0e"/><stop offset=".052" stop-color="#131313"/><stop offset=".095" stop-color="#1b1b1b"/><stop offset=".13" stop-color="#252525"/><stop offset=".156" stop-color="#323232"/><stop offset=".173" stop-color="#404040"/><stop offset=".186" stop-color="#4d4d4d"/><stop offset=".203" stop-color="#676767"/><stop offset=".229" stop-color="#979797"/><stop offset=".238" stop-color="#a2a2a2"/><stop offset=".247" stop-color="#a5a5a5"/><stop offset=".251" stop-color="#a3a3a3"/><stop offset=".26" stop-color="#9b9b9b"/><stop offset=".294" stop-color="#5e5e5e"/><stop offset=".307" stop-color="#4c4c4c"/><stop offset=".325" stop-color="#3a3a3a"/><stop offset=".342" stop-color="#2e2e2e"/><stop offset=".364" stop-color="#222222"/><stop offset=".385" stop-color="#1a1a1a"/><stop offset=".407" stop-color="#151515"/><stop offset=".442" stop-color="#0f0f0f"/><stop offset=".498" stop-color="#0a0a0a"/><stop offset=".571" stop-color="#060606"/><stop offset=".628" stop-color="#060606"/><stop offset=".688" stop-color="#0c0c0c"/><stop offset=".749" stop-color="#1a1a1a"/><stop offset=".766" stop-color="#1b1b1b"/><stop offset=".866" stop-color="#0d0d0d"/><stop offset="1" stop-color="#080808"/></linearGradient><linearGradient id="c29"><stop offset="0" stop-color="#0e0e0e"/><stop offset=".056" stop-color="#131313"/><stop offset=".1" stop-color="#191919"/><stop offset=".134" stop-color="#232323"/><stop offset=".165" stop-color="#303030"/><stop offset=".182" stop-color="#3c3c3c"/><stop offset=".199" stop-color="#4e4e4e"/><stop offset=".212" stop-color="#616161"/><stop offset=".242" stop-color="#979797"/><stop offset=".251" stop-color="#a1a1a1"/><stop offset=".26" stop-color="#a5a5a5"/><stop offset=".264" stop-color="#a3a3a3"/><stop offset=".273" stop-color="#9b9b9b"/><stop offset=".312" stop-color="#5c5c5c"/><stop offset=".325" stop-color="#4b4b4b"/><stop offset=".338" stop-color="#3d3d3d"/><stop offset=".355" stop-color="#303030"/><stop offset=".377" stop-color="#232323"/><stop offset=".394" stop-color="#1c1c1c"/><stop offset=".42" stop-color="#151515"/><stop offset=".502" stop-color="#0a0a0a"/><stop offset=".576" stop-color="#060606"/><stop offset=".628" stop-color="#060606"/><stop offset=".68" stop-color="#0c0c0c"/><stop offset=".736" stop-color="#181818"/><stop offset=".758" stop-color="#1a1a1a"/><stop offset=".857" stop-color="#0c0c0c"/><stop offset="1" stop-color="#070707"/></linearGradient><linearGradient id="c30"><stop offset="0" stop-color="#0d0d0d"/><stop offset=".061" stop-color="#121212"/><stop offset=".108" stop-color="#191919"/><stop offset=".147" stop-color="#232323"/><stop offset=".177" stop-color="#2f2f2f"/><stop offset=".195" stop-color="#3c3c3c"/><stop offset=".208" stop-color="#494949"/><stop offset=".225" stop-color="#616161"/><stop offset=".255" stop-color="#969696"/><stop offset=".264" stop-color="#a0a0a0"/><stop offset=".273" stop-color="#a3a3a3"/><stop offset=".281" stop-color="#a0a0a0"/><stop offset=".29" stop-color="#979797"/><stop offset=".329" stop-color="#5a5a5a"/><stop offset=".342" stop-color="#4a4a4a"/><stop offset=".359" stop-color="#393939"/><stop offset=".377" stop-color="#2c2c2c"/><stop offset=".394" stop-color="#232323"/><stop offset=".437" stop-color="#151515"/><stop offset=".498" stop-color="#0c0c0c"/><stop offset=".58" stop-color="#060606"/><stop offset=".632" stop-color="#060606"/><stop offset=".723" stop-color="#161616"/><stop offset=".745" stop-color="#181818"/><stop offset=".853" stop-color="#0c0c0c"/><stop offset="1" stop-color="#070707"/></linearGradient><linearGradient id="c31"><stop offset="0" stop-color="#0d0d0d"/><stop offset=".069" stop-color="#121212"/><stop offset=".117" stop-color="#191919"/><stop offset=".156" stop-color="#212121"/><stop offset=".186" stop-color="#2d2d2d"/><stop offset=".203" stop-color="#383838"/><stop offset=".221" stop-color="#494949"/><stop offset=".238" stop-color="#606060"/><stop offset=".264" stop-color="#8c8c8c"/><stop offset=".273" stop-color="#989898"/><stop offset=".281" stop-color="#a0a0a0"/><stop offset=".29" stop-color="#a1a1a1"/><stop offset=".299" stop-color="#9e9e9e"/><stop offset=".307" stop-color="#959595"/><stop offset=".346" stop-color="#5a5a5a"/><stop offset=".364" stop-color="#464646"/><stop offset=".381" stop-color="#353535"/><stop offset=".398" stop-color="#292929"/><stop offset=".416" stop-color="#212121"/><stop offset=".459" stop-color="#141414"/><stop offset=".502" stop-color="#0d0d0d"/><stop offset=".584" stop-color="#060606"/><stop offset=".632" stop-color="#070707"/><stop offset=".706" stop-color="#141414"/><stop offset=".732" stop-color="#161616"/><stop offset=".844" stop-color="#0b0b0b"/><stop offset="1" stop-color="#070707"/></linearGradient><linearGradient id="c32"><stop offset="0" stop-color="#0d0d0d"/><stop offset=".069" stop-color="#111111"/><stop offset=".121" stop-color="#171717"/><stop offset=".165" stop-color="#202020"/><stop offset=".195" stop-color="#2a2a2a"/><stop offset=".212" stop-color="#343434"/><stop offset=".229" stop-color="#434343"/><stop offset=".251" stop-color="#5e5e5e"/><stop offset=".286" stop-color="#939393"/><stop offset=".299" stop-color="#9e9e9e"/><stop offset=".307" stop-color="#9f9f9f"/><stop offset=".316" stop-color="#9b9b9b"/><stop offset=".325" stop-color="#939393"/><stop offset=".372" stop-color="#505050"/><stop offset=".385" stop-color="#414141"/><stop offset=".398" stop-color="#363636"/><stop offset=".416" stop-color="#2b2b2b"/><stop offset=".433" stop-color="#222222"/><stop offset=".485" stop-color="#121212"/><stop offset=".532" stop-color="#0b0b0b"/><stop offset=".584" stop-color="#060606"/><stop offset=".632" stop-color="#070707"/><stop offset=".688" stop-color="#121212"/><stop offset=".719" stop-color="#141414"/><stop offset=".84" stop-color="#0b0b0b"/><stop offset="1" stop-color="#070707"/></linearGradient><linearGradient id="c33"><stop offset="0" stop-color="#0d0d0d"/><stop offset=".078" stop-color="#111111"/><stop offset=".13" stop-color="#171717"/><stop offset=".173" stop-color="#1e1e1e"/><stop offset=".203" stop-color="#282828"/><stop offset=".225" stop-color="#343434"/><stop offset=".242" stop-color="#424242"/><stop offset=".264" stop-color="#5b5b5b"/><stop offset=".294" stop-color="#868686"/><stop offset=".303" stop-color="#909090"/><stop offset=".316" stop-color="#9a9a9a"/><stop offset=".325" stop-color="#9b9b9b"/><stop offset=".333" stop-color="#989898"/><stop offset=".346" stop-color="#8c8c8c"/><stop offset=".39" stop-color="#515151"/><stop offset=".403" stop-color="#434343"/><stop offset=".416" stop-color="#383838"/><stop offset=".433" stop-color="#2d2d2d"/><stop offset=".45" stop-color="#242424"/><stop offset=".476" stop-color="#1a1a1a"/><stop offset=".502" stop-color="#121212"/><stop offset=".541" stop-color="#0b0b0b"/><stop offset=".584" stop-color="#060606"/><stop offset=".628" stop-color="#060606"/><stop offset=".68" stop-color="#101010"/><stop offset=".71" stop-color="#131313"/><stop offset=".835" stop-color="#0a0a0a"/><stop offset="1" stop-color="#070707"/></linearGradient><linearGradient id="c34"><stop offset="0" stop-color="#0c0c0c"/><stop offset=".087" stop-color="#111111"/><stop offset=".143" stop-color="#171717"/><stop offset=".182" stop-color="#1d1d1d"/><stop offset=".212" stop-color="#262626"/><stop offset=".234" stop-color="#313131"/><stop offset=".255" stop-color="#404040"/><stop offset=".277" stop-color="#565656"/><stop offset=".307" stop-color="#7c7c7c"/><stop offset=".32" stop-color="#8b8b8b"/><stop offset=".333" stop-color="#949494"/><stop offset=".342" stop-color="#969696"/><stop offset=".351" stop-color="#949494"/><stop offset=".364" stop-color="#8a8a8a"/><stop offset=".407" stop-color="#545454"/><stop offset=".424" stop-color="#434343"/><stop offset=".442" stop-color="#353535"/><stop offset=".468" stop-color="#262626"/><stop offset=".489" stop-color="#1c1c1c"/><stop offset=".541" stop-color="#0e0e0e"/><stop offset=".589" stop-color="#060606"/><stop offset=".628" stop-color="#060606"/><stop offset=".671" stop-color="#0f0f0f"/><stop offset=".706" stop-color="#111111"/><stop offset=".831" stop-color="#0a0a0a"/><stop offset="1" stop-color="#070707"/></linearGradient><linearGradient id="c35"><stop offset="0" stop-color="#0c0c0c"/><stop offset=".152" stop-color="#161616"/><stop offset=".19" stop-color="#1c1c1c"/><stop offset=".221" stop-color="#242424"/><stop offset=".247" stop-color="#303030"/><stop offset=".268" stop-color="#3d3d3d"/><stop offset=".29" stop-color="#505050"/><stop offset=".338" stop-color="#828282"/><stop offset=".351" stop-color="#8b8b8b"/><stop offset=".359" stop-color="#8d8d8d"/><stop offset=".368" stop-color="#8c8c8c"/><stop offset=".381" stop-color="#858585"/><stop offset=".442" stop-color="#484848"/><stop offset=".463" stop-color="#373737"/><stop offset=".485" stop-color="#282828"/><stop offset=".502" stop-color="#1f1f1f"/><stop offset=".528" stop-color="#161616"/><stop offset=".576" stop-color="#080808"/><stop offset=".628" stop-color="#060606"/><stop offset=".662" stop-color="#0d0d0d"/><stop offset=".701" stop-color="#0f0f0f"/><stop offset=".831" stop-color="#090909"/><stop offset="1" stop-color="#070707"/></linearGradient><linearGradient id="c36"><stop offset="0" stop-color="#0c0c0c"/><stop offset=".16" stop-color="#161616"/><stop offset=".199" stop-color="#1b1b1b"/><stop offset=".229" stop-color="#222222"/><stop offset=".255" stop-color="#2c2c2c"/><stop offset=".277" stop-color="#373737"/><stop offset=".303" stop-color="#4a4a4a"/><stop offset=".355" stop-color="#767676"/><stop offset=".368" stop-color="#7d7d7d"/><stop offset=".381" stop-color="#808080"/><stop offset=".394" stop-color="#7e7e7e"/><stop offset=".411" stop-color="#747474"/><stop offset=".476" stop-color="#3c3c3c"/><stop offset=".498" stop-color="#2c2c2c"/><stop offset=".541" stop-color="#161616"/><stop offset=".58" stop-color="#070707"/><stop offset=".628" stop-color="#060606"/><stop offset=".658" stop-color="#0c0c0c"/><stop offset=".697" stop-color="#0d0d0d"/><stop offset=".835" stop-color="#090909"/><stop offset="1" stop-color="#070707"/></linearGradient><linearGradient id="c37"><stop offset="0" stop-color="#0c0c0c"/><stop offset=".165" stop-color="#151515"/><stop offset=".203" stop-color="#191919"/><stop offset=".234" stop-color="#1f1f1f"/><stop offset=".26" stop-color="#272727"/><stop offset=".286" stop-color="#323232"/><stop offset=".312" stop-color="#404040"/><stop offset=".368" stop-color="#656565"/><stop offset=".385" stop-color="#6c6c6c"/><stop offset=".398" stop-color="#6e6e6e"/><stop offset=".416" stop-color="#6c6c6c"/><stop offset=".437" stop-color="#636363"/><stop offset=".459" stop-color="#545454"/><stop offset=".498" stop-color="#363636"/><stop offset=".537" stop-color="#1b1b1b"/><stop offset=".563" stop-color="#0e0e0e"/><stop offset=".58" stop-color="#070707"/><stop offset=".628" stop-color="#070707"/><stop offset=".658" stop-color="#0b0b0b"/><stop offset=".697" stop-color="#0c0c0c"/><stop offset="1" stop-color="#070707"/></linearGradient><linearGradient id="c38"><stop offset="0" stop-color="#0c0c0c"/><stop offset=".165" stop-color="#131313"/><stop offset=".229" stop-color="#1b1b1b"/><stop offset=".264" stop-color="#232323"/><stop offset=".294" stop-color="#2c2c2c"/><stop offset=".381" stop-color="#525252"/><stop offset=".394" stop-color="#565656"/><stop offset=".411" stop-color="#585858"/><stop offset=".433" stop-color="#555555"/><stop offset=".459" stop-color="#4c4c4c"/><stop offset=".489" stop-color="#3a3a3a"/><stop offset=".541" stop-color="#161616"/><stop offset=".563" stop-color="#0c0c0c"/><stop offset=".58" stop-color="#070707"/><stop offset=".628" stop-color="#070707"/><stop offset=".658" stop-color="#0a0a0a"/><stop offset=".697" stop-color="#0b0b0b"/><stop offset="1" stop-color="#070707"/></linearGradient><linearGradient id="c39"><stop offset="0" stop-color="#0c0c0c"/><stop offset=".16" stop-color="#121212"/><stop offset=".221" stop-color="#171717"/><stop offset=".286" stop-color="#232323"/><stop offset=".381" stop-color="#3f3f3f"/><stop offset=".416" stop-color="#424242"/><stop offset=".442" stop-color="#404040"/><stop offset=".463" stop-color="#3a3a3a"/><stop offset=".498" stop-color="#2a2a2a"/><stop offset=".541" stop-color="#121212"/><stop offset=".58" stop-color="#070707"/><stop offset=".628" stop-color="#070707"/><stop offset=".697" stop-color="#0a0a0a"/><stop offset="1" stop-color="#070707"/></linearGradient><linearGradient id="c40"><stop offset="0" stop-color="#0b0b0b"/><stop offset=".212" stop-color="#151515"/><stop offset=".277" stop-color="#1d1d1d"/><stop offset=".372" stop-color="#303030"/><stop offset=".403" stop-color="#323232"/><stop offset=".433" stop-color="#303030"/><stop offset=".459" stop-color="#2c2c2c"/><stop offset=".498" stop-color="#1f1f1f"/><stop offset=".541" stop-color="#0e0e0e"/><stop offset=".58" stop-color="#070707"/><stop offset=".628" stop-color="#070707"/><stop offset=".701" stop-color="#090909"/><stop offset="1" stop-color="#070707"/></linearGradient><linearGradient id="c41"><stop offset="0" stop-color="#0b0b0b"/><stop offset=".208" stop-color="#131313"/><stop offset=".268" stop-color="#191919"/><stop offset=".359" stop-color="#252525"/><stop offset=".394" stop-color="#272727"/><stop offset=".455" stop-color="#222222"/><stop offset=".537" stop-color="#0d0d0d"/><stop offset=".58" stop-color="#070707"/><stop offset=".706" stop-color="#090909"/><stop offset="1" stop-color="#060606"/></linearGradient><linearGradient id="c42"><stop offset="0" stop-color="#0b0b0b"/><stop offset=".199" stop-color="#111111"/><stop offset=".351" stop-color="#1e1e1e"/><stop offset=".39" stop-color="#202020"/><stop offset=".45" stop-color="#1b1b1b"/><stop offset=".537" stop-color="#0b0b0b"/><stop offset=".58" stop-color="#070707"/><stop offset=".706" stop-color="#080808"/><stop offset="1" stop-color="#060606"/></linearGradient><linearGradient id="c43"><stop offset="0" stop-color="#0b0b0b"/><stop offset=".199" stop-color="#101010"/><stop offset=".381" stop-color="#1b1b1b"/><stop offset=".442" stop-color="#171717"/><stop offset=".537" stop-color="#0a0a0a"/><stop offset=".58" stop-color="#070707"/><stop offset=".71" stop-color="#080808"/><stop offset="1" stop-color="#060606"/></linearGradient><linearGradient id="c44"><stop offset="0" stop-color="#0a0a0a"/><stop offset=".195" stop-color="#0f0f0f"/><stop offset=".372" stop-color="#171717"/><stop offset=".437" stop-color="#141414"/><stop offset=".537" stop-color="#090909"/><stop offset=".58" stop-color="#070707"/><stop offset="1" stop-color="#060606"/></linearGradient><linearGradient id="c45"><stop offset="0" stop-color="#0a0a0a"/><stop offset=".19" stop-color="#0e0e0e"/><stop offset=".364" stop-color="#141414"/><stop offset=".424" stop-color="#121212"/><stop offset=".58" stop-color="#070707"/><stop offset="1" stop-color="#060606"/></linearGradient><linearGradient id="c46"><stop offset="0" stop-color="#0a0a0a"/><stop offset=".359" stop-color="#121212"/><stop offset=".58" stop-color="#060606"/><stop offset="1" stop-color="#060606"/></linearGradient><linearGradient id="c47"><stop offset="0" stop-color="#0a0a0a"/><stop offset=".355" stop-color="#111111"/><stop offset=".58" stop-color="#060606"/><stop offset="1" stop-color="#060606"/></linearGradient><linearGradient id="c48"><stop offset="0" stop-color="#090909"/><stop offset=".351" stop-color="#0f0f0f"/><stop offset=".58" stop-color="#060606"/><stop offset="1" stop-color="#060606"/></linearGradient><linearGradient id="c49"><stop offset="0" stop-color="#090909"/><stop offset=".346" stop-color="#0e0e0e"/><stop offset=".58" stop-color="#060606"/><stop offset="1" stop-color="#060606"/></linearGradient><linearGradient id="c50"><stop offset="0" stop-color="#090909"/><stop offset=".342" stop-color="#0d0d0d"/><stop offset=".58" stop-color="#060606"/><stop offset="1" stop-color="#060606"/></linearGradient><linearGradient id="c51"><stop offset="0" stop-color="#080808"/><stop offset=".342" stop-color="#0c0c0c"/><stop offset=".576" stop-color="#060606"/><stop offset="1" stop-color="#060606"/></linearGradient><linearGradient id="c52"><stop offset="0" stop-color="#080808"/><stop offset=".338" stop-color="#0b0b0b"/><stop offset=".576" stop-color="#060606"/><stop offset="1" stop-color="#060606"/></linearGradient><linearGradient id="c53"><stop offset="0" stop-color="#080808"/><stop offset=".333" stop-color="#0b0b0b"/><stop offset=".576" stop-color="#060606"/><stop offset="1" stop-color="#060606"/></linearGradient><linearGradient id="c54"><stop offset="0" stop-color="#080808"/><stop offset=".329" stop-color="#0a0a0a"/><stop offset=".576" stop-color="#060606"/><stop offset="1" stop-color="#060606"/></linearGradient><linearGradient id="c55"><stop offset="0" stop-color="#080808"/><stop offset=".329" stop-color="#0a0a0a"/><stop offset=".576" stop-color="#060606"/><stop offset="1" stop-color="#060606"/></linearGradient><linearGradient id="c56"><stop offset="0" stop-color="#080808"/><stop offset=".325" stop-color="#090909"/><stop offset=".576" stop-color="#060606"/><stop offset="1" stop-color="#060606"/></linearGradient><linearGradient id="c57"><stop offset="0" stop-color="#070707"/><stop offset=".32" stop-color="#090909"/><stop offset=".576" stop-color="#060606"/><stop offset="1" stop-color="#060606"/></linearGradient><linearGradient id="c58"><stop offset="0" stop-color="#070707"/><stop offset=".32" stop-color="#090909"/><stop offset=".576" stop-color="#060606"/><stop offset="1" stop-color="#060606"/></linearGradient><linearGradient id="c59"><stop offset="0" stop-color="#070707"/><stop offset=".316" stop-color="#090909"/><stop offset=".576" stop-color="#060606"/><stop offset="1" stop-color="#060606"/></linearGradient><linearGradient id="c60"><stop offset="0" stop-color="#070707"/><stop offset=".316" stop-color="#080808"/><stop offset=".576" stop-color="#060606"/><stop offset="1" stop-color="#060606"/></linearGradient><linearGradient id="c61"><stop offset="0" stop-color="#070707"/><stop offset=".312" stop-color="#080808"/><stop offset=".576" stop-color="#060606"/><stop offset="1" stop-color="#060606"/></linearGradient><linearGradient id="c62"><stop offset="0" stop-color="#070707"/><stop offset="1" stop-color="#060606"/></linearGradient><linearGradient id="c63"><stop offset="0" stop-color="#070707"/><stop offset="1" stop-color="#060606"/></linearGradient><filter id="cf" filterUnits="userSpaceOnUse" x="1439.1" y="62" width="461.7" height="460.7" color-interpolation-filters="sRGB"><feGaussianBlur stdDeviation="0 2.2"/><feComponentTransfer><feFuncR type="table" tableValues="0.031 0.028 0.027 0.027 0.027 0.029 0.033 0.038 0.044 0.052 0.059 0.068 0.077 0.087 0.097 0.108 0.12 0.131 0.144 0.156 0.169 0.181 0.194 0.207 0.219 0.232 0.245 0.258 0.271 0.284 0.297 0.311 0.325 0.338 0.352 0.366 0.38 0.393 0.407 0.421 0.434 0.448 0.461 0.475 0.488 0.501 0.514 0.527 0.54 0.552 0.565 0.578 0.59 0.603 0.615 0.628 0.64 0.652 0.664 0.677 0.689 0.701 0.712 0.724 0.736 0.747 0.758 0.77 0.781 0.791 0.802 0.812 0.822 0.832 0.842 0.851 0.861 0.869 0.878 0.886 0.894 0.902 0.909 0.916 0.923 0.93 0.936 0.942 0.947 0.952 0.957 0.961 0.965 0.969 0.973 0.976 0.978 0.981 0.983 0.985 0.986 0.987 0.988 0.988 0.988 0.987 0.987 0.986 0.984 0.982 0.98 0.977 0.975 0.971 0.968 0.964 0.961 0.957 0.953 0.95 0.948 0.946 0.947 0.95 0.955 0.962 0.971 0.982 0.988"/><feFuncG type="table" tableValues="0.031 0.029 0.028 0.028 0.029 0.031 0.034 0.038 0.042 0.047 0.053 0.06 0.066 0.073 0.079 0.085 0.09 0.095 0.1 0.104 0.107 0.111 0.115 0.118 0.122 0.126 0.129 0.132 0.135 0.137 0.138 0.139 0.139 0.138 0.137 0.136 0.135 0.133 0.132 0.131 0.13 0.13 0.13 0.131 0.132 0.133 0.135 0.138 0.14 0.143 0.147 0.15 0.154 0.158 0.163 0.167 0.172 0.177 0.182 0.187 0.192 0.198 0.204 0.21 0.216 0.222 0.229 0.236 0.243 0.251 0.259 0.267 0.275 0.284 0.293 0.302 0.312 0.322 0.332 0.343 0.353 0.364 0.376 0.387 0.399 0.411 0.424 0.436 0.449 0.462 0.475 0.489 0.502 0.516 0.53 0.544 0.558 0.572 0.587 0.601 0.616 0.63 0.645 0.66 0.675 0.69 0.706 0.721 0.736 0.751 0.767 0.782 0.798 0.813 0.829 0.844 0.859 0.874 0.889 0.903 0.917 0.931 0.943 0.955 0.966 0.976 0.985 0.994 0.998"/><feFuncB type="table" tableValues="0.049 0.054 0.063 0.076 0.088 0.102 0.116 0.131 0.146 0.162 0.179 0.197 0.215 0.234 0.253 0.272 0.291 0.309 0.325 0.341 0.355 0.368 0.379 0.388 0.396 0.403 0.409 0.414 0.419 0.422 0.425 0.428 0.429 0.431 0.432 0.433 0.433 0.433 0.433 0.432 0.432 0.43 0.429 0.427 0.426 0.423 0.421 0.418 0.415 0.412 0.408 0.404 0.4 0.396 0.391 0.386 0.381 0.376 0.37 0.364 0.358 0.351 0.344 0.337 0.33 0.323 0.315 0.307 0.3 0.291 0.283 0.275 0.266 0.257 0.249 0.24 0.231 0.221 0.212 0.203 0.194 0.184 0.175 0.165 0.155 0.145 0.135 0.125 0.115 0.105 0.095 0.084 0.074 0.063 0.053 0.044 0.035 0.029 0.025 0.024 0.026 0.031 0.04 0.052 0.065 0.08 0.096 0.112 0.13 0.148 0.166 0.186 0.206 0.228 0.25 0.273 0.298 0.324 0.351 0.38 0.411 0.442 0.475 0.508 0.54 0.572 0.602 0.631 0.645"/><feFuncA type="linear" slope="0" intercept="1"/></feComponentTransfer></filter><clipPath id="cc"><rect x="1439.1" y="70" width="461.7" height="444.7"/></clipPath></defs>
<g clip-path="url(#cc)"><g filter="url(#cf)"><rect x="1439.1" y="61.7" width="461.7" height="15.55" fill="url(#c0)"/><rect x="1439.1" y="76.65" width="461.7" height="7.55" fill="url(#c1)"/><rect x="1439.1" y="83.6" width="461.7" height="7.55" fill="url(#c2)"/><rect x="1439.1" y="90.55" width="461.7" height="7.55" fill="url(#c3)"/><rect x="1439.1" y="97.49" width="461.7" height="7.55" fill="url(#c4)"/><rect x="1439.1" y="104.44" width="461.7" height="7.55" fill="url(#c5)"/><rect x="1439.1" y="111.39" width="461.7" height="7.55" fill="url(#c6)"/><rect x="1439.1" y="118.34" width="461.7" height="7.55" fill="url(#c7)"/><rect x="1439.1" y="125.29" width="461.7" height="7.55" fill="url(#c8)"/><rect x="1439.1" y="132.24" width="461.7" height="7.55" fill="url(#c9)"/><rect x="1439.1" y="139.18" width="461.7" height="7.55" fill="url(#c10)"/><rect x="1439.1" y="146.13" width="461.7" height="7.55" fill="url(#c11)"/><rect x="1439.1" y="153.08" width="461.7" height="7.55" fill="url(#c12)"/><rect x="1439.1" y="160.03" width="461.7" height="7.55" fill="url(#c13)"/><rect x="1439.1" y="166.98" width="461.7" height="7.55" fill="url(#c14)"/><rect x="1439.1" y="173.93" width="461.7" height="7.55" fill="url(#c15)"/><rect x="1439.1" y="180.88" width="461.7" height="7.55" fill="url(#c16)"/><rect x="1439.1" y="187.82" width="461.7" height="7.55" fill="url(#c17)"/><rect x="1439.1" y="194.77" width="461.7" height="7.55" fill="url(#c18)"/><rect x="1439.1" y="201.72" width="461.7" height="7.55" fill="url(#c19)"/><rect x="1439.1" y="208.67" width="461.7" height="7.55" fill="url(#c20)"/><rect x="1439.1" y="215.62" width="461.7" height="7.55" fill="url(#c21)"/><rect x="1439.1" y="222.57" width="461.7" height="7.55" fill="url(#c22)"/><rect x="1439.1" y="229.51" width="461.7" height="7.55" fill="url(#c23)"/><rect x="1439.1" y="236.46" width="461.7" height="7.55" fill="url(#c24)"/><rect x="1439.1" y="243.41" width="461.7" height="7.55" fill="url(#c25)"/><rect x="1439.1" y="250.36" width="461.7" height="7.55" fill="url(#c26)"/><rect x="1439.1" y="257.31" width="461.7" height="7.55" fill="url(#c27)"/><rect x="1439.1" y="264.26" width="461.7" height="7.55" fill="url(#c28)"/><rect x="1439.1" y="271.2" width="461.7" height="7.55" fill="url(#c29)"/><rect x="1439.1" y="278.15" width="461.7" height="7.55" fill="url(#c30)"/><rect x="1439.1" y="285.1" width="461.7" height="7.55" fill="url(#c31)"/><rect x="1439.1" y="292.05" width="461.7" height="7.55" fill="url(#c32)"/><rect x="1439.1" y="299" width="461.7" height="7.55" fill="url(#c33)"/><rect x="1439.1" y="305.95" width="461.7" height="7.55" fill="url(#c34)"/><rect x="1439.1" y="312.9" width="461.7" height="7.55" fill="url(#c35)"/><rect x="1439.1" y="319.84" width="461.7" height="7.55" fill="url(#c36)"/><rect x="1439.1" y="326.79" width="461.7" height="7.55" fill="url(#c37)"/><rect x="1439.1" y="333.74" width="461.7" height="7.55" fill="url(#c38)"/><rect x="1439.1" y="340.69" width="461.7" height="7.55" fill="url(#c39)"/><rect x="1439.1" y="347.64" width="461.7" height="7.55" fill="url(#c40)"/><rect x="1439.1" y="354.59" width="461.7" height="7.55" fill="url(#c41)"/><rect x="1439.1" y="361.53" width="461.7" height="7.55" fill="url(#c42)"/><rect x="1439.1" y="368.48" width="461.7" height="7.55" fill="url(#c43)"/><rect x="1439.1" y="375.43" width="461.7" height="7.55" fill="url(#c44)"/><rect x="1439.1" y="382.38" width="461.7" height="7.55" fill="url(#c45)"/><rect x="1439.1" y="389.33" width="461.7" height="7.55" fill="url(#c46)"/><rect x="1439.1" y="396.28" width="461.7" height="7.55" fill="url(#c47)"/><rect x="1439.1" y="403.23" width="461.7" height="7.55" fill="url(#c48)"/><rect x="1439.1" y="410.17" width="461.7" height="7.55" fill="url(#c49)"/><rect x="1439.1" y="417.12" width="461.7" height="7.55" fill="url(#c50)"/><rect x="1439.1" y="424.07" width="461.7" height="7.55" fill="url(#c51)"/><rect x="1439.1" y="431.02" width="461.7" height="7.55" fill="url(#c52)"/><rect x="1439.1" y="437.97" width="461.7" height="7.55" fill="url(#c53)"/><rect x="1439.1" y="444.92" width="461.7" height="7.55" fill="url(#c54)"/><rect x="1439.1" y="451.86" width="461.7" height="7.55" fill="url(#c55)"/><rect x="1439.1" y="458.81" width="461.7" height="7.55" fill="url(#c56)"/><rect x="1439.1" y="465.76" width="461.7" height="7.55" fill="url(#c57)"/><rect x="1439.1" y="472.71" width="461.7" height="7.55" fill="url(#c58)"/><rect x="1439.1" y="479.66" width="461.7" height="7.55" fill="url(#c59)"/><rect x="1439.1" y="486.61" width="461.7" height="7.55" fill="url(#c60)"/><rect x="1439.1" y="493.55" width="461.7" height="7.55" fill="url(#c61)"/><rect x="1439.1" y="500.5" width="461.7" height="7.55" fill="url(#c62)"/><rect x="1439.1" y="507.45" width="461.7" height="15.55" fill="url(#c63)"/></g></g>
<defs><linearGradient id="ccb" x1="0" y1="0" x2="0" y2="1"><stop offset="0" stop-color="#fcffa4"/><stop offset="0.0312" stop-color="#f3f68a"/><stop offset="0.0625" stop-color="#f2ea69"/><stop offset="0.0938" stop-color="#f5db4c"/><stop offset="0.125" stop-color="#f9cb35"/><stop offset="0.1562" stop-color="#fbbc21"/><stop offset="0.1875" stop-color="#fcac11"/><stop offset="0.2188" stop-color="#fb9d07"/><stop offset="0.25" stop-color="#f98e09"/><stop offset="0.2812" stop-color="#f68013"/><stop offset="0.3125" stop-color="#f1731d"/><stop offset="0.3438" stop-color="#eb6628"/><stop offset="0.375" stop-color="#e45a31"/><stop offset="0.4062" stop-color="#db503b"/><stop offset="0.4375" stop-color="#d24644"/><stop offset="0.4688" stop-color="#c73e4c"/><stop offset="0.5" stop-color="#bc3754"/><stop offset="0.5312" stop-color="#b0315b"/><stop offset="0.5625" stop-color="#a32c61"/><stop offset="0.5938" stop-color="#972766"/><stop offset="0.625" stop-color="#8a246a"/><stop offset="0.6562" stop-color="#7c226d"/><stop offset="0.6875" stop-color="#6f216e"/><stop offset="0.7188" stop-color="#61226e"/><stop offset="0.75" stop-color="#53236e"/><stop offset="0.7812" stop-color="#45226b"/><stop offset="0.8125" stop-color="#381f65"/><stop offset="0.8438" stop-color="#2b1b5b"/><stop offset="0.875" stop-color="#1f174a"/><stop offset="0.9062" stop-color="#141137"/><stop offset="0.9375" stop-color="#0b0b25"/><stop offset="0.9688" stop-color="#070717"/><stop offset="1" stop-color="#08080c"/></linearGradient></defs><rect x="1914.2" y="70" width="19" height="444.7" fill="url(#ccb)"/>
<text x="1351" y="36" font-size="42.5" class="pl">(c)</text>
<text x="1432.8" y="79.7" font-size="33" text-anchor="end">625</text>
<text x="1432.8" y="190.88" font-size="33" text-anchor="end">620</text>
<text x="1432.8" y="302.05" font-size="33" text-anchor="end">615</text>
<text x="1432.8" y="413.23" font-size="33" text-anchor="end">610</text>
<text x="1432.8" y="524.4" font-size="33" text-anchor="end">605</text>
<text x="1439.1" y="547.8" font-size="33" text-anchor="middle">−4</text>
<text x="1554.52" y="547.8" font-size="33" text-anchor="middle">−2</text>
<text x="1669.95" y="547.8" font-size="33" text-anchor="middle">0</text>
<text x="1785.38" y="547.8" font-size="33" text-anchor="middle">2</text>
<text x="1900.8" y="547.8" font-size="33" text-anchor="middle">4</text>
<text x="1669.95" y="595" font-size="33" text-anchor="middle">Incident angle (deg)</text>
<text transform="translate(1364.1,290.55) rotate(-90)" font-size="33" text-anchor="middle">wavelength (nm)</text>
<text x="1923.7" y="50.1" font-size="33" text-anchor="middle">Absorption</text>
<text x="1941.4" y="525.3" font-size="33">0</text>
<text x="1941.4" y="436.36" font-size="33">0.2</text>
<text x="1941.4" y="347.42" font-size="33">0.4</text>
<text x="1941.4" y="258.48" font-size="33">0.6</text>
<text x="1941.4" y="169.54" font-size="33">0.8</text>
<text x="1941.4" y="80.6" font-size="33">1</text>
<!-- panel d -->
<defs><linearGradient id="d0"><stop offset="0" stop-color="#8c8c8c"/><stop offset=".013" stop-color="#6d6d6d"/><stop offset=".026" stop-color="#555555"/><stop offset=".043" stop-color="#404040"/><stop offset=".061" stop-color="#323232"/><stop offset=".082" stop-color="#262626"/><stop offset=".108" stop-color="#1e1e1e"/><stop offset=".147" stop-color="#161616"/><stop offset=".186" stop-color="#111111"/><stop offset=".277" stop-color="#0d0d0d"/><stop offset=".463" stop-color="#0a0a0a"/><stop offset=".706" stop-color="#0a0a0a"/><stop offset=".861" stop-color="#0d0d0d"/><stop offset=".918" stop-color="#111111"/><stop offset=".957" stop-color="#191919"/><stop offset=".978" stop-color="#222222"/><stop offset=".991" stop-color="#2c2c2c"/><stop offset="1" stop-color="#363636"/></linearGradient><linearGradient id="d1"><stop offset="0" stop-color="#a2a2a2"/><stop offset=".017" stop-color="#757575"/><stop offset=".03" stop-color="#5b5b5b"/><stop offset=".043" stop-color="#494949"/><stop offset=".061" stop-color="#383838"/><stop offset=".082" stop-color="#2a2a2a"/><stop offset=".108" stop-color="#202020"/><stop offset=".143" stop-color="#181818"/><stop offset=".182" stop-color="#121212"/><stop offset=".273" stop-color="#0d0d0d"/><stop offset=".459" stop-color="#0a0a0a"/><stop offset=".714" stop-color="#0a0a0a"/><stop offset=".866" stop-color="#0d0d0d"/><stop offset=".922" stop-color="#131313"/><stop offset=".957" stop-color="#1b1b1b"/><stop offset=".978" stop-color="#282828"/><stop offset=".987" stop-color="#303030"/><stop offset="1" stop-color="#404040"/></linearGradient><linearGradient id="d2"><stop offset="0" stop-color="#b8b8b8"/><stop offset=".022" stop-color="#7e7e7e"/><stop offset=".035" stop-color="#626262"/><stop offset=".048" stop-color="#4e4e4e"/><stop offset=".065" stop-color="#3c3c3c"/><stop offset=".087" stop-color="#2d2d2d"/><stop offset=".108" stop-color="#232323"/><stop offset=".143" stop-color="#1a1a1a"/><stop offset=".182" stop-color="#131313"/><stop offset=".273" stop-color="#0e0e0e"/><stop offset=".463" stop-color="#0a0a0a"/><stop offset=".732" stop-color="#0a0a0a"/><stop offset=".87" stop-color="#0e0e0e"/><stop offset=".922" stop-color="#141414"/><stop offset=".957" stop-color="#1f1f1f"/><stop offset=".97" stop-color="#272727"/><stop offset=".978" stop-color="#2f2f2f"/><stop offset=".987" stop-color="#393939"/><stop offset="1" stop-color="#4b4b4b"/></linearGradient><linearGradient id="d3"><stop offset="0" stop-color="#cbcbcb"/><stop offset=".009" stop-color="#b7b7b7"/><stop offset=".026" stop-color="#878787"/><stop offset=".039" stop-color="#6a6a6a"/><stop offset=".052" stop-color="#545454"/><stop offset=".069" stop-color="#404040"/><stop offset=".091" stop-color="#2f2f2f"/><stop offset=".113" stop-color="#252525"/><stop offset=".147" stop-color="#1a1a1a"/><stop offset=".186" stop-color="#141414"/><stop offset=".277" stop-color="#0e0e0e"/><stop offset=".472" stop-color="#0a0a0a"/><stop offset=".74" stop-color="#0a0a0a"/><stop offset=".87" stop-color="#0f0f0f"/><stop offset=".918" stop-color="#151515"/><stop offset=".935" stop-color="#1a1a1a"/><stop offset=".952" stop-color="#212121"/><stop offset=".965" stop-color="#2a2a2a"/><stop offset=".974" stop-color="#323232"/><stop offset="1" stop-color="#565656"/></linearGradient><linearGradient id="d4"><stop offset="0" stop-color="#d6d6d6"/><stop offset=".004" stop-color="#d2d2d2"/><stop offset=".013" stop-color="#c1c1c1"/><stop offset=".035" stop-color="#868686"/><stop offset=".048" stop-color="#6a6a6a"/><stop offset=".061" stop-color="#545454"/><stop offset=".074" stop-color="#444444"/><stop offset=".095" stop-color="#323232"/><stop offset=".117" stop-color="#272727"/><stop offset=".152" stop-color="#1b1b1b"/><stop offset=".19" stop-color="#141414"/><stop offset=".281" stop-color="#0e0e0e"/><stop offset=".476" stop-color="#0a0a0a"/><stop offset=".74" stop-color="#0b0b0b"/><stop offset=".866" stop-color="#0f0f0f"/><stop offset=".913" stop-color="#161616"/><stop offset=".931" stop-color="#1b1b1b"/><stop offset=".948" stop-color="#232323"/><stop offset=".965" stop-color="#313131"/><stop offset=".974" stop-color="#3b3b3b"/><stop offset=".991" stop-color="#545454"/><stop offset="1" stop-color="#5c5c5c"/></linearGradient><linearGradient id="d5"><stop offset="0" stop-color="#d7d7d7"/><stop offset=".004" stop-color="#d8d8d8"/><stop offset=".009" stop-color="#d6d6d6"/><stop offset=".013" stop-color="#d2d2d2"/><stop offset=".022" stop-color="#c0c0c0"/><stop offset=".043" stop-color="#868686"/><stop offset=".056" stop-color="#6a6a6a"/><stop offset=".069" stop-color="#555555"/><stop offset=".087" stop-color="#404040"/><stop offset=".108" stop-color="#303030"/><stop offset=".134" stop-color="#232323"/><stop offset=".165" stop-color="#1a1a1a"/><stop offset=".199" stop-color="#141414"/><stop offset=".29" stop-color="#0e0e0e"/><stop offset=".489" stop-color="#0a0a0a"/><stop offset=".74" stop-color="#0b0b0b"/><stop offset=".861" stop-color="#0f0f0f"/><stop offset=".909" stop-color="#171717"/><stop offset=".939" stop-color="#232323"/><stop offset=".952" stop-color="#2c2c2c"/><stop offset=".961" stop-color="#353535"/><stop offset=".987" stop-color="#575757"/><stop offset=".996" stop-color="#5d5d5d"/><stop offset="1" stop-color="#5d5d5d"/></linearGradient><linearGradient id="d6"><stop offset="0" stop-color="#cdcdcd"/><stop offset=".004" stop-color="#d4d4d4"/><stop offset=".009" stop-color="#d8d8d8"/><stop offset=".013" stop-color="#d9d9d9"/><stop offset=".017" stop-color="#d7d7d7"/><stop offset=".022" stop-color="#d2d2d2"/><stop offset=".03" stop-color="#bfbfbf"/><stop offset=".052" stop-color="#878787"/><stop offset=".065" stop-color="#6b6b6b"/><stop offset=".082" stop-color="#4f4f4f"/><stop offset=".1" stop-color="#3d3d3d"/><stop offset=".121" stop-color="#2d2d2d"/><stop offset=".147" stop-color="#222222"/><stop offset=".177" stop-color="#191919"/><stop offset=".212" stop-color="#141414"/><stop offset=".312" stop-color="#0d0d0d"/><stop offset=".494" stop-color="#0a0a0a"/><stop offset=".727" stop-color="#0b0b0b"/><stop offset=".848" stop-color="#0f0f0f"/><stop offset=".892" stop-color="#151515"/><stop offset=".922" stop-color="#1f1f1f"/><stop offset=".935" stop-color="#262626"/><stop offset=".948" stop-color="#303030"/><stop offset=".983" stop-color="#5a5a5a"/><stop offset=".991" stop-color="#5c5c5c"/><stop offset="1" stop-color="#575757"/></linearGradient><linearGradient id="d7"><stop offset="0" stop-color="#bababa"/><stop offset=".009" stop-color="#cecece"/><stop offset=".013" stop-color="#d5d5d5"/><stop offset=".017" stop-color="#d9d9d9"/><stop offset=".022" stop-color="#dadada"/><stop offset=".026" stop-color="#d8d8d8"/><stop offset=".035" stop-color="#cacaca"/><stop offset=".061" stop-color="#888888"/><stop offset=".074" stop-color="#6c6c6c"/><stop offset=".087" stop-color="#565656"/><stop offset=".104" stop-color="#414141"/><stop offset=".126" stop-color="#303030"/><stop offset=".156" stop-color="#222222"/><stop offset=".186" stop-color="#191919"/><stop offset=".225" stop-color="#131313"/><stop offset=".329" stop-color="#0d0d0d"/><stop offset=".489" stop-color="#0a0a0a"/><stop offset=".701" stop-color="#0a0a0a"/><stop offset=".831" stop-color="#0e0e0e"/><stop offset=".883" stop-color="#151515"/><stop offset=".9" stop-color="#1a1a1a"/><stop offset=".918" stop-color="#212121"/><stop offset=".939" stop-color="#303030"/><stop offset=".952" stop-color="#3e3e3e"/><stop offset=".97" stop-color="#545454"/><stop offset=".978" stop-color="#5b5b5b"/><stop offset=".987" stop-color="#5a5a5a"/><stop offset="1" stop-color="#4c4c4c"/></linearGradient><linearGradient id="d8"><stop offset="0" stop-color="#a5a5a5"/><stop offset=".009" stop-color="#bcbcbc"/><stop offset=".017" stop-color="#d0d0d0"/><stop offset=".022" stop-color="#d7d7d7"/><stop offset=".026" stop-color="#dbdbdb"/><stop offset=".03" stop-color="#dbdbdb"/><stop offset=".035" stop-color="#d8d8d8"/><stop offset=".043" stop-color="#cacaca"/><stop offset=".069" stop-color="#898989"/><stop offset=".082" stop-color="#6d6d6d"/><stop offset=".095" stop-color="#575757"/><stop offset=".113" stop-color="#424242"/><stop offset=".139" stop-color="#2e2e2e"/><stop offset=".165" stop-color="#212121"/><stop offset=".195" stop-color="#191919"/><stop offset=".238" stop-color="#131313"/><stop offset=".338" stop-color="#0d0d0d"/><stop offset=".481" stop-color="#0a0a0a"/><stop offset=".658" stop-color="#0a0a0a"/><stop offset=".81" stop-color="#0d0d0d"/><stop offset=".866" stop-color="#131313"/><stop offset=".887" stop-color="#181818"/><stop offset=".905" stop-color="#1f1f1f"/><stop offset=".918" stop-color="#262626"/><stop offset=".931" stop-color="#303030"/><stop offset=".961" stop-color="#535353"/><stop offset=".97" stop-color="#595959"/><stop offset=".974" stop-color="#5a5a5a"/><stop offset=".983" stop-color="#565656"/><stop offset="1" stop-color="#414141"/></linearGradient><linearGradient id="d9"><stop offset="0" stop-color="#8f8f8f"/><stop offset=".017" stop-color="#bfbfbf"/><stop offset=".026" stop-color="#d3d3d3"/><stop offset=".03" stop-color="#d9d9d9"/><stop offset=".035" stop-color="#dcdcdc"/><stop offset=".039" stop-color="#dcdcdc"/><stop offset=".043" stop-color="#d9d9d9"/><stop offset=".052" stop-color="#cbcbcb"/><stop offset=".082" stop-color="#818181"/><stop offset=".095" stop-color="#676767"/><stop offset=".108" stop-color="#535353"/><stop offset=".126" stop-color="#3f3f3f"/><stop offset=".152" stop-color="#2c2c2c"/><stop offset=".177" stop-color="#202020"/><stop offset=".212" stop-color="#171717"/><stop offset=".255" stop-color="#121212"/><stop offset=".39" stop-color="#0c0c0c"/><stop offset=".55" stop-color="#0a0a0a"/><stop offset=".732" stop-color="#0b0b0b"/><stop offset=".827" stop-color="#0f0f0f"/><stop offset=".87" stop-color="#161616"/><stop offset=".9" stop-color="#212121"/><stop offset=".922" stop-color="#303030"/><stop offset=".957" stop-color="#555555"/><stop offset=".965" stop-color="#595959"/><stop offset=".97" stop-color="#585858"/><stop offset=".978" stop-color="#515151"/><stop offset="1" stop-color="#373737"/></linearGradient><linearGradient id="d10"><stop offset="0" stop-color="#7a7a7a"/><stop offset=".009" stop-color="#909090"/><stop offset=".022" stop-color="#b5b5b5"/><stop offset=".03" stop-color="#cccccc"/><stop offset=".035" stop-color="#d4d4d4"/><stop offset=".039" stop-color="#dadada"/><stop offset=".043" stop-color="#dddddd"/><stop offset=".048" stop-color="#dddddd"/><stop offset=".052" stop-color="#dadada"/><stop offset=".061" stop-color="#cdcdcd"/><stop offset=".069" stop-color="#b9b9b9"/><stop offset=".087" stop-color="#8e8e8e"/><stop offset=".1" stop-color="#717171"/><stop offset=".113" stop-color="#5a5a5a"/><stop offset=".126" stop-color="#494949"/><stop offset=".143" stop-color="#383838"/><stop offset=".165" stop-color="#292929"/><stop offset=".19" stop-color="#1f1f1f"/><stop offset=".221" stop-color="#181818"/><stop offset=".294" stop-color="#101010"/><stop offset=".446" stop-color="#0b0b0b"/><stop offset=".658" stop-color="#0a0a0a"/><stop offset=".814" stop-color="#0f0f0f"/><stop offset=".861" stop-color="#161616"/><stop offset=".892" stop-color="#212121"/><stop offset=".913" stop-color="#303030"/><stop offset=".944" stop-color="#515151"/><stop offset=".952" stop-color="#565656"/><stop offset=".957" stop-color="#575757"/><stop offset=".961" stop-color="#575757"/><stop offset=".97" stop-color="#515151"/><stop offset="1" stop-color="#2e2e2e"/></linearGradient><linearGradient id="d11"><stop offset="0" stop-color="#696969"/><stop offset=".013" stop-color="#868686"/><stop offset=".03" stop-color="#b7b7b7"/><stop offset=".039" stop-color="#cccccc"/><stop offset=".048" stop-color="#dadada"/><stop offset=".052" stop-color="#dddddd"/><stop offset=".056" stop-color="#dedede"/><stop offset=".061" stop-color="#dbdbdb"/><stop offset=".069" stop-color="#cfcfcf"/><stop offset=".078" stop-color="#bcbcbc"/><stop offset=".1" stop-color="#868686"/><stop offset=".113" stop-color="#6b6b6b"/><stop offset=".126" stop-color="#565656"/><stop offset=".139" stop-color="#464646"/><stop offset=".156" stop-color="#353535"/><stop offset=".173" stop-color="#2a2a2a"/><stop offset=".195" stop-color="#202020"/><stop offset=".225" stop-color="#181818"/><stop offset=".294" stop-color="#111111"/><stop offset=".437" stop-color="#0b0b0b"/><stop offset=".632" stop-color="#0a0a0a"/><stop offset=".801" stop-color="#0e0e0e"/><stop offset=".848" stop-color="#151515"/><stop offset=".879" stop-color="#1f1f1f"/><stop offset=".892" stop-color="#272727"/><stop offset=".905" stop-color="#313131"/><stop offset=".935" stop-color="#505050"/><stop offset=".944" stop-color="#555555"/><stop offset=".948" stop-color="#565656"/><stop offset=".952" stop-color="#555555"/><stop offset=".961" stop-color="#505050"/><stop offset=".987" stop-color="#333333"/><stop offset="1" stop-color="#272727"/></linearGradient><linearGradient id="d12"><stop offset="0" stop-color="#5b5b5b"/><stop offset=".009" stop-color="#6a6a6a"/><stop offset=".017" stop-color="#7d7d7d"/><stop offset=".039" stop-color="#b8b8b8"/><stop offset=".048" stop-color="#cccccc"/><stop offset=".056" stop-color="#dadada"/><stop offset=".061" stop-color="#dddddd"/><stop offset=".065" stop-color="#dedede"/><stop offset=".069" stop-color="#dcdcdc"/><stop offset=".078" stop-color="#d1d1d1"/><stop offset=".087" stop-color="#bfbfbf"/><stop offset=".104" stop-color="#949494"/><stop offset=".117" stop-color="#777777"/><stop offset=".13" stop-color="#5f5f5f"/><stop offset=".147" stop-color="#464646"/><stop offset=".165" stop-color="#353535"/><stop offset=".182" stop-color="#2a2a2a"/><stop offset=".203" stop-color="#212121"/><stop offset=".234" stop-color="#191919"/><stop offset=".307" stop-color="#101010"/><stop offset=".442" stop-color="#0b0b0b"/><stop offset=".628" stop-color="#0a0a0a"/><stop offset=".792" stop-color="#0e0e0e"/><stop offset=".835" stop-color="#141414"/><stop offset=".87" stop-color="#1f1f1f"/><stop offset=".892" stop-color="#2d2d2d"/><stop offset=".926" stop-color="#4f4f4f"/><stop offset=".939" stop-color="#545454"/><stop offset=".952" stop-color="#4e4e4e"/><stop offset=".983" stop-color="#2f2f2f"/><stop offset="1" stop-color="#222222"/></linearGradient><linearGradient id="d13"><stop offset="0" stop-color="#4e4e4e"/><stop offset=".013" stop-color="#636363"/><stop offset=".022" stop-color="#757575"/><stop offset=".048" stop-color="#b7b7b7"/><stop offset=".056" stop-color="#cbcbcb"/><stop offset=".065" stop-color="#d9d9d9"/><stop offset=".074" stop-color="#dfdfdf"/><stop offset=".082" stop-color="#dadada"/><stop offset=".091" stop-color="#cccccc"/><stop offset=".1" stop-color="#b9b9b9"/><stop offset=".117" stop-color="#8e8e8e"/><stop offset=".13" stop-color="#717171"/><stop offset=".143" stop-color="#5a5a5a"/><stop offset=".156" stop-color="#484848"/><stop offset=".173" stop-color="#363636"/><stop offset=".19" stop-color="#2a2a2a"/><stop offset=".212" stop-color="#212121"/><stop offset=".238" stop-color="#1a1a1a"/><stop offset=".312" stop-color="#111111"/><stop offset=".437" stop-color="#0b0b0b"/><stop offset=".628" stop-color="#0a0a0a"/><stop offset=".784" stop-color="#0e0e0e"/><stop offset=".827" stop-color="#141414"/><stop offset=".857" stop-color="#1e1e1e"/><stop offset=".883" stop-color="#2e2e2e"/><stop offset=".918" stop-color="#4e4e4e"/><stop offset=".931" stop-color="#525252"/><stop offset=".944" stop-color="#4c4c4c"/><stop offset=".978" stop-color="#2b2b2b"/><stop offset="1" stop-color="#1e1e1e"/></linearGradient><linearGradient id="d14"><stop offset="0" stop-color="#454545"/><stop offset=".013" stop-color="#555555"/><stop offset=".026" stop-color="#6c6c6c"/><stop offset=".039" stop-color="#898989"/><stop offset=".061" stop-color="#bfbfbf"/><stop offset=".069" stop-color="#d1d1d1"/><stop offset=".078" stop-color="#dddddd"/><stop offset=".082" stop-color="#dfdfdf"/><stop offset=".091" stop-color="#dcdcdc"/><stop offset=".1" stop-color="#d0d0d0"/><stop offset=".108" stop-color="#bdbdbd"/><stop offset=".126" stop-color="#929292"/><stop offset=".139" stop-color="#747474"/><stop offset=".152" stop-color="#5c5c5c"/><stop offset=".165" stop-color="#494949"/><stop offset=".182" stop-color="#373737"/><stop offset=".199" stop-color="#2b2b2b"/><stop offset=".221" stop-color="#212121"/><stop offset=".247" stop-color="#1a1a1a"/><stop offset=".32" stop-color="#111111"/><stop offset=".442" stop-color="#0b0b0b"/><stop offset=".623" stop-color="#090909"/><stop offset=".775" stop-color="#0e0e0e"/><stop offset=".818" stop-color="#141414"/><stop offset=".848" stop-color="#1e1e1e"/><stop offset=".87" stop-color="#2b2b2b"/><stop offset=".905" stop-color="#4a4a4a"/><stop offset=".918" stop-color="#505050"/><stop offset=".931" stop-color="#4d4d4d"/><stop offset=".97" stop-color="#2b2b2b"/><stop offset=".983" stop-color="#222222"/><stop offset="1" stop-color="#1b1b1b"/></linearGradient><linearGradient id="d15"><stop offset="0" stop-color="#3c3c3c"/><stop offset=".017" stop-color="#505050"/><stop offset=".035" stop-color="#6d6d6d"/><stop offset=".048" stop-color="#888888"/><stop offset=".069" stop-color="#bcbcbc"/><stop offset=".078" stop-color="#cfcfcf"/><stop offset=".087" stop-color="#dcdcdc"/><stop offset=".095" stop-color="#e0e0e0"/><stop offset=".104" stop-color="#dadada"/><stop offset=".113" stop-color="#cccccc"/><stop offset=".121" stop-color="#b8b8b8"/><stop offset=".143" stop-color="#828282"/><stop offset=".152" stop-color="#6e6e6e"/><stop offset=".16" stop-color="#5e5e5e"/><stop offset=".173" stop-color="#4a4a4a"/><stop offset=".19" stop-color="#383838"/><stop offset=".208" stop-color="#2c2c2c"/><stop offset=".229" stop-color="#222222"/><stop offset=".255" stop-color="#1a1a1a"/><stop offset=".329" stop-color="#111111"/><stop offset=".446" stop-color="#0b0b0b"/><stop offset=".623" stop-color="#090909"/><stop offset=".766" stop-color="#0e0e0e"/><stop offset=".81" stop-color="#141414"/><stop offset=".84" stop-color="#1e1e1e"/><stop offset=".861" stop-color="#2b2b2b"/><stop offset=".896" stop-color="#494949"/><stop offset=".909" stop-color="#4e4e4e"/><stop offset=".918" stop-color="#4d4d4d"/><stop offset=".926" stop-color="#474747"/><stop offset=".952" stop-color="#313131"/><stop offset=".97" stop-color="#252525"/><stop offset="1" stop-color="#181818"/></linearGradient><linearGradient id="d16"><stop offset="0" stop-color="#363636"/><stop offset=".013" stop-color="#414141"/><stop offset=".022" stop-color="#4b4b4b"/><stop offset=".039" stop-color="#646464"/><stop offset=".056" stop-color="#868686"/><stop offset=".087" stop-color="#cccccc"/><stop offset=".095" stop-color="#dadada"/><stop offset=".104" stop-color="#e1e1e1"/><stop offset=".113" stop-color="#dddddd"/><stop offset=".121" stop-color="#d1d1d1"/><stop offset=".13" stop-color="#bebebe"/><stop offset=".152" stop-color="#858585"/><stop offset=".16" stop-color="#717171"/><stop offset=".173" stop-color="#595959"/><stop offset=".186" stop-color="#474747"/><stop offset=".203" stop-color="#363636"/><stop offset=".221" stop-color="#2a2a2a"/><stop offset=".242" stop-color="#212121"/><stop offset=".264" stop-color="#1b1b1b"/><stop offset=".338" stop-color="#111111"/><stop offset=".446" stop-color="#0b0b0b"/><stop offset=".623" stop-color="#090909"/><stop offset=".758" stop-color="#0e0e0e"/><stop offset=".797" stop-color="#131313"/><stop offset=".827" stop-color="#1c1c1c"/><stop offset=".848" stop-color="#282828"/><stop offset=".887" stop-color="#484848"/><stop offset=".9" stop-color="#4c4c4c"/><stop offset=".913" stop-color="#474747"/><stop offset=".944" stop-color="#2f2f2f"/><stop offset=".961" stop-color="#242424"/><stop offset=".978" stop-color="#1c1c1c"/><stop offset="1" stop-color="#161616"/></linearGradient><linearGradient id="d17"><stop offset="0" stop-color="#303030"/><stop offset=".022" stop-color="#414141"/><stop offset=".043" stop-color="#5c5c5c"/><stop offset=".056" stop-color="#727272"/><stop offset=".065" stop-color="#838383"/><stop offset=".091" stop-color="#bfbfbf"/><stop offset=".1" stop-color="#d1d1d1"/><stop offset=".108" stop-color="#dedede"/><stop offset=".117" stop-color="#e2e2e2"/><stop offset=".126" stop-color="#dddddd"/><stop offset=".134" stop-color="#cecece"/><stop offset=".143" stop-color="#b9b9b9"/><stop offset=".16" stop-color="#8a8a8a"/><stop offset=".169" stop-color="#757575"/><stop offset=".182" stop-color="#5c5c5c"/><stop offset=".195" stop-color="#494949"/><stop offset=".212" stop-color="#373737"/><stop offset=".229" stop-color="#2b2b2b"/><stop offset=".247" stop-color="#232323"/><stop offset=".273" stop-color="#1b1b1b"/><stop offset=".342" stop-color="#121212"/><stop offset=".446" stop-color="#0b0b0b"/><stop offset=".619" stop-color="#090909"/><stop offset=".745" stop-color="#0e0e0e"/><stop offset=".784" stop-color="#121212"/><stop offset=".814" stop-color="#1b1b1b"/><stop offset=".84" stop-color="#292929"/><stop offset=".874" stop-color="#444444"/><stop offset=".883" stop-color="#494949"/><stop offset=".892" stop-color="#4a4a4a"/><stop offset=".905" stop-color="#454545"/><stop offset=".935" stop-color="#2e2e2e"/><stop offset=".952" stop-color="#242424"/><stop offset=".974" stop-color="#1b1b1b"/><stop offset="1" stop-color="#141414"/></linearGradient><linearGradient id="d18"><stop offset="0" stop-color="#2c2c2c"/><stop offset=".017" stop-color="#363636"/><stop offset=".03" stop-color="#414141"/><stop offset=".043" stop-color="#4f4f4f"/><stop offset=".056" stop-color="#616161"/><stop offset=".069" stop-color="#777777"/><stop offset=".078" stop-color="#888888"/><stop offset=".104" stop-color="#c5c5c5"/><stop offset=".113" stop-color="#d6d6d6"/><stop offset=".121" stop-color="#e1e1e1"/><stop offset=".126" stop-color="#e3e3e3"/><stop offset=".13" stop-color="#e3e3e3"/><stop offset=".134" stop-color="#e0e0e0"/><stop offset=".143" stop-color="#d3d3d3"/><stop offset=".152" stop-color="#bebebe"/><stop offset=".169" stop-color="#8f8f8f"/><stop offset=".177" stop-color="#797979"/><stop offset=".19" stop-color="#5f5f5f"/><stop offset=".203" stop-color="#4b4b4b"/><stop offset=".221" stop-color="#383838"/><stop offset=".238" stop-color="#2c2c2c"/><stop offset=".26" stop-color="#222222"/><stop offset=".281" stop-color="#1c1c1c"/><stop offset=".346" stop-color="#121212"/><stop offset=".446" stop-color="#0c0c0c"/><stop offset=".619" stop-color="#090909"/><stop offset=".732" stop-color="#0e0e0e"/><stop offset=".775" stop-color="#131313"/><stop offset=".805" stop-color="#1b1b1b"/><stop offset=".827" stop-color="#262626"/><stop offset=".866" stop-color="#434343"/><stop offset=".879" stop-color="#474747"/><stop offset=".887" stop-color="#464646"/><stop offset=".896" stop-color="#414141"/><stop offset=".926" stop-color="#2c2c2c"/><stop offset=".948" stop-color="#212121"/><stop offset=".974" stop-color="#181818"/><stop offset="1" stop-color="#131313"/></linearGradient><linearGradient id="d19"><stop offset="0" stop-color="#282828"/><stop offset=".017" stop-color="#313131"/><stop offset=".03" stop-color="#3a3a3a"/><stop offset=".048" stop-color="#494949"/><stop offset=".061" stop-color="#595959"/><stop offset=".074" stop-color="#6c6c6c"/><stop offset=".087" stop-color="#848484"/><stop offset=".121" stop-color="#d3d3d3"/><stop offset=".13" stop-color="#e0e0e0"/><stop offset=".134" stop-color="#e4e4e4"/><stop offset=".139" stop-color="#e5e5e5"/><stop offset=".143" stop-color="#e3e3e3"/><stop offset=".152" stop-color="#d7d7d7"/><stop offset=".16" stop-color="#c4c4c4"/><stop offset=".182" stop-color="#898989"/><stop offset=".19" stop-color="#747474"/><stop offset=".203" stop-color="#5b5b5b"/><stop offset=".216" stop-color="#484848"/><stop offset=".229" stop-color="#3a3a3a"/><stop offset=".247" stop-color="#2d2d2d"/><stop offset=".268" stop-color="#232323"/><stop offset=".29" stop-color="#1d1d1d"/><stop offset=".355" stop-color="#121212"/><stop offset=".442" stop-color="#0c0c0c"/><stop offset=".615" stop-color="#090909"/><stop offset=".714" stop-color="#0d0d0d"/><stop offset=".762" stop-color="#121212"/><stop offset=".792" stop-color="#191919"/><stop offset=".818" stop-color="#262626"/><stop offset=".853" stop-color="#404040"/><stop offset=".861" stop-color="#434343"/><stop offset=".87" stop-color="#444444"/><stop offset=".883" stop-color="#414141"/><stop offset=".918" stop-color="#2a2a2a"/><stop offset=".939" stop-color="#202020"/><stop offset=".97" stop-color="#171717"/><stop offset="1" stop-color="#121212"/></linearGradient><linearGradient id="d20"><stop offset="0" stop-color="#242424"/><stop offset=".022" stop-color="#2e2e2e"/><stop offset=".043" stop-color="#3d3d3d"/><stop offset=".061" stop-color="#4c4c4c"/><stop offset=".074" stop-color="#5c5c5c"/><stop offset=".087" stop-color="#6f6f6f"/><stop offset=".095" stop-color="#7f7f7f"/><stop offset=".108" stop-color="#9b9b9b"/><stop offset=".126" stop-color="#c5c5c5"/><stop offset=".134" stop-color="#d7d7d7"/><stop offset=".143" stop-color="#e2e2e2"/><stop offset=".147" stop-color="#e5e5e5"/><stop offset=".152" stop-color="#e4e4e4"/><stop offset=".156" stop-color="#e1e1e1"/><stop offset=".165" stop-color="#d4d4d4"/><stop offset=".173" stop-color="#bfbfbf"/><stop offset=".19" stop-color="#8f8f8f"/><stop offset=".199" stop-color="#7a7a7a"/><stop offset=".212" stop-color="#5f5f5f"/><stop offset=".225" stop-color="#4a4a4a"/><stop offset=".238" stop-color="#3c3c3c"/><stop offset=".255" stop-color="#2f2f2f"/><stop offset=".277" stop-color="#242424"/><stop offset=".299" stop-color="#1e1e1e"/><stop offset=".364" stop-color="#121212"/><stop offset=".437" stop-color="#0d0d0d"/><stop offset=".589" stop-color="#090909"/><stop offset=".701" stop-color="#0d0d0d"/><stop offset=".749" stop-color="#111111"/><stop offset=".784" stop-color="#1a1a1a"/><stop offset=".805" stop-color="#242424"/><stop offset=".84" stop-color="#3c3c3c"/><stop offset=".857" stop-color="#424242"/><stop offset=".874" stop-color="#3d3d3d"/><stop offset=".909" stop-color="#292929"/><stop offset=".935" stop-color="#1e1e1e"/><stop offset=".965" stop-color="#161616"/><stop offset="1" stop-color="#111111"/></linearGradient><linearGradient id="d21"><stop offset="0" stop-color="#222222"/><stop offset=".022" stop-color="#2a2a2a"/><stop offset=".048" stop-color="#393939"/><stop offset=".065" stop-color="#464646"/><stop offset=".082" stop-color="#595959"/><stop offset=".095" stop-color="#6b6b6b"/><stop offset=".108" stop-color="#838383"/><stop offset=".117" stop-color="#959595"/><stop offset=".139" stop-color="#c8c8c8"/><stop offset=".147" stop-color="#d9d9d9"/><stop offset=".156" stop-color="#e3e3e3"/><stop offset=".16" stop-color="#e5e5e5"/><stop offset=".165" stop-color="#e3e3e3"/><stop offset=".169" stop-color="#dfdfdf"/><stop offset=".173" stop-color="#d9d9d9"/><stop offset=".182" stop-color="#c6c6c6"/><stop offset=".203" stop-color="#8a8a8a"/><stop offset=".212" stop-color="#757575"/><stop offset=".225" stop-color="#5b5b5b"/><stop offset=".238" stop-color="#484848"/><stop offset=".251" stop-color="#3b3b3b"/><stop offset=".268" stop-color="#2e2e2e"/><stop offset=".29" stop-color="#242424"/><stop offset=".316" stop-color="#1c1c1c"/><stop offset=".381" stop-color="#111111"/><stop offset=".45" stop-color="#0c0c0c"/><stop offset=".61" stop-color="#090909"/><stop offset=".693" stop-color="#0c0c0c"/><stop offset=".736" stop-color="#111111"/><stop offset=".771" stop-color="#181818"/><stop offset=".797" stop-color="#242424"/><stop offset=".831" stop-color="#3b3b3b"/><stop offset=".84" stop-color="#3e3e3e"/><stop offset=".848" stop-color="#3f3f3f"/><stop offset=".861" stop-color="#3b3b3b"/><stop offset=".9" stop-color="#272727"/><stop offset=".926" stop-color="#1d1d1d"/><stop offset=".957" stop-color="#161616"/><stop offset="1" stop-color="#101010"/></linearGradient><linearGradient id="d22"><stop offset="0" stop-color="#1f1f1f"/><stop offset=".026" stop-color="#282828"/><stop offset=".052" stop-color="#353535"/><stop offset=".074" stop-color="#444444"/><stop offset=".091" stop-color="#555555"/><stop offset=".104" stop-color="#676767"/><stop offset=".117" stop-color="#7d7d7d"/><stop offset=".13" stop-color="#989898"/><stop offset=".156" stop-color="#d4d4d4"/><stop offset=".165" stop-color="#e1e1e1"/><stop offset=".169" stop-color="#e4e4e4"/><stop offset=".173" stop-color="#e5e5e5"/><stop offset=".177" stop-color="#e2e2e2"/><stop offset=".186" stop-color="#d6d6d6"/><stop offset=".195" stop-color="#c2c2c2"/><stop offset=".212" stop-color="#919191"/><stop offset=".225" stop-color="#707070"/><stop offset=".234" stop-color="#5f5f5f"/><stop offset=".247" stop-color="#4c4c4c"/><stop offset=".264" stop-color="#3a3a3a"/><stop offset=".281" stop-color="#2e2e2e"/><stop offset=".303" stop-color="#242424"/><stop offset=".329" stop-color="#1c1c1c"/><stop offset=".385" stop-color="#121212"/><stop offset=".45" stop-color="#0d0d0d"/><stop offset=".584" stop-color="#090909"/><stop offset=".675" stop-color="#0c0c0c"/><stop offset=".723" stop-color="#101010"/><stop offset=".758" stop-color="#171717"/><stop offset=".784" stop-color="#222222"/><stop offset=".823" stop-color="#393939"/><stop offset=".835" stop-color="#3c3c3c"/><stop offset=".853" stop-color="#383838"/><stop offset=".892" stop-color="#252525"/><stop offset=".918" stop-color="#1c1c1c"/><stop offset=".952" stop-color="#151515"/><stop offset="1" stop-color="#0f0f0f"/></linearGradient><linearGradient id="d23"><stop offset="0" stop-color="#1d1d1d"/><stop offset=".026" stop-color="#252525"/><stop offset=".056" stop-color="#313131"/><stop offset=".078" stop-color="#3f3f3f"/><stop offset=".1" stop-color="#525252"/><stop offset=".113" stop-color="#626262"/><stop offset=".126" stop-color="#777777"/><stop offset=".139" stop-color="#919191"/><stop offset=".16" stop-color="#c3c3c3"/><stop offset=".169" stop-color="#d6d6d6"/><stop offset=".177" stop-color="#e2e2e2"/><stop offset=".182" stop-color="#e4e4e4"/><stop offset=".186" stop-color="#e4e4e4"/><stop offset=".19" stop-color="#e1e1e1"/><stop offset=".199" stop-color="#d3d3d3"/><stop offset=".208" stop-color="#bebebe"/><stop offset=".225" stop-color="#8c8c8c"/><stop offset=".234" stop-color="#767676"/><stop offset=".242" stop-color="#656565"/><stop offset=".255" stop-color="#505050"/><stop offset=".273" stop-color="#3d3d3d"/><stop offset=".29" stop-color="#303030"/><stop offset=".312" stop-color="#262626"/><stop offset=".338" stop-color="#1d1d1d"/><stop offset=".39" stop-color="#131313"/><stop offset=".45" stop-color="#0d0d0d"/><stop offset=".576" stop-color="#0a0a0a"/><stop offset=".658" stop-color="#0b0b0b"/><stop offset=".71" stop-color="#101010"/><stop offset=".745" stop-color="#161616"/><stop offset=".771" stop-color="#202020"/><stop offset=".81" stop-color="#363636"/><stop offset=".827" stop-color="#393939"/><stop offset=".84" stop-color="#363636"/><stop offset=".879" stop-color="#252525"/><stop offset=".909" stop-color="#1b1b1b"/><stop offset=".948" stop-color="#141414"/><stop offset="1" stop-color="#0f0f0f"/></linearGradient><linearGradient id="d24"><stop offset="0" stop-color="#1b1b1b"/><stop offset=".035" stop-color="#242424"/><stop offset=".065" stop-color="#303030"/><stop offset=".087" stop-color="#3d3d3d"/><stop offset=".108" stop-color="#4f4f4f"/><stop offset=".126" stop-color="#646464"/><stop offset=".139" stop-color="#787878"/><stop offset=".152" stop-color="#929292"/><stop offset=".173" stop-color="#c5c5c5"/><stop offset=".182" stop-color="#d7d7d7"/><stop offset=".19" stop-color="#e3e3e3"/><stop offset=".195" stop-color="#e5e5e5"/><stop offset=".199" stop-color="#e4e4e4"/><stop offset=".203" stop-color="#e0e0e0"/><stop offset=".208" stop-color="#d9d9d9"/><stop offset=".216" stop-color="#c5c5c5"/><stop offset=".234" stop-color="#949494"/><stop offset=".242" stop-color="#7e7e7e"/><stop offset=".255" stop-color="#636363"/><stop offset=".268" stop-color="#505050"/><stop offset=".286" stop-color="#3d3d3d"/><stop offset=".303" stop-color="#313131"/><stop offset=".329" stop-color="#242424"/><stop offset=".355" stop-color="#1c1c1c"/><stop offset=".398" stop-color="#131313"/><stop offset=".463" stop-color="#0d0d0d"/><stop offset=".58" stop-color="#090909"/><stop offset=".654" stop-color="#0b0b0b"/><stop offset=".701" stop-color="#101010"/><stop offset=".732" stop-color="#151515"/><stop offset=".758" stop-color="#1e1e1e"/><stop offset=".797" stop-color="#323232"/><stop offset=".814" stop-color="#363636"/><stop offset=".827" stop-color="#343434"/><stop offset=".87" stop-color="#222222"/><stop offset=".905" stop-color="#191919"/><stop offset=".944" stop-color="#131313"/><stop offset="1" stop-color="#0e0e0e"/></linearGradient><linearGradient id="d25"><stop offset="0" stop-color="#1a1a1a"/><stop offset=".035" stop-color="#222222"/><stop offset=".069" stop-color="#2d2d2d"/><stop offset=".095" stop-color="#3a3a3a"/><stop offset=".117" stop-color="#4b4b4b"/><stop offset=".134" stop-color="#5e5e5e"/><stop offset=".147" stop-color="#717171"/><stop offset=".165" stop-color="#929292"/><stop offset=".186" stop-color="#c6c6c6"/><stop offset=".195" stop-color="#d8d8d8"/><stop offset=".203" stop-color="#e3e3e3"/><stop offset=".208" stop-color="#e4e4e4"/><stop offset=".212" stop-color="#e2e2e2"/><stop offset=".216" stop-color="#dddddd"/><stop offset=".221" stop-color="#d6d6d6"/><stop offset=".229" stop-color="#c1c1c1"/><stop offset=".247" stop-color="#919191"/><stop offset=".255" stop-color="#7d7d7d"/><stop offset=".268" stop-color="#636363"/><stop offset=".281" stop-color="#505050"/><stop offset=".299" stop-color="#3e3e3e"/><stop offset=".32" stop-color="#2f2f2f"/><stop offset=".342" stop-color="#242424"/><stop offset=".372" stop-color="#1a1a1a"/><stop offset=".411" stop-color="#131313"/><stop offset=".468" stop-color="#0d0d0d"/><stop offset=".571" stop-color="#0a0a0a"/><stop offset=".636" stop-color="#0a0a0a"/><stop offset=".684" stop-color="#0e0e0e"/><stop offset=".719" stop-color="#151515"/><stop offset=".745" stop-color="#1d1d1d"/><stop offset=".784" stop-color="#2f2f2f"/><stop offset=".801" stop-color="#333333"/><stop offset=".818" stop-color="#313131"/><stop offset=".861" stop-color="#202020"/><stop offset=".896" stop-color="#181818"/><stop offset=".939" stop-color="#121212"/><stop offset="1" stop-color="#0e0e0e"/></linearGradient><linearGradient id="d26"><stop offset="0" stop-color="#181818"/><stop offset=".043" stop-color="#212121"/><stop offset=".078" stop-color="#2c2c2c"/><stop offset=".108" stop-color="#3b3b3b"/><stop offset=".13" stop-color="#4c4c4c"/><stop offset=".147" stop-color="#5e5e5e"/><stop offset=".16" stop-color="#717171"/><stop offset=".169" stop-color="#808080"/><stop offset=".177" stop-color="#939393"/><stop offset=".203" stop-color="#d1d1d1"/><stop offset=".212" stop-color="#dfdfdf"/><stop offset=".216" stop-color="#e2e2e2"/><stop offset=".221" stop-color="#e3e3e3"/><stop offset=".225" stop-color="#e0e0e0"/><stop offset=".234" stop-color="#d3d3d3"/><stop offset=".268" stop-color="#7d7d7d"/><stop offset=".281" stop-color="#646464"/><stop offset=".294" stop-color="#515151"/><stop offset=".312" stop-color="#3f3f3f"/><stop offset=".333" stop-color="#2f2f2f"/><stop offset=".359" stop-color="#232323"/><stop offset=".385" stop-color="#1a1a1a"/><stop offset=".424" stop-color="#121212"/><stop offset=".476" stop-color="#0e0e0e"/><stop offset=".567" stop-color="#0a0a0a"/><stop offset=".628" stop-color="#0a0a0a"/><stop offset=".671" stop-color="#0e0e0e"/><stop offset=".706" stop-color="#141414"/><stop offset=".732" stop-color="#1c1c1c"/><stop offset=".775" stop-color="#2e2e2e"/><stop offset=".792" stop-color="#303030"/><stop offset=".81" stop-color="#2d2d2d"/><stop offset=".857" stop-color="#1d1d1d"/><stop offset=".887" stop-color="#171717"/><stop offset=".935" stop-color="#111111"/><stop offset="1" stop-color="#0d0d0d"/></linearGradient><linearGradient id="d27"><stop offset="0" stop-color="#171717"/><stop offset=".048" stop-color="#202020"/><stop offset=".087" stop-color="#2b2b2b"/><stop offset=".117" stop-color="#383838"/><stop offset=".143" stop-color="#4b4b4b"/><stop offset=".16" stop-color="#5d5d5d"/><stop offset=".173" stop-color="#707070"/><stop offset=".182" stop-color="#808080"/><stop offset=".19" stop-color="#939393"/><stop offset=".216" stop-color="#d1d1d1"/><stop offset=".225" stop-color="#dedede"/><stop offset=".229" stop-color="#e1e1e1"/><stop offset=".234" stop-color="#e1e1e1"/><stop offset=".238" stop-color="#dedede"/><stop offset=".247" stop-color="#d1d1d1"/><stop offset=".255" stop-color="#bebebe"/><stop offset=".277" stop-color="#888888"/><stop offset=".286" stop-color="#757575"/><stop offset=".299" stop-color="#5f5f5f"/><stop offset=".312" stop-color="#4e4e4e"/><stop offset=".329" stop-color="#3c3c3c"/><stop offset=".346" stop-color="#303030"/><stop offset=".372" stop-color="#222222"/><stop offset=".394" stop-color="#1b1b1b"/><stop offset=".433" stop-color="#131313"/><stop offset=".481" stop-color="#0e0e0e"/><stop offset=".567" stop-color="#0a0a0a"/><stop offset=".623" stop-color="#0a0a0a"/><stop offset=".662" stop-color="#0d0d0d"/><stop offset=".693" stop-color="#131313"/><stop offset=".719" stop-color="#1a1a1a"/><stop offset=".762" stop-color="#2c2c2c"/><stop offset=".779" stop-color="#2e2e2e"/><stop offset=".797" stop-color="#2b2b2b"/><stop offset=".844" stop-color="#1d1d1d"/><stop offset=".874" stop-color="#171717"/><stop offset=".926" stop-color="#111111"/><stop offset="1" stop-color="#0d0d0d"/></linearGradient><linearGradient id="d28"><stop offset="0" stop-color="#161616"/><stop offset=".056" stop-color="#1f1f1f"/><stop offset=".095" stop-color="#292929"/><stop offset=".126" stop-color="#363636"/><stop offset=".152" stop-color="#474747"/><stop offset=".169" stop-color="#575757"/><stop offset=".182" stop-color="#696969"/><stop offset=".19" stop-color="#777777"/><stop offset=".199" stop-color="#898989"/><stop offset=".221" stop-color="#bdbdbd"/><stop offset=".229" stop-color="#d0d0d0"/><stop offset=".238" stop-color="#dddddd"/><stop offset=".242" stop-color="#dfdfdf"/><stop offset=".247" stop-color="#dfdfdf"/><stop offset=".251" stop-color="#dddddd"/><stop offset=".26" stop-color="#d1d1d1"/><stop offset=".268" stop-color="#bfbfbf"/><stop offset=".29" stop-color="#8b8b8b"/><stop offset=".299" stop-color="#797979"/><stop offset=".312" stop-color="#626262"/><stop offset=".325" stop-color="#505050"/><stop offset=".342" stop-color="#3e3e3e"/><stop offset=".364" stop-color="#2e2e2e"/><stop offset=".385" stop-color="#222222"/><stop offset=".407" stop-color="#1b1b1b"/><stop offset=".442" stop-color="#141414"/><stop offset=".494" stop-color="#0e0e0e"/><stop offset=".571" stop-color="#0a0a0a"/><stop offset=".623" stop-color="#0a0a0a"/><stop offset=".658" stop-color="#0d0d0d"/><stop offset=".684" stop-color="#121212"/><stop offset=".706" stop-color="#191919"/><stop offset=".749" stop-color="#292929"/><stop offset=".766" stop-color="#2c2c2c"/><stop offset=".784" stop-color="#292929"/><stop offset=".835" stop-color="#1b1b1b"/><stop offset=".866" stop-color="#161616"/><stop offset=".922" stop-color="#101010"/><stop offset="1" stop-color="#0d0d0d"/></linearGradient><linearGradient id="d29"><stop offset="0" stop-color="#151515"/><stop offset=".056" stop-color="#1d1d1d"/><stop offset=".1" stop-color="#272727"/><stop offset=".134" stop-color="#333333"/><stop offset=".165" stop-color="#454545"/><stop offset=".182" stop-color="#565656"/><stop offset=".195" stop-color="#686868"/><stop offset=".203" stop-color="#777777"/><stop offset=".212" stop-color="#888888"/><stop offset=".234" stop-color="#bcbcbc"/><stop offset=".242" stop-color="#cecece"/><stop offset=".251" stop-color="#dadada"/><stop offset=".26" stop-color="#dedede"/><stop offset=".264" stop-color="#dcdcdc"/><stop offset=".273" stop-color="#d2d2d2"/><stop offset=".281" stop-color="#c1c1c1"/><stop offset=".303" stop-color="#909090"/><stop offset=".316" stop-color="#757575"/><stop offset=".329" stop-color="#5f5f5f"/><stop offset=".342" stop-color="#4d4d4d"/><stop offset=".359" stop-color="#3c3c3c"/><stop offset=".377" stop-color="#2e2e2e"/><stop offset=".394" stop-color="#242424"/><stop offset=".42" stop-color="#1b1b1b"/><stop offset=".455" stop-color="#141414"/><stop offset=".498" stop-color="#0f0f0f"/><stop offset=".571" stop-color="#0a0a0a"/><stop offset=".619" stop-color="#090909"/><stop offset=".667" stop-color="#101010"/><stop offset=".693" stop-color="#171717"/><stop offset=".736" stop-color="#272727"/><stop offset=".758" stop-color="#292929"/><stop offset=".818" stop-color="#1b1b1b"/><stop offset=".857" stop-color="#151515"/><stop offset=".918" stop-color="#101010"/><stop offset="1" stop-color="#0d0d0d"/></linearGradient><linearGradient id="d30"><stop offset="0" stop-color="#141414"/><stop offset=".061" stop-color="#1c1c1c"/><stop offset=".108" stop-color="#252525"/><stop offset=".147" stop-color="#333333"/><stop offset=".173" stop-color="#414141"/><stop offset=".19" stop-color="#505050"/><stop offset=".208" stop-color="#676767"/><stop offset=".225" stop-color="#878787"/><stop offset=".247" stop-color="#b9b9b9"/><stop offset=".255" stop-color="#cacaca"/><stop offset=".264" stop-color="#d7d7d7"/><stop offset=".273" stop-color="#dcdcdc"/><stop offset=".281" stop-color="#d8d8d8"/><stop offset=".29" stop-color="#cdcdcd"/><stop offset=".299" stop-color="#bcbcbc"/><stop offset=".32" stop-color="#8b8b8b"/><stop offset=".333" stop-color="#717171"/><stop offset=".346" stop-color="#5c5c5c"/><stop offset=".359" stop-color="#4b4b4b"/><stop offset=".372" stop-color="#3d3d3d"/><stop offset=".39" stop-color="#2f2f2f"/><stop offset=".411" stop-color="#232323"/><stop offset=".433" stop-color="#1c1c1c"/><stop offset=".463" stop-color="#151515"/><stop offset=".502" stop-color="#0f0f0f"/><stop offset=".571" stop-color="#0a0a0a"/><stop offset=".615" stop-color="#090909"/><stop offset=".658" stop-color="#0f0f0f"/><stop offset=".723" stop-color="#242424"/><stop offset=".745" stop-color="#262626"/><stop offset=".762" stop-color="#242424"/><stop offset=".81" stop-color="#191919"/><stop offset=".848" stop-color="#141414"/><stop offset=".913" stop-color="#0f0f0f"/><stop offset="1" stop-color="#0c0c0c"/></linearGradient><linearGradient id="d31"><stop offset="0" stop-color="#131313"/><stop offset=".065" stop-color="#1b1b1b"/><stop offset=".113" stop-color="#232323"/><stop offset=".156" stop-color="#303030"/><stop offset=".182" stop-color="#3d3d3d"/><stop offset=".199" stop-color="#4b4b4b"/><stop offset=".216" stop-color="#5f5f5f"/><stop offset=".234" stop-color="#7c7c7c"/><stop offset=".264" stop-color="#bdbdbd"/><stop offset=".273" stop-color="#cdcdcd"/><stop offset=".281" stop-color="#d7d7d7"/><stop offset=".29" stop-color="#dadada"/><stop offset=".299" stop-color="#d4d4d4"/><stop offset=".307" stop-color="#c8c8c8"/><stop offset=".346" stop-color="#777777"/><stop offset=".364" stop-color="#5a5a5a"/><stop offset=".377" stop-color="#494949"/><stop offset=".39" stop-color="#3b3b3b"/><stop offset=".407" stop-color="#2e2e2e"/><stop offset=".429" stop-color="#232323"/><stop offset=".45" stop-color="#1c1c1c"/><stop offset=".489" stop-color="#131313"/><stop offset=".532" stop-color="#0d0d0d"/><stop offset=".58" stop-color="#0a0a0a"/><stop offset=".615" stop-color="#090909"/><stop offset=".654" stop-color="#0f0f0f"/><stop offset=".714" stop-color="#222222"/><stop offset=".736" stop-color="#232323"/><stop offset=".801" stop-color="#181818"/><stop offset=".844" stop-color="#131313"/><stop offset="1" stop-color="#0c0c0c"/></linearGradient><linearGradient id="d32"><stop offset="0" stop-color="#131313"/><stop offset=".074" stop-color="#1a1a1a"/><stop offset=".121" stop-color="#222222"/><stop offset=".165" stop-color="#2d2d2d"/><stop offset=".195" stop-color="#3c3c3c"/><stop offset=".216" stop-color="#4e4e4e"/><stop offset=".234" stop-color="#646464"/><stop offset=".251" stop-color="#808080"/><stop offset=".277" stop-color="#b6b6b6"/><stop offset=".286" stop-color="#c6c6c6"/><stop offset=".294" stop-color="#d1d1d1"/><stop offset=".303" stop-color="#d6d6d6"/><stop offset=".312" stop-color="#d3d3d3"/><stop offset=".32" stop-color="#c9c9c9"/><stop offset=".329" stop-color="#bbbbbb"/><stop offset=".368" stop-color="#6e6e6e"/><stop offset=".381" stop-color="#585858"/><stop offset=".394" stop-color="#474747"/><stop offset=".411" stop-color="#373737"/><stop offset=".429" stop-color="#2c2c2c"/><stop offset=".446" stop-color="#232323"/><stop offset=".472" stop-color="#1b1b1b"/><stop offset=".528" stop-color="#0f0f0f"/><stop offset=".584" stop-color="#090909"/><stop offset=".628" stop-color="#0b0b0b"/><stop offset=".697" stop-color="#1d1d1d"/><stop offset=".723" stop-color="#202020"/><stop offset=".835" stop-color="#121212"/><stop offset="1" stop-color="#0c0c0c"/></linearGradient><linearGradient id="d33"><stop offset="0" stop-color="#121212"/><stop offset=".082" stop-color="#1a1a1a"/><stop offset=".134" stop-color="#212121"/><stop offset=".173" stop-color="#2b2b2b"/><stop offset=".203" stop-color="#383838"/><stop offset=".225" stop-color="#484848"/><stop offset=".242" stop-color="#5b5b5b"/><stop offset=".255" stop-color="#6d6d6d"/><stop offset=".264" stop-color="#7b7b7b"/><stop offset=".299" stop-color="#bcbcbc"/><stop offset=".312" stop-color="#cbcbcb"/><stop offset=".32" stop-color="#cecece"/><stop offset=".329" stop-color="#cbcbcb"/><stop offset=".342" stop-color="#bcbcbc"/><stop offset=".355" stop-color="#a6a6a6"/><stop offset=".385" stop-color="#6c6c6c"/><stop offset=".398" stop-color="#585858"/><stop offset=".411" stop-color="#494949"/><stop offset=".429" stop-color="#393939"/><stop offset=".446" stop-color="#2d2d2d"/><stop offset=".468" stop-color="#232323"/><stop offset=".494" stop-color="#1a1a1a"/><stop offset=".541" stop-color="#0f0f0f"/><stop offset=".584" stop-color="#090909"/><stop offset=".623" stop-color="#0a0a0a"/><stop offset=".684" stop-color="#1a1a1a"/><stop offset=".714" stop-color="#1d1d1d"/><stop offset=".827" stop-color="#111111"/><stop offset="1" stop-color="#0c0c0c"/></linearGradient><linearGradient id="d34"><stop offset="0" stop-color="#121212"/><stop offset=".091" stop-color="#191919"/><stop offset=".147" stop-color="#212121"/><stop offset=".182" stop-color="#282828"/><stop offset=".212" stop-color="#353535"/><stop offset=".234" stop-color="#434343"/><stop offset=".255" stop-color="#575757"/><stop offset=".273" stop-color="#6e6e6e"/><stop offset=".303" stop-color="#a0a0a0"/><stop offset=".316" stop-color="#b4b4b4"/><stop offset=".329" stop-color="#c0c0c0"/><stop offset=".338" stop-color="#c3c3c3"/><stop offset=".351" stop-color="#bebebe"/><stop offset=".359" stop-color="#b5b5b5"/><stop offset=".368" stop-color="#a8a8a8"/><stop offset=".39" stop-color="#818181"/><stop offset=".403" stop-color="#6c6c6c"/><stop offset=".42" stop-color="#555555"/><stop offset=".437" stop-color="#434343"/><stop offset=".459" stop-color="#323232"/><stop offset=".481" stop-color="#262626"/><stop offset=".498" stop-color="#1f1f1f"/><stop offset=".532" stop-color="#141414"/><stop offset=".571" stop-color="#0b0b0b"/><stop offset=".589" stop-color="#090909"/><stop offset=".623" stop-color="#0a0a0a"/><stop offset=".68" stop-color="#181818"/><stop offset=".706" stop-color="#1a1a1a"/><stop offset=".823" stop-color="#101010"/><stop offset="1" stop-color="#0c0c0c"/></linearGradient><linearGradient id="d35"><stop offset="0" stop-color="#111111"/><stop offset=".091" stop-color="#181818"/><stop offset=".152" stop-color="#1f1f1f"/><stop offset=".186" stop-color="#252525"/><stop offset=".216" stop-color="#2f2f2f"/><stop offset=".242" stop-color="#3e3e3e"/><stop offset=".264" stop-color="#4f4f4f"/><stop offset=".286" stop-color="#676767"/><stop offset=".32" stop-color="#979797"/><stop offset=".333" stop-color="#a6a6a6"/><stop offset=".346" stop-color="#b1b1b1"/><stop offset=".359" stop-color="#b4b4b4"/><stop offset=".368" stop-color="#b1b1b1"/><stop offset=".377" stop-color="#a9a9a9"/><stop offset=".385" stop-color="#9f9f9f"/><stop offset=".433" stop-color="#5d5d5d"/><stop offset=".45" stop-color="#4b4b4b"/><stop offset=".468" stop-color="#3c3c3c"/><stop offset=".502" stop-color="#262626"/><stop offset=".541" stop-color="#161616"/><stop offset=".576" stop-color="#0b0b0b"/><stop offset=".589" stop-color="#090909"/><stop offset=".619" stop-color="#090909"/><stop offset=".671" stop-color="#141414"/><stop offset=".701" stop-color="#171717"/><stop offset=".818" stop-color="#101010"/><stop offset="1" stop-color="#0b0b0b"/></linearGradient><linearGradient id="d36"><stop offset="0" stop-color="#111111"/><stop offset=".095" stop-color="#171717"/><stop offset=".16" stop-color="#1d1d1d"/><stop offset=".195" stop-color="#232323"/><stop offset=".225" stop-color="#2c2c2c"/><stop offset=".251" stop-color="#393939"/><stop offset=".268" stop-color="#444444"/><stop offset=".29" stop-color="#565656"/><stop offset=".333" stop-color="#848484"/><stop offset=".351" stop-color="#959595"/><stop offset=".364" stop-color="#9d9d9d"/><stop offset=".377" stop-color="#9f9f9f"/><stop offset=".39" stop-color="#9b9b9b"/><stop offset=".403" stop-color="#929292"/><stop offset=".416" stop-color="#858585"/><stop offset=".459" stop-color="#565656"/><stop offset=".494" stop-color="#383838"/><stop offset=".541" stop-color="#1b1b1b"/><stop offset=".58" stop-color="#0a0a0a"/><stop offset=".619" stop-color="#090909"/><stop offset=".667" stop-color="#121212"/><stop offset=".701" stop-color="#141414"/><stop offset=".814" stop-color="#0f0f0f"/><stop offset="1" stop-color="#0b0b0b"/></linearGradient><linearGradient id="d37"><stop offset="0" stop-color="#101010"/><stop offset=".16" stop-color="#1b1b1b"/><stop offset=".195" stop-color="#202020"/><stop offset=".225" stop-color="#272727"/><stop offset=".251" stop-color="#303030"/><stop offset=".273" stop-color="#3b3b3b"/><stop offset=".299" stop-color="#4c4c4c"/><stop offset=".359" stop-color="#7b7b7b"/><stop offset=".377" stop-color="#838383"/><stop offset=".39" stop-color="#868686"/><stop offset=".407" stop-color="#838383"/><stop offset=".424" stop-color="#7b7b7b"/><stop offset=".537" stop-color="#212121"/><stop offset=".563" stop-color="#111111"/><stop offset=".58" stop-color="#0a0a0a"/><stop offset=".619" stop-color="#090909"/><stop offset=".662" stop-color="#101010"/><stop offset=".697" stop-color="#121212"/><stop offset=".814" stop-color="#0e0e0e"/><stop offset="1" stop-color="#0b0b0b"/></linearGradient><linearGradient id="d38"><stop offset="0" stop-color="#101010"/><stop offset=".16" stop-color="#191919"/><stop offset=".225" stop-color="#232323"/><stop offset=".255" stop-color="#2b2b2b"/><stop offset=".277" stop-color="#333333"/><stop offset=".368" stop-color="#626262"/><stop offset=".385" stop-color="#686868"/><stop offset=".398" stop-color="#6a6a6a"/><stop offset=".424" stop-color="#666666"/><stop offset=".45" stop-color="#5b5b5b"/><stop offset=".498" stop-color="#3e3e3e"/><stop offset=".541" stop-color="#1b1b1b"/><stop offset=".563" stop-color="#101010"/><stop offset=".58" stop-color="#0a0a0a"/><stop offset=".615" stop-color="#090909"/><stop offset=".667" stop-color="#0f0f0f"/><stop offset=".701" stop-color="#101010"/><stop offset="1" stop-color="#0b0b0b"/></linearGradient><linearGradient id="d39"><stop offset="0" stop-color="#0f0f0f"/><stop offset=".16" stop-color="#181818"/><stop offset=".216" stop-color="#1e1e1e"/><stop offset=".273" stop-color="#2a2a2a"/><stop offset=".364" stop-color="#4b4b4b"/><stop offset=".398" stop-color="#505050"/><stop offset=".429" stop-color="#4d4d4d"/><stop offset=".463" stop-color="#424242"/><stop offset=".498" stop-color="#323232"/><stop offset=".541" stop-color="#161616"/><stop offset=".563" stop-color="#0e0e0e"/><stop offset=".58" stop-color="#090909"/><stop offset=".615" stop-color="#090909"/><stop offset=".701" stop-color="#0f0f0f"/><stop offset="1" stop-color="#0b0b0b"/></linearGradient><linearGradient id="d40"><stop offset="0" stop-color="#0f0f0f"/><stop offset=".156" stop-color="#161616"/><stop offset=".208" stop-color="#1a1a1a"/><stop offset=".264" stop-color="#232323"/><stop offset=".355" stop-color="#3a3a3a"/><stop offset=".394" stop-color="#3d3d3d"/><stop offset=".424" stop-color="#3b3b3b"/><stop offset=".459" stop-color="#333333"/><stop offset=".498" stop-color="#262626"/><stop offset=".541" stop-color="#121212"/><stop offset=".58" stop-color="#090909"/><stop offset=".615" stop-color="#090909"/><stop offset=".706" stop-color="#0d0d0d"/><stop offset="1" stop-color="#0b0b0b"/></linearGradient><linearGradient id="d41"><stop offset="0" stop-color="#0f0f0f"/><stop offset=".203" stop-color="#181818"/><stop offset=".26" stop-color="#1f1f1f"/><stop offset=".346" stop-color="#2e2e2e"/><stop offset=".385" stop-color="#313131"/><stop offset=".411" stop-color="#2f2f2f"/><stop offset=".446" stop-color="#2a2a2a"/><stop offset=".498" stop-color="#1d1d1d"/><stop offset=".541" stop-color="#0f0f0f"/><stop offset=".58" stop-color="#090909"/><stop offset=".619" stop-color="#090909"/><stop offset=".71" stop-color="#0d0d0d"/><stop offset="1" stop-color="#0b0b0b"/></linearGradient><linearGradient id="d42"><stop offset="0" stop-color="#0e0e0e"/><stop offset=".199" stop-color="#161616"/><stop offset=".255" stop-color="#1b1b1b"/><stop offset=".338" stop-color="#262626"/><stop offset=".377" stop-color="#282828"/><stop offset=".442" stop-color="#222222"/><stop offset=".541" stop-color="#0d0d0d"/><stop offset=".58" stop-color="#090909"/><stop offset=".714" stop-color="#0c0c0c"/><stop offset="1" stop-color="#0b0b0b"/></linearGradient><linearGradient id="d43"><stop offset="0" stop-color="#0e0e0e"/><stop offset=".195" stop-color="#151515"/><stop offset=".329" stop-color="#202020"/><stop offset=".368" stop-color="#222222"/><stop offset=".424" stop-color="#1e1e1e"/><stop offset=".537" stop-color="#0d0d0d"/><stop offset=".58" stop-color="#090909"/><stop offset=".719" stop-color="#0b0b0b"/><stop offset="1" stop-color="#0b0b0b"/></linearGradient><linearGradient id="d44"><stop offset="0" stop-color="#0d0d0d"/><stop offset=".19" stop-color="#131313"/><stop offset=".359" stop-color="#1e1e1e"/><stop offset=".411" stop-color="#1b1b1b"/><stop offset=".537" stop-color="#0c0c0c"/><stop offset=".58" stop-color="#090909"/><stop offset="1" stop-color="#0b0b0b"/></linearGradient><linearGradient id="d45"><stop offset="0" stop-color="#0d0d0d"/><stop offset=".19" stop-color="#121212"/><stop offset=".355" stop-color="#1a1a1a"/><stop offset=".403" stop-color="#181818"/><stop offset=".537" stop-color="#0b0b0b"/><stop offset=".584" stop-color="#080808"/><stop offset="1" stop-color="#0b0b0b"/></linearGradient><linearGradient id="d46"><stop offset="0" stop-color="#0d0d0d"/><stop offset=".351" stop-color="#181818"/><stop offset=".584" stop-color="#080808"/><stop offset="1" stop-color="#0b0b0b"/></linearGradient><linearGradient id="d47"><stop offset="0" stop-color="#0c0c0c"/><stop offset=".346" stop-color="#161616"/><stop offset=".584" stop-color="#080808"/><stop offset="1" stop-color="#0a0a0a"/></linearGradient><linearGradient id="d48"><stop offset="0" stop-color="#0c0c0c"/><stop offset=".338" stop-color="#141414"/><stop offset=".589" stop-color="#080808"/><stop offset="1" stop-color="#0a0a0a"/></linearGradient><linearGradient id="d49"><stop offset="0" stop-color="#0b0b0b"/><stop offset=".333" stop-color="#131313"/><stop offset=".615" stop-color="#080808"/><stop offset="1" stop-color="#0a0a0a"/></linearGradient><linearGradient id="d50"><stop offset="0" stop-color="#0b0b0b"/><stop offset=".329" stop-color="#121212"/><stop offset=".615" stop-color="#080808"/><stop offset="1" stop-color="#0a0a0a"/></linearGradient><linearGradient id="d51"><stop offset="0" stop-color="#0a0a0a"/><stop offset=".325" stop-color="#111111"/><stop offset=".615" stop-color="#080808"/><stop offset="1" stop-color="#0a0a0a"/></linearGradient><linearGradient id="d52"><stop offset="0" stop-color="#0a0a0a"/><stop offset=".32" stop-color="#101010"/><stop offset=".615" stop-color="#080808"/><stop offset="1" stop-color="#0a0a0a"/></linearGradient><linearGradient id="d53"><stop offset="0" stop-color="#0a0a0a"/><stop offset=".316" stop-color="#101010"/><stop offset=".619" stop-color="#080808"/><stop offset="1" stop-color="#0a0a0a"/></linearGradient><linearGradient id="d54"><stop offset="0" stop-color="#090909"/><stop offset=".312" stop-color="#0f0f0f"/><stop offset=".619" stop-color="#080808"/><stop offset="1" stop-color="#0a0a0a"/></linearGradient><linearGradient id="d55"><stop offset="0" stop-color="#090909"/><stop offset=".139" stop-color="#0d0d0d"/><stop offset=".307" stop-color="#0f0f0f"/><stop offset=".619" stop-color="#080808"/><stop offset="1" stop-color="#0a0a0a"/></linearGradient><linearGradient id="d56"><stop offset="0" stop-color="#090909"/><stop offset=".139" stop-color="#0d0d0d"/><stop offset=".307" stop-color="#0e0e0e"/><stop offset=".623" stop-color="#080808"/><stop offset="1" stop-color="#0a0a0a"/></linearGradient><linearGradient id="d57"><stop offset="0" stop-color="#090909"/><stop offset=".139" stop-color="#0d0d0d"/><stop offset=".303" stop-color="#0e0e0e"/><stop offset=".623" stop-color="#080808"/><stop offset="1" stop-color="#0a0a0a"/></linearGradient><linearGradient id="d58"><stop offset="0" stop-color="#090909"/><stop offset=".299" stop-color="#0e0e0e"/><stop offset=".623" stop-color="#080808"/><stop offset="1" stop-color="#0a0a0a"/></linearGradient><linearGradient id="d59"><stop offset="0" stop-color="#090909"/><stop offset=".299" stop-color="#0d0d0d"/><stop offset=".623" stop-color="#080808"/><stop offset="1" stop-color="#0a0a0a"/></linearGradient><linearGradient id="d60"><stop offset="0" stop-color="#090909"/><stop offset=".294" stop-color="#0d0d0d"/><stop offset=".623" stop-color="#080808"/><stop offset="1" stop-color="#0b0b0b"/></linearGradient><linearGradient id="d61"><stop offset="0" stop-color="#0a0a0a"/><stop offset=".29" stop-color="#0d0d0d"/><stop offset=".623" stop-color="#080808"/><stop offset="1" stop-color="#0b0b0b"/></linearGradient><linearGradient id="d62"><stop offset="0" stop-color="#0a0a0a"/><stop offset=".286" stop-color="#0d0d0d"/><stop offset=".619" stop-color="#090909"/><stop offset="1" stop-color="#0b0b0b"/></linearGradient><linearGradient id="d63"><stop offset="0" stop-color="#0a0a0a"/><stop offset=".303" stop-color="#0c0c0c"/><stop offset=".623" stop-color="#090909"/><stop offset="1" stop-color="#0c0c0c"/></linearGradient><filter id="df" filterUnits="userSpaceOnUse" x="102.6" y="641" width="461.5" height="460.5" color-interpolation-filters="sRGB"><feGaussianBlur stdDeviation="0 2.2"/><feComponentTransfer><feFuncR type="table" tableValues="0.279 0.281 0.282 0.283 0.284 0.285 0.285 0.285 0.286 0.285 0.285 0.285 0.284 0.283 0.282 0.28 0.279 0.277 0.275 0.273 0.271 0.268 0.265 0.262 0.259 0.256 0.252 0.249 0.245 0.241 0.237 0.234 0.23 0.226 0.222 0.218 0.214 0.211 0.207 0.203 0.199 0.196 0.192 0.189 0.186 0.182 0.179 0.176 0.173 0.17 0.167 0.164 0.161 0.158 0.155 0.152 0.149 0.146 0.143 0.141 0.138 0.135 0.132 0.13 0.128 0.125 0.123 0.122 0.121 0.12 0.119 0.12 0.121 0.122 0.125 0.128 0.132 0.137 0.143 0.15 0.158 0.166 0.176 0.186 0.197 0.208 0.22 0.233 0.246 0.26 0.274 0.289 0.304 0.32 0.336 0.352 0.369 0.386 0.404 0.422 0.44 0.459 0.478 0.497 0.516 0.536 0.555 0.576 0.596 0.616 0.637 0.658 0.678 0.699 0.72 0.741 0.762 0.783 0.804 0.825 0.846 0.866 0.886 0.906 0.926 0.946 0.965 0.984 0.993"/><feFuncG type="table" tableValues="0.12 0.116 0.115 0.115 0.117 0.118 0.12 0.123 0.126 0.13 0.134 0.139 0.145 0.151 0.159 0.167 0.176 0.185 0.195 0.205 0.214 0.224 0.233 0.242 0.252 0.261 0.27 0.279 0.288 0.296 0.305 0.314 0.322 0.331 0.339 0.347 0.356 0.364 0.372 0.38 0.388 0.395 0.403 0.411 0.419 0.426 0.434 0.441 0.449 0.456 0.464 0.471 0.479 0.486 0.493 0.501 0.508 0.515 0.523 0.53 0.537 0.545 0.552 0.56 0.567 0.574 0.582 0.589 0.596 0.604 0.611 0.618 0.626 0.633 0.64 0.648 0.655 0.662 0.669 0.677 0.684 0.691 0.698 0.705 0.712 0.719 0.726 0.732 0.739 0.745 0.752 0.758 0.765 0.771 0.777 0.783 0.789 0.795 0.8 0.806 0.811 0.816 0.821 0.826 0.831 0.836 0.84 0.845 0.849 0.853 0.857 0.86 0.864 0.867 0.87 0.873 0.876 0.879 0.882 0.885 0.887 0.89 0.892 0.895 0.897 0.9 0.902 0.905 0.906"/><feFuncB type="table" tableValues="0.359 0.368 0.376 0.385 0.393 0.401 0.409 0.417 0.425 0.433 0.441 0.448 0.456 0.463 0.47 0.477 0.483 0.49 0.496 0.502 0.507 0.512 0.517 0.521 0.525 0.528 0.532 0.535 0.537 0.54 0.542 0.544 0.546 0.547 0.549 0.55 0.551 0.552 0.553 0.554 0.555 0.555 0.556 0.556 0.557 0.557 0.557 0.558 0.558 0.558 0.558 0.558 0.558 0.558 0.558 0.558 0.557 0.557 0.556 0.556 0.555 0.554 0.553 0.552 0.551 0.549 0.547 0.546 0.544 0.541 0.539 0.536 0.533 0.53 0.527 0.523 0.52 0.516 0.511 0.507 0.502 0.497 0.491 0.485 0.479 0.473 0.466 0.459 0.452 0.444 0.437 0.428 0.42 0.411 0.402 0.393 0.383 0.373 0.363 0.352 0.341 0.33 0.318 0.306 0.294 0.282 0.269 0.256 0.243 0.23 0.217 0.203 0.19 0.176 0.163 0.15 0.137 0.125 0.115 0.106 0.1 0.096 0.095 0.098 0.104 0.113 0.124 0.137 0.144"/><feFuncA type="linear" slope="0" intercept="1"/></feComponentTransfer></filter><clipPath id="dc"><rect x="102.6" y="649" width="461.5" height="444.5"/></clipPath></defs>
<g clip-path="url(#dc)"><g filter="url(#df)"><rect x="102.6" y="640.7" width="461.5" height="15.55" fill="url(#d0)"/><rect x="102.6" y="655.65" width="461.5" height="7.55" fill="url(#d1)"/><rect x="102.6" y="662.59" width="461.5" height="7.55" fill="url(#d2)"/><rect x="102.6" y="669.54" width="461.5" height="7.55" fill="url(#d3)"/><rect x="102.6" y="676.48" width="461.5" height="7.55" fill="url(#d4)"/><rect x="102.6" y="683.43" width="461.5" height="7.55" fill="url(#d5)"/><rect x="102.6" y="690.37" width="461.5" height="7.55" fill="url(#d6)"/><rect x="102.6" y="697.32" width="461.5" height="7.55" fill="url(#d7)"/><rect x="102.6" y="704.26" width="461.5" height="7.55" fill="url(#d8)"/><rect x="102.6" y="711.21" width="461.5" height="7.55" fill="url(#d9)"/><rect x="102.6" y="718.15" width="461.5" height="7.55" fill="url(#d10)"/><rect x="102.6" y="725.1" width="461.5" height="7.55" fill="url(#d11)"/><rect x="102.6" y="732.04" width="461.5" height="7.55" fill="url(#d12)"/><rect x="102.6" y="738.99" width="461.5" height="7.55" fill="url(#d13)"/><rect x="102.6" y="745.93" width="461.5" height="7.55" fill="url(#d14)"/><rect x="102.6" y="752.88" width="461.5" height="7.55" fill="url(#d15)"/><rect x="102.6" y="759.83" width="461.5" height="7.55" fill="url(#d16)"/><rect x="102.6" y="766.77" width="461.5" height="7.55" fill="url(#d17)"/><rect x="102.6" y="773.72" width="461.5" height="7.55" fill="url(#d18)"/><rect x="102.6" y="780.66" width="461.5" height="7.55" fill="url(#d19)"/><rect x="102.6" y="787.61" width="461.5" height="7.55" fill="url(#d20)"/><rect x="102.6" y="794.55" width="461.5" height="7.55" fill="url(#d21)"/><rect x="102.6" y="801.5" width="461.5" height="7.55" fill="url(#d22)"/><rect x="102.6" y="808.44" width="461.5" height="7.55" fill="url(#d23)"/><rect x="102.6" y="815.39" width="461.5" height="7.55" fill="url(#d24)"/><rect x="102.6" y="822.33" width="461.5" height="7.55" fill="url(#d25)"/><rect x="102.6" y="829.28" width="461.5" height="7.55" fill="url(#d26)"/><rect x="102.6" y="836.22" width="461.5" height="7.55" fill="url(#d27)"/><rect x="102.6" y="843.17" width="461.5" height="7.55" fill="url(#d28)"/><rect x="102.6" y="850.11" width="461.5" height="7.55" fill="url(#d29)"/><rect x="102.6" y="857.06" width="461.5" height="7.55" fill="url(#d30)"/><rect x="102.6" y="864" width="461.5" height="7.55" fill="url(#d31)"/><rect x="102.6" y="870.95" width="461.5" height="7.55" fill="url(#d32)"/><rect x="102.6" y="877.9" width="461.5" height="7.55" fill="url(#d33)"/><rect x="102.6" y="884.84" width="461.5" height="7.55" fill="url(#d34)"/><rect x="102.6" y="891.79" width="461.5" height="7.55" fill="url(#d35)"/><rect x="102.6" y="898.73" width="461.5" height="7.55" fill="url(#d36)"/><rect x="102.6" y="905.68" width="461.5" height="7.55" fill="url(#d37)"/><rect x="102.6" y="912.62" width="461.5" height="7.55" fill="url(#d38)"/><rect x="102.6" y="919.57" width="461.5" height="7.55" fill="url(#d39)"/><rect x="102.6" y="926.51" width="461.5" height="7.55" fill="url(#d40)"/><rect x="102.6" y="933.46" width="461.5" height="7.55" fill="url(#d41)"/><rect x="102.6" y="940.4" width="461.5" height="7.55" fill="url(#d42)"/><rect x="102.6" y="947.35" width="461.5" height="7.55" fill="url(#d43)"/><rect x="102.6" y="954.29" width="461.5" height="7.55" fill="url(#d44)"/><rect x="102.6" y="961.24" width="461.5" height="7.55" fill="url(#d45)"/><rect x="102.6" y="968.18" width="461.5" height="7.55" fill="url(#d46)"/><rect x="102.6" y="975.13" width="461.5" height="7.55" fill="url(#d47)"/><rect x="102.6" y="982.08" width="461.5" height="7.55" fill="url(#d48)"/><rect x="102.6" y="989.02" width="461.5" height="7.55" fill="url(#d49)"/><rect x="102.6" y="995.97" width="461.5" height="7.55" fill="url(#d50)"/><rect x="102.6" y="1002.91" width="461.5" height="7.55" fill="url(#d51)"/><rect x="102.6" y="1009.86" width="461.5" height="7.55" fill="url(#d52)"/><rect x="102.6" y="1016.8" width="461.5" height="7.55" fill="url(#d53)"/><rect x="102.6" y="1023.75" width="461.5" height="7.55" fill="url(#d54)"/><rect x="102.6" y="1030.69" width="461.5" height="7.55" fill="url(#d55)"/><rect x="102.6" y="1037.64" width="461.5" height="7.55" fill="url(#d56)"/><rect x="102.6" y="1044.58" width="461.5" height="7.55" fill="url(#d57)"/><rect x="102.6" y="1051.53" width="461.5" height="7.55" fill="url(#d58)"/><rect x="102.6" y="1058.47" width="461.5" height="7.55" fill="url(#d59)"/><rect x="102.6" y="1065.42" width="461.5" height="7.55" fill="url(#d60)"/><rect x="102.6" y="1072.36" width="461.5" height="7.55" fill="url(#d61)"/><rect x="102.6" y="1079.31" width="461.5" height="7.55" fill="url(#d62)"/><rect x="102.6" y="1086.25" width="461.5" height="15.55" fill="url(#d63)"/></g></g>
<defs><linearGradient id="dcb" x1="0" y1="0" x2="0" y2="1"><stop offset="0" stop-color="#fde725"/><stop offset="0.0312" stop-color="#ece51b"/><stop offset="0.0625" stop-color="#d8e219"/><stop offset="0.0938" stop-color="#c2df23"/><stop offset="0.125" stop-color="#addc30"/><stop offset="0.1562" stop-color="#98d83e"/><stop offset="0.1875" stop-color="#84d44b"/><stop offset="0.2188" stop-color="#70cf57"/><stop offset="0.25" stop-color="#5ec962"/><stop offset="0.2812" stop-color="#4ec36b"/><stop offset="0.3125" stop-color="#3fbc73"/><stop offset="0.3438" stop-color="#32b67a"/><stop offset="0.375" stop-color="#28ae80"/><stop offset="0.4062" stop-color="#22a785"/><stop offset="0.4375" stop-color="#1fa088"/><stop offset="0.4688" stop-color="#1f988b"/><stop offset="0.5" stop-color="#21918c"/><stop offset="0.5312" stop-color="#23898e"/><stop offset="0.5625" stop-color="#26828e"/><stop offset="0.5938" stop-color="#297a8e"/><stop offset="0.625" stop-color="#2c728e"/><stop offset="0.6562" stop-color="#2f6b8e"/><stop offset="0.6875" stop-color="#33638d"/><stop offset="0.7188" stop-color="#375b8d"/><stop offset="0.75" stop-color="#3b528b"/><stop offset="0.7812" stop-color="#3e4989"/><stop offset="0.8125" stop-color="#424086"/><stop offset="0.8438" stop-color="#453781"/><stop offset="0.875" stop-color="#472d7b"/><stop offset="0.9062" stop-color="#482574"/><stop offset="0.9375" stop-color="#49206c"/><stop offset="0.9688" stop-color="#481e64"/><stop offset="1" stop-color="#471f5c"/></linearGradient></defs><rect x="578.2" y="649" width="24.4" height="444.5" fill="url(#dcb)"/>
<text x="-0.2" y="626.4" font-size="42.5" class="pl">(d)</text>
<text x="96.3" y="658.7" font-size="33" text-anchor="end">625</text>
<text x="96.3" y="769.83" font-size="33" text-anchor="end">620</text>
<text x="96.3" y="880.95" font-size="33" text-anchor="end">615</text>
<text x="96.3" y="992.08" font-size="33" text-anchor="end">610</text>
<text x="96.3" y="1103.2" font-size="33" text-anchor="end">605</text>
<text x="102.6" y="1126.6" font-size="33" text-anchor="middle">−4</text>
<text x="217.97" y="1126.6" font-size="33" text-anchor="middle">−2</text>
<text x="333.35" y="1126.6" font-size="33" text-anchor="middle">0</text>
<text x="448.73" y="1126.6" font-size="33" text-anchor="middle">2</text>
<text x="564.1" y="1126.6" font-size="33" text-anchor="middle">4</text>
<text x="333.35" y="1173.8" font-size="33" text-anchor="middle">Emission angle (deg)</text>
<text transform="translate(27.6,869.45) rotate(-90)" font-size="33" text-anchor="middle">wavelength (nm)</text>
<text x="590.4" y="629.1" font-size="33" text-anchor="middle">PLE</text>
<text x="610.8" y="1104.1" font-size="33">0</text>
<text x="610.8" y="1015.2" font-size="33">6</text>
<text x="610.8" y="926.3" font-size="33">12</text>
<text x="610.8" y="837.4" font-size="33">18</text>
<text x="610.8" y="748.5" font-size="33">24</text>
<text x="610.8" y="659.6" font-size="33">30</text>
<!-- panel e -->
<clipPath id="ec"><rect x="781.2" y="649.1" width="512.5" height="444.4999999999999"/></clipPath>
<g clip-path="url(#ec)">
<path d="M793.2,687.4C798.3,692.3 813.6,706.7 823.7,716.8C833.9,727 844.1,737.6 854.3,748.4C864.5,759.2 874.7,770.7 884.8,781.5C895,792.3 905.2,803 915.4,813.4C925.6,823.7 935.8,834.5 945.9,843.5C956.1,852.5 966.3,861.3 976.5,867.2C986.7,873 996.9,877.1 1007,878.5C1017.2,879.9 1027.4,875.6 1037.6,875.6C1047.8,875.6 1058,879.9 1068.1,878.5C1078.3,877.1 1088.5,873 1098.7,867.2C1108.9,861.3 1119.1,852.5 1129.2,843.5C1139.4,834.5 1149.6,823.7 1159.8,813.4C1170,803 1180.2,792.3 1190.3,781.5C1200.5,770.7 1210.7,759.2 1220.9,748.4C1231.1,737.6 1241.3,727 1251.4,716.8C1261.6,706.7 1276.9,692.3 1282,687.4" fill="none" stroke="#555354" stroke-width="3.6" stroke-linejoin="round"/>
<rect x="784.8" y="679" width="16.8" height="16.8" fill="#555354"/><rect x="815.3" y="708.4" width="16.8" height="16.8" fill="#555354"/><rect x="845.9" y="740" width="16.8" height="16.8" fill="#555354"/><rect x="876.4" y="773.1" width="16.8" height="16.8" fill="#555354"/><rect x="907" y="805" width="16.8" height="16.8" fill="#555354"/><rect x="937.5" y="835.1" width="16.8" height="16.8" fill="#555354"/><rect x="968.1" y="858.8" width="16.8" height="16.8" fill="#555354"/><rect x="998.6" y="870.1" width="16.8" height="16.8" fill="#555354"/><rect x="1029.2" y="867.2" width="16.8" height="16.8" fill="#555354"/><rect x="1059.7" y="870.1" width="16.8" height="16.8" fill="#555354"/><rect x="1090.3" y="858.8" width="16.8" height="16.8" fill="#555354"/><rect x="1120.8" y="835.1" width="16.8" height="16.8" fill="#555354"/><rect x="1151.4" y="805" width="16.8" height="16.8" fill="#555354"/><rect x="1181.9" y="773.1" width="16.8" height="16.8" fill="#555354"/><rect x="1212.5" y="740" width="16.8" height="16.8" fill="#555354"/><rect x="1243" y="708.4" width="16.8" height="16.8" fill="#555354"/><rect x="1273.6" y="679" width="16.8" height="16.8" fill="#555354"/>
<path d="M793.2,820.3C798.3,826.1 813.6,843.2 823.7,855.1C833.9,867 844.1,878.9 854.3,891.6C864.5,904.3 874.7,918.1 884.8,931.4C895,944.6 905.2,958.9 915.4,971.1C925.6,983.4 935.8,995.2 945.9,1005C956.1,1014.7 966.3,1022.3 976.5,1029.6C986.7,1037 996.9,1045.2 1007,1049.1C1017.2,1053.1 1027.4,1053.6 1037.6,1053.6C1047.8,1053.6 1058,1053 1068.1,1049.1C1078.3,1045.3 1088.5,1038.1 1098.7,1030.6C1108.9,1023.1 1119.1,1014.6 1129.2,1004.2C1139.4,993.8 1149.6,980.6 1159.8,968.4C1170,956.3 1180.2,943.8 1190.3,931.4C1200.5,919 1210.7,907 1220.9,894.1C1231.1,881.2 1241.3,866.2 1251.4,853.9C1261.6,841.5 1276.9,825.7 1282,820" fill="none" stroke="#a27fc1" stroke-width="3.6" stroke-linejoin="round"/>
<circle cx="793.2" cy="820.3" r="9.6" fill="#a27fc1"/><circle cx="823.7" cy="855.1" r="9.6" fill="#a27fc1"/><circle cx="854.3" cy="891.6" r="9.6" fill="#a27fc1"/><circle cx="884.8" cy="931.4" r="9.6" fill="#a27fc1"/><circle cx="915.4" cy="971.1" r="9.6" fill="#a27fc1"/><circle cx="945.9" cy="1005" r="9.6" fill="#a27fc1"/><circle cx="976.5" cy="1029.6" r="9.6" fill="#a27fc1"/><circle cx="1007" cy="1049.1" r="9.6" fill="#a27fc1"/><circle cx="1037.6" cy="1053.6" r="9.6" fill="#a27fc1"/><circle cx="1068.1" cy="1049.1" r="9.6" fill="#a27fc1"/><circle cx="1098.7" cy="1030.6" r="9.6" fill="#a27fc1"/><circle cx="1129.2" cy="1004.2" r="9.6" fill="#a27fc1"/><circle cx="1159.8" cy="968.4" r="9.6" fill="#a27fc1"/><circle cx="1190.3" cy="931.4" r="9.6" fill="#a27fc1"/><circle cx="1220.9" cy="894.1" r="9.6" fill="#a27fc1"/><circle cx="1251.4" cy="853.9" r="9.6" fill="#a27fc1"/><circle cx="1282" cy="820" r="9.6" fill="#a27fc1"/>
<path d="M793.2,932.1C798.3,931.3 813.6,928.8 823.7,927.4C833.9,926 844.1,925.5 854.3,923.7C864.5,921.9 874.7,918.9 884.8,916.6C895,914.2 905.2,911.5 915.4,909.6C925.6,907.8 935.8,906.8 945.9,905.7C956.1,904.6 966.3,904.4 976.5,903C986.7,901.5 996.9,899.5 1007,897.1C1017.2,894.6 1027.4,888.4 1037.6,888.2C1047.8,888 1058,893.6 1068.1,895.8C1078.3,898.1 1088.5,900 1098.7,901.7C1108.9,903.5 1119.1,904.5 1129.2,906.2C1139.4,907.9 1149.6,910 1159.8,911.9C1170,913.8 1180.2,916 1190.3,917.6C1200.5,919.1 1210.7,919.3 1220.9,921.3C1231.1,923.2 1241.3,926.9 1251.4,929.2C1261.6,931.4 1276.9,933.9 1282,934.8" fill="none" stroke="#3d6db9" stroke-width="3.6" stroke-linejoin="round"/>
<path d="M781.9,940.2h22.5L793.2,921z" fill="#3d6db9"/><path d="M812.5,935.5h22.5L823.7,916.3z" fill="#3d6db9"/><path d="M843,931.8h22.5L854.3,912.6z" fill="#3d6db9"/><path d="M873.6,924.7h22.5L884.8,905.5z" fill="#3d6db9"/><path d="M904.1,917.7h22.5L915.4,898.5z" fill="#3d6db9"/><path d="M934.7,913.8h22.5L945.9,894.6z" fill="#3d6db9"/><path d="M965.2,911.1h22.5L976.5,891.9z" fill="#3d6db9"/><path d="M995.8,905.2h22.5L1007,886z" fill="#3d6db9"/><path d="M1026.3,896.3h22.5L1037.6,877.1z" fill="#3d6db9"/><path d="M1056.9,903.9h22.5L1068.1,884.7z" fill="#3d6db9"/><path d="M1087.4,909.8h22.5L1098.7,890.6z" fill="#3d6db9"/><path d="M1118,914.3h22.5L1129.2,895.1z" fill="#3d6db9"/><path d="M1148.5,920h22.5L1159.8,900.8z" fill="#3d6db9"/><path d="M1179.1,925.7h22.5L1190.3,906.5z" fill="#3d6db9"/><path d="M1209.6,929.4h22.5L1220.9,910.2z" fill="#3d6db9"/><path d="M1240.2,937.3h22.5L1251.4,918.1z" fill="#3d6db9"/><path d="M1270.8,942.9h22.5L1282,923.7z" fill="#3d6db9"/>
<path d="M793.2,799C798.3,803.9 813.6,817.7 823.7,828.2C833.9,838.7 844.1,850.5 854.3,862C864.5,873.5 874.7,884.6 884.8,897.1C895,909.5 905.2,924.3 915.4,936.8C925.6,949.4 935.8,960.9 945.9,972.4C956.1,983.8 966.3,995 976.5,1005.4C986.7,1015.9 996.9,1027.2 1007,1035.3C1017.2,1043.4 1027.4,1048.7 1037.6,1054.1C1047.8,1059.5 1058,1064.7 1068.1,1067.7C1078.3,1070.6 1088.5,1072 1098.7,1071.6C1108.9,1071.2 1119.1,1068.9 1129.2,1065.4C1139.4,1062 1149.6,1056.2 1159.8,1050.9C1170,1045.6 1180.2,1039.6 1190.3,1033.6C1200.5,1027.6 1210.7,1021.3 1220.9,1014.8C1231.1,1008.3 1241.3,1001.2 1251.4,994.6C1261.6,988 1276.9,978.3 1282,975.1" fill="none" stroke="#ee3f3f" stroke-width="3.6" stroke-linejoin="round"/>
<path d="M781.9,790.9h22.5L793.2,810.1z" fill="#ee3f3f"/><path d="M812.5,820.1h22.5L823.7,839.3z" fill="#ee3f3f"/><path d="M843,853.9h22.5L854.3,873.1z" fill="#ee3f3f"/><path d="M873.6,889h22.5L884.8,908.2z" fill="#ee3f3f"/><path d="M904.1,928.7h22.5L915.4,947.9z" fill="#ee3f3f"/><path d="M934.7,964.3h22.5L945.9,983.5z" fill="#ee3f3f"/><path d="M965.2,997.3h22.5L976.5,1016.5z" fill="#ee3f3f"/><path d="M995.8,1027.2h22.5L1007,1046.4z" fill="#ee3f3f"/><path d="M1026.3,1046h22.5L1037.6,1065.2z" fill="#ee3f3f"/><path d="M1056.9,1059.6h22.5L1068.1,1078.8z" fill="#ee3f3f"/><path d="M1087.4,1063.5h22.5L1098.7,1082.7z" fill="#ee3f3f"/><path d="M1118,1057.3h22.5L1129.2,1076.5z" fill="#ee3f3f"/><path d="M1148.5,1042.8h22.5L1159.8,1062z" fill="#ee3f3f"/><path d="M1179.1,1025.5h22.5L1190.3,1044.7z" fill="#ee3f3f"/><path d="M1209.6,1006.7h22.5L1220.9,1025.9z" fill="#ee3f3f"/><path d="M1240.2,986.5h22.5L1251.4,1005.7z" fill="#ee3f3f"/><path d="M1270.8,967h22.5L1282,986.2z" fill="#ee3f3f"/>
<path d="M793.2,844.5C798.3,851.4 813.6,872.6 823.7,886.2C833.9,899.8 844.1,912.5 854.3,926.2C864.5,939.9 874.7,954.9 884.8,968.4C895,982 905.2,995.6 915.4,1007.4C925.6,1019.2 935.8,1030.7 945.9,1039.3C956.1,1047.8 966.3,1054.4 976.5,1058.8C986.7,1063.1 996.9,1065.9 1007,1065.4C1017.2,1065 1027.4,1061.7 1037.6,1056.1C1047.8,1050.4 1058,1041.7 1068.1,1031.6C1078.3,1021.5 1088.5,1009.8 1098.7,995.3C1108.9,980.9 1119.1,962.8 1129.2,945C1139.4,927.1 1149.6,907.2 1159.8,888.2C1170,869.2 1180.2,849.4 1190.3,830.9C1200.5,812.4 1210.7,796.4 1220.9,777.1C1231.1,757.8 1241.3,733.7 1251.4,715.1C1261.6,696.5 1276.9,673.5 1282,665.2" fill="none" stroke="#f26b21" stroke-width="3.6" stroke-linejoin="round"/>
<path d="M793.2,832.7l11.8,11.8l-11.8,11.8l-11.8,-11.8z" fill="#f26b21"/><path d="M823.7,874.4l11.8,11.8l-11.8,11.8l-11.8,-11.8z" fill="#f26b21"/><path d="M854.3,914.4l11.8,11.8l-11.8,11.8l-11.8,-11.8z" fill="#f26b21"/><path d="M884.8,956.6l11.8,11.8l-11.8,11.8l-11.8,-11.8z" fill="#f26b21"/><path d="M915.4,995.6l11.8,11.8l-11.8,11.8l-11.8,-11.8z" fill="#f26b21"/><path d="M945.9,1027.5l11.8,11.8l-11.8,11.8l-11.8,-11.8z" fill="#f26b21"/><path d="M976.5,1047l11.8,11.8l-11.8,11.8l-11.8,-11.8z" fill="#f26b21"/><path d="M1007,1053.6l11.8,11.8l-11.8,11.8l-11.8,-11.8z" fill="#f26b21"/><path d="M1037.6,1044.3l11.8,11.8l-11.8,11.8l-11.8,-11.8z" fill="#f26b21"/><path d="M1068.1,1019.8l11.8,11.8l-11.8,11.8l-11.8,-11.8z" fill="#f26b21"/><path d="M1098.7,983.5l11.8,11.8l-11.8,11.8l-11.8,-11.8z" fill="#f26b21"/><path d="M1129.2,933.2l11.8,11.8l-11.8,11.8l-11.8,-11.8z" fill="#f26b21"/><path d="M1159.8,876.4l11.8,11.8l-11.8,11.8l-11.8,-11.8z" fill="#f26b21"/><path d="M1190.3,819.1l11.8,11.8l-11.8,11.8l-11.8,-11.8z" fill="#f26b21"/><path d="M1220.9,765.3l11.8,11.8l-11.8,11.8l-11.8,-11.8z" fill="#f26b21"/><path d="M1251.4,703.3l11.8,11.8l-11.8,11.8l-11.8,-11.8z" fill="#f26b21"/><path d="M1282,653.4l11.8,11.8l-11.8,11.8l-11.8,-11.8z" fill="#f26b21"/>
</g>
<rect x="781.2" y="649.1" width="512.5" height="444.5" fill="none" stroke="#000" stroke-width="3.4"/><path d="M793.2,1093.6v-10.8M793.2,649.1v10.8M915.4,1093.6v-10.8M915.4,649.1v10.8M1037.6,1093.6v-10.8M1037.6,649.1v10.8M1159.8,1093.6v-10.8M1159.8,649.1v10.8M1282,1093.6v-10.8M1282,649.1v10.8M854.3,1093.6v-5.6M854.3,649.1v5.6M976.5,1093.6v-5.6M976.5,649.1v5.6M1098.7,1093.6v-5.6M1098.7,649.1v5.6M1220.9,1093.6v-5.6M1220.9,649.1v5.6M781.2,1068.9h10.8M1293.7,1068.9h-10.8M781.2,970.14h10.8M1293.7,970.14h-10.8M781.2,871.38h10.8M1293.7,871.38h-10.8M781.2,772.62h10.8M1293.7,772.62h-10.8M781.2,673.86h10.8M1293.7,673.86h-10.8M781.2,1019.52h5.6M1293.7,1019.52h-5.6M781.2,920.76h5.6M1293.7,920.76h-5.6M781.2,822h5.6M1293.7,822h-5.6M781.2,723.24h5.6M1293.7,723.24h-5.6" stroke="#000" stroke-width="3.3" fill="none"/>
<text x="685.2" y="626.4" font-size="42.5" class="pl">(e)</text>
<text x="768.6" y="1078.8" font-size="33" text-anchor="end">0</text>
<text x="768.6" y="980.04" font-size="33" text-anchor="end">4</text>
<text x="768.6" y="881.28" font-size="33" text-anchor="end">8</text>
<text x="768.6" y="782.52" font-size="33" text-anchor="end">12</text>
<text x="768.6" y="683.76" font-size="33" text-anchor="end">16</text>
<text x="793.2" y="1130.7" font-size="33" text-anchor="middle">−4</text>
<text x="915.4" y="1130.7" font-size="33" text-anchor="middle">−2</text>
<text x="1037.6" y="1130.7" font-size="33" text-anchor="middle">0</text>
<text x="1159.8" y="1130.7" font-size="33" text-anchor="middle">2</text>
<text x="1282" y="1130.7" font-size="33" text-anchor="middle">4</text>
<text x="1037.45" y="1172.6" font-size="33" text-anchor="middle">Incident angle (deg)</text>
<text transform="translate(722.3,872.05) rotate(-90)" font-size="33" text-anchor="middle">Decay Rate (ps<tspan font-size="22" dy="-13">-1</tspan><tspan dy="13">)</tspan></text>
<rect x="909.2" y="670.3" width="16.8" height="16.8" fill="#555354"/>
<text x="937.2" y="689.5" font-size="33">Γ<tspan font-size="22" dy="8.8" dx="-0.5">tot</tspan></text>
<circle cx="1028.1" cy="678.6" r="9.6" fill="#a27fc1"/>
<text x="1047.8" y="689.5" font-size="33">Γ<tspan font-size="22" dy="8.8" dx="-0.5">rad</tspan></text>
<path d="M1127.3,685.4h22.5L1138.6,666.2z" fill="#3d6db9"/>
<text x="1158" y="689.5" font-size="33">Γ<tspan font-size="22" dy="8.8" dx="-0.5">abs</tspan></text>
<path d="M906.4,724.8h22.5L917.6,744z" fill="#ee3f3f"/>
<text x="937.2" y="741.9" font-size="33">Γ<tspan font-size="22" dy="8.8" dx="-0.5">rad,<tspan font-size="31.7" dx="-2.42" dy="3.3">↑</tspan></tspan></text>
<path d="M1028.2,719.7l11.8,11.8l-11.8,11.8l-11.8,-11.8z" fill="#f26b21"/>
<text x="1047.8" y="741.9" font-size="33">Γ<tspan font-size="22" dy="8.8" dx="-0.5">rad,<tspan font-size="31.7" dx="-2.42" dy="3.3">↓</tspan></tspan></text>
<!-- panel f -->
<clipPath id="fc"><rect x="1438.9" y="649.1" width="512.5" height="444.4"/></clipPath>
<g clip-path="url(#fc)">
<rect x="1444.6" y="839.6" width="12.7" height="12.7" fill="#ee3f3f"/><rect x="1450.7" y="838" width="12.7" height="12.7" fill="#555354"/><rect x="1456.8" y="836.5" width="12.7" height="12.7" fill="#555354"/><rect x="1462.9" y="835" width="12.7" height="12.7" fill="#555354"/><rect x="1469" y="833.6" width="12.7" height="12.7" fill="#555354"/><rect x="1475.1" y="832.2" width="12.7" height="12.7" fill="#ee3f3f"/><rect x="1481.2" y="830.9" width="12.7" height="12.7" fill="#555354"/><rect x="1487.3" y="829.6" width="12.7" height="12.7" fill="#555354"/><rect x="1493.4" y="828.3" width="12.7" height="12.7" fill="#555354"/><rect x="1499.5" y="827.2" width="12.7" height="12.7" fill="#555354"/><rect x="1505.6" y="826.3" width="12.7" height="12.7" fill="#ee3f3f"/><rect x="1511.7" y="825.5" width="12.7" height="12.7" fill="#555354"/><rect x="1517.8" y="824.7" width="12.7" height="12.7" fill="#555354"/><rect x="1523.9" y="824" width="12.7" height="12.7" fill="#555354"/><rect x="1530" y="823.5" width="12.7" height="12.7" fill="#555354"/><rect x="1536.1" y="823.4" width="12.7" height="12.7" fill="#ee3f3f"/><rect x="1542.2" y="823.6" width="12.7" height="12.7" fill="#555354"/><rect x="1548.3" y="824.4" width="12.7" height="12.7" fill="#555354"/><rect x="1554.4" y="825.5" width="12.7" height="12.7" fill="#555354"/><rect x="1560.5" y="826.8" width="12.7" height="12.7" fill="#555354"/><rect x="1566.6" y="828.3" width="12.7" height="12.7" fill="#ee3f3f"/><rect x="1572.7" y="830.2" width="12.7" height="12.7" fill="#555354"/><rect x="1578.8" y="832.9" width="12.7" height="12.7" fill="#555354"/><rect x="1584.9" y="836.3" width="12.7" height="12.7" fill="#555354"/><rect x="1591" y="840.4" width="12.7" height="12.7" fill="#555354"/><polygon points="1603.4,839.9 1606.1,847.7 1614.3,847.9 1607.8,852.9 1610.2,860.7 1603.4,856 1596.6,860.7 1599,852.9 1592.5,847.9 1600.7,847.7" fill="#ee3f3f"/><rect x="1603.2" y="851.6" width="12.7" height="12.7" fill="#555354"/><rect x="1609.3" y="860.7" width="12.7" height="12.7" fill="#555354"/><rect x="1615.4" y="871.4" width="12.7" height="12.7" fill="#555354"/><rect x="1621.5" y="883" width="12.7" height="12.7" fill="#555354"/><rect x="1627.6" y="894.5" width="12.7" height="12.7" fill="#ee3f3f"/><rect x="1633.7" y="906.4" width="12.7" height="12.7" fill="#555354"/><rect x="1639.8" y="919.3" width="12.7" height="12.7" fill="#555354"/><rect x="1645.9" y="932.8" width="12.7" height="12.7" fill="#555354"/><rect x="1652" y="946.4" width="12.7" height="12.7" fill="#555354"/><rect x="1658.1" y="959.7" width="12.7" height="12.7" fill="#ee3f3f"/><rect x="1664.2" y="973.2" width="12.7" height="12.7" fill="#555354"/><rect x="1670.3" y="987.2" width="12.7" height="12.7" fill="#555354"/><rect x="1676.4" y="1001" width="12.7" height="12.7" fill="#555354"/><rect x="1682.5" y="1013.8" width="12.7" height="12.7" fill="#555354"/><rect x="1688.6" y="1024.9" width="12.7" height="12.7" fill="#ee3f3f"/><rect x="1694.7" y="1035" width="12.7" height="12.7" fill="#555354"/><rect x="1700.8" y="1044.8" width="12.7" height="12.7" fill="#555354"/><rect x="1706.9" y="1053.6" width="12.7" height="12.7" fill="#555354"/><rect x="1713" y="1060.7" width="12.7" height="12.7" fill="#555354"/><rect x="1719.1" y="1065.4" width="12.7" height="12.7" fill="#ee3f3f"/><rect x="1725.2" y="1068.6" width="12.7" height="12.7" fill="#555354"/><rect x="1731.3" y="1071.5" width="12.7" height="12.7" fill="#555354"/><rect x="1737.4" y="1073.8" width="12.7" height="12.7" fill="#555354"/><rect x="1743.5" y="1075.3" width="12.7" height="12.7" fill="#555354"/><rect x="1749.6" y="1075.9" width="12.7" height="12.7" fill="#ee3f3f"/><rect x="1755.7" y="1075.2" width="12.7" height="12.7" fill="#555354"/><rect x="1761.8" y="1073.5" width="12.7" height="12.7" fill="#555354"/><rect x="1767.9" y="1070.9" width="12.7" height="12.7" fill="#555354"/><rect x="1774" y="1068" width="12.7" height="12.7" fill="#555354"/><polygon points="1786.4,1059.9 1789.1,1067.6 1797.3,1067.8 1790.8,1072.8 1793.2,1080.7 1786.4,1076 1779.6,1080.7 1782,1072.8 1775.5,1067.8 1783.7,1067.6" fill="#ee3f3f"/><rect x="1786.2" y="1061.6" width="12.7" height="12.7" fill="#555354"/><rect x="1792.3" y="1057.3" width="12.7" height="12.7" fill="#555354"/><rect x="1798.4" y="1052.5" width="12.7" height="12.7" fill="#555354"/><rect x="1804.5" y="1047.8" width="12.7" height="12.7" fill="#555354"/><rect x="1810.6" y="1043.4" width="12.7" height="12.7" fill="#ee3f3f"/><rect x="1816.7" y="1039.4" width="12.7" height="12.7" fill="#555354"/><rect x="1822.8" y="1035.4" width="12.7" height="12.7" fill="#555354"/><rect x="1828.9" y="1031.6" width="12.7" height="12.7" fill="#555354"/><rect x="1835" y="1027.9" width="12.7" height="12.7" fill="#555354"/><rect x="1841.1" y="1024.4" width="12.7" height="12.7" fill="#ee3f3f"/><rect x="1847.2" y="1021" width="12.7" height="12.7" fill="#555354"/><rect x="1853.3" y="1017.7" width="12.7" height="12.7" fill="#555354"/><rect x="1859.4" y="1014.6" width="12.7" height="12.7" fill="#555354"/><rect x="1865.5" y="1011.7" width="12.7" height="12.7" fill="#555354"/><rect x="1871.6" y="1009.1" width="12.7" height="12.7" fill="#ee3f3f"/><rect x="1877.7" y="1006.8" width="12.7" height="12.7" fill="#555354"/><rect x="1883.8" y="1004.8" width="12.7" height="12.7" fill="#555354"/><rect x="1889.9" y="1002.8" width="12.7" height="12.7" fill="#555354"/><rect x="1896" y="1001.1" width="12.7" height="12.7" fill="#555354"/><rect x="1902.1" y="999.5" width="12.7" height="12.7" fill="#ee3f3f"/><rect x="1908.2" y="998" width="12.7" height="12.7" fill="#555354"/><rect x="1914.3" y="996.7" width="12.7" height="12.7" fill="#555354"/><rect x="1920.4" y="995.4" width="12.7" height="12.7" fill="#555354"/><rect x="1926.5" y="994.3" width="12.7" height="12.7" fill="#555354"/><rect x="1932.6" y="993.3" width="12.7" height="12.7" fill="#ee3f3f"/>
<path d="M1450.9,879.1 L1457,876.7 L1463.1,874.2 L1469.2,871.9 L1475.3,869.5 L1481.4,867.2 L1487.5,865 L1493.6,862.7 L1499.7,860.5 L1505.8,858.4 L1511.9,856.4 L1518,854.5 L1524.1,852.6 L1530.2,850.9 L1536.3,849.5 L1542.4,848.1 L1548.5,847 L1554.6,846.5 L1560.7,846.8 L1566.8,847.5 L1572.9,848.5 L1579,850.5 L1585.1,853.9 L1591.2,858.4 L1597.3,863.3 L1603.4,869.2 L1609.5,876.7 L1615.6,885.2 L1621.7,894.5 L1627.8,904.4 L1633.9,915.8 L1640,928.3 L1646.1,941.4 L1652.2,954.5 L1658.3,968.1 L1664.4,982.2 L1670.5,996.3 L1676.6,1009.7 L1682.7,1022.1 L1688.8,1033.8 L1694.9,1044.1 L1701,1053.1 L1707.1,1061 L1713.2,1067.8 L1719.3,1073.7 L1725.4,1078.9 L1731.5,1082.6 L1737.6,1085.4 L1743.7,1087.7 L1749.8,1089.1 L1755.9,1089.2 L1762,1088.2 L1768.1,1086.5 L1774.2,1084.6 L1780.3,1082.2 L1786.4,1079.1 L1792.5,1075.7 L1798.6,1072.2 L1804.7,1068.3 L1810.8,1064.3 L1816.9,1060.6 L1823,1057.1 L1829.1,1053.7 L1835.2,1050.3 L1841.3,1047.1 L1847.4,1044.1 L1853.5,1041.1 L1859.6,1038.2 L1865.7,1035.4 L1871.8,1032.9 L1877.9,1030.8 L1884,1029 L1890.1,1027.4 L1896.2,1025.9 L1902.3,1024.6 L1908.4,1023.4 L1914.5,1022.1 L1920.6,1021 L1926.7,1019.9 L1932.8,1018.9 L1938.9,1018" fill="none" stroke="#ee3f3f" stroke-width="3.2" stroke-linejoin="round" stroke-linecap="round"/>
<circle cx="1450.9" cy="882.5" r="7.2" fill="#3d6db9"/><circle cx="1457" cy="884.6" r="7.2" fill="#3d6db9"/><circle cx="1463.1" cy="887" r="7.2" fill="#3d6db9"/><circle cx="1469.2" cy="889.6" r="7.2" fill="#3d6db9"/><circle cx="1475.3" cy="892.3" r="7.2" fill="#3d6db9"/><circle cx="1481.4" cy="895.2" r="7.2" fill="#3d6db9"/><circle cx="1487.5" cy="898.3" r="7.2" fill="#3d6db9"/><circle cx="1493.6" cy="901.6" r="7.2" fill="#3d6db9"/><circle cx="1499.7" cy="905.2" r="7.2" fill="#3d6db9"/><circle cx="1505.8" cy="908.9" r="7.2" fill="#3d6db9"/><circle cx="1511.9" cy="912.7" r="7.2" fill="#3d6db9"/><circle cx="1518" cy="916.6" r="7.2" fill="#3d6db9"/><circle cx="1524.1" cy="920.7" r="7.2" fill="#3d6db9"/><circle cx="1530.2" cy="925" r="7.2" fill="#3d6db9"/><circle cx="1536.3" cy="929.6" r="7.2" fill="#3d6db9"/><circle cx="1542.4" cy="934.4" r="7.2" fill="#3d6db9"/><circle cx="1548.5" cy="939.7" r="7.2" fill="#3d6db9"/><circle cx="1554.6" cy="945.4" r="7.2" fill="#3d6db9"/><circle cx="1560.7" cy="951.4" r="7.2" fill="#3d6db9"/><circle cx="1566.8" cy="957.8" r="7.2" fill="#3d6db9"/><circle cx="1572.9" cy="964.4" r="7.2" fill="#3d6db9"/><circle cx="1579" cy="971.3" r="7.2" fill="#3d6db9"/><circle cx="1585.1" cy="978.7" r="7.2" fill="#3d6db9"/><circle cx="1591.2" cy="986.4" r="7.2" fill="#3d6db9"/><circle cx="1597.3" cy="994.3" r="7.2" fill="#3d6db9"/><circle cx="1603.4" cy="1002.3" r="7.2" fill="#3d6db9"/><circle cx="1609.5" cy="1010.4" r="7.2" fill="#3d6db9"/><circle cx="1615.6" cy="1018.8" r="7.2" fill="#3d6db9"/><circle cx="1621.7" cy="1027.4" r="7.2" fill="#3d6db9"/><circle cx="1627.8" cy="1035.9" r="7.2" fill="#3d6db9"/><circle cx="1633.9" cy="1044.3" r="7.2" fill="#3d6db9"/><circle cx="1640" cy="1053.1" r="7.2" fill="#3d6db9"/><circle cx="1646.1" cy="1061.4" r="7.2" fill="#3d6db9"/><circle cx="1652.2" cy="1068.1" r="7.2" fill="#3d6db9"/><circle cx="1658.3" cy="1073.8" r="7.2" fill="#3d6db9"/><circle cx="1664.4" cy="1074.3" r="7.2" fill="#3d6db9"/><circle cx="1670.5" cy="1071.7" r="7.2" fill="#3d6db9"/><circle cx="1676.6" cy="1067.8" r="7.2" fill="#3d6db9"/><circle cx="1682.7" cy="1061" r="7.2" fill="#3d6db9"/><circle cx="1688.8" cy="1051.1" r="7.2" fill="#3d6db9"/><circle cx="1694.9" cy="1041.1" r="7.2" fill="#3d6db9"/><circle cx="1701" cy="1032.2" r="7.2" fill="#3d6db9"/><circle cx="1707.1" cy="1019.1" r="7.2" fill="#3d6db9"/><circle cx="1713.2" cy="1002.6" r="7.2" fill="#3d6db9"/><circle cx="1719.3" cy="984.5" r="7.2" fill="#3d6db9"/><circle cx="1725.4" cy="966.5" r="7.2" fill="#3d6db9"/><circle cx="1731.5" cy="948.5" r="7.2" fill="#3d6db9"/><circle cx="1737.6" cy="929.6" r="7.2" fill="#3d6db9"/><circle cx="1743.7" cy="910.5" r="7.2" fill="#3d6db9"/><circle cx="1749.8" cy="891.8" r="7.2" fill="#3d6db9"/><circle cx="1755.9" cy="874.2" r="7.2" fill="#3d6db9"/><circle cx="1762" cy="857.2" r="7.2" fill="#3d6db9"/><circle cx="1768.1" cy="840.4" r="7.2" fill="#3d6db9"/><circle cx="1774.2" cy="824.3" r="7.2" fill="#3d6db9"/><circle cx="1780.3" cy="809.6" r="7.2" fill="#3d6db9"/><circle cx="1786.4" cy="797.1" r="7.2" fill="#3d6db9"/><circle cx="1792.5" cy="786.1" r="7.2" fill="#3d6db9"/><circle cx="1798.6" cy="775.9" r="7.2" fill="#3d6db9"/><circle cx="1804.7" cy="766.7" r="7.2" fill="#3d6db9"/><circle cx="1810.8" cy="758.8" r="7.2" fill="#3d6db9"/><circle cx="1816.9" cy="752.6" r="7.2" fill="#3d6db9"/><circle cx="1823" cy="747.6" r="7.2" fill="#3d6db9"/><circle cx="1829.1" cy="743.2" r="7.2" fill="#3d6db9"/><circle cx="1835.2" cy="739.4" r="7.2" fill="#3d6db9"/><circle cx="1841.3" cy="736.3" r="7.2" fill="#3d6db9"/><circle cx="1847.4" cy="733.9" r="7.2" fill="#3d6db9"/><circle cx="1853.5" cy="731.9" r="7.2" fill="#3d6db9"/><circle cx="1859.6" cy="730" r="7.2" fill="#3d6db9"/><circle cx="1865.7" cy="728.4" r="7.2" fill="#3d6db9"/><circle cx="1871.8" cy="727.3" r="7.2" fill="#3d6db9"/><circle cx="1877.9" cy="727" r="7.2" fill="#3d6db9"/><circle cx="1884" cy="727" r="7.2" fill="#3d6db9"/><circle cx="1890.1" cy="727.1" r="7.2" fill="#3d6db9"/><circle cx="1896.2" cy="727.4" r="7.2" fill="#3d6db9"/><circle cx="1902.3" cy="727.6" r="7.2" fill="#3d6db9"/><circle cx="1908.4" cy="727.9" r="7.2" fill="#3d6db9"/><circle cx="1914.5" cy="728.4" r="7.2" fill="#3d6db9"/><circle cx="1920.6" cy="729" r="7.2" fill="#3d6db9"/><circle cx="1926.7" cy="729.9" r="7.2" fill="#3d6db9"/><circle cx="1932.8" cy="730.8" r="7.2" fill="#3d6db9"/><circle cx="1938.9" cy="731.9" r="7.2" fill="#3d6db9"/>
<path d="M1450.9,914.7 L1457,915.9 L1463.1,917.2 L1469.2,918.6 L1475.3,920.1 L1481.4,921.6 L1487.5,923.1 L1493.6,924.7 L1499.7,926.4 L1505.8,928.3 L1511.9,930.5 L1518,933 L1524.1,935.9 L1530.2,939.2 L1536.3,942.8 L1542.4,946.7 L1548.5,950.9 L1554.6,955.6 L1560.7,960.8 L1566.8,966.2 L1572.9,972 L1579,978.1 L1585.1,984.8 L1591.2,991.9 L1597.3,999.2 L1603.4,1006.6 L1609.5,1014.1 L1615.6,1022 L1621.7,1030 L1627.8,1038 L1633.9,1045.7 L1640,1053.6 L1646.1,1060.9 L1652.2,1066.5 L1658.3,1071 L1664.4,1071.4 L1670.5,1068.8 L1676.6,1064.8 L1682.7,1058.8 L1688.8,1050 L1694.9,1040.1 L1701,1029.4 L1707.1,1017.3 L1713.2,1004 L1719.3,989.8 L1725.4,974.9 L1731.5,958.6 L1737.6,940.4 L1743.7,921.4 L1749.8,902.6 L1755.9,885 L1762,868.1 L1768.1,851.1 L1774.2,834.8 L1780.3,820.1 L1786.4,808 L1792.5,797.5 L1798.6,787.8 L1804.7,779.3 L1810.8,772.3 L1816.9,767.5 L1823,764 L1829.1,761 L1835.2,758.6 L1841.3,756.7 L1847.4,755.6 L1853.5,754.9 L1859.6,754.6 L1865.7,755.1 L1871.8,756.3 L1877.9,757.6 L1884,759.1 L1890.1,760.9 L1896.2,762.9 L1902.3,765 L1908.4,766.9 L1914.5,768.6 L1920.6,770.4 L1926.7,772.1 L1932.8,773.7 L1938.9,775.4" fill="none" stroke="#3aaa64" stroke-width="3.2" stroke-linejoin="round" stroke-linecap="round"/>
</g>
<rect x="1438.9" y="649.1" width="512.5" height="444.4" fill="none" stroke="#000" stroke-width="3.4"/><path d="M1450.9,1093.5v-10.8M1450.9,649.1v10.8M1572.9,1093.5v-10.8M1572.9,649.1v10.8M1694.9,1093.5v-10.8M1694.9,649.1v10.8M1816.9,1093.5v-10.8M1816.9,649.1v10.8M1938.9,1093.5v-10.8M1938.9,649.1v10.8M1511.9,1093.5v-5.6M1511.9,649.1v5.6M1633.9,1093.5v-5.6M1633.9,649.1v5.6M1755.9,1093.5v-5.6M1755.9,649.1v5.6M1877.9,1093.5v-5.6M1877.9,649.1v5.6M1438.9,994.7h10.8M1951.4,994.7h-10.8M1438.9,895.9h10.8M1951.4,895.9h-10.8M1438.9,797.1h10.8M1951.4,797.1h-10.8M1438.9,698.3h10.8M1951.4,698.3h-10.8M1438.9,1044.1h5.6M1951.4,1044.1h-5.6M1438.9,945.3h5.6M1951.4,945.3h-5.6M1438.9,846.5h5.6M1951.4,846.5h-5.6M1438.9,747.7h5.6M1951.4,747.7h-5.6" stroke="#000" stroke-width="3.3" fill="none"/>
<text x="1351" y="626.4" font-size="42.5" class="pl">(f)</text>
<text x="1425.9" y="1103.4" font-size="33" text-anchor="end">0</text>
<text x="1425.9" y="1004.6" font-size="33" text-anchor="end">10</text>
<text x="1425.9" y="905.8" font-size="33" text-anchor="end">20</text>
<text x="1425.9" y="807" font-size="33" text-anchor="end">30</text>
<text x="1425.9" y="708.2" font-size="33" text-anchor="end">40</text>
<text x="1450.9" y="1130.7" font-size="33" text-anchor="middle">−4</text>
<text x="1572.9" y="1130.7" font-size="33" text-anchor="middle">−2</text>
<text x="1694.9" y="1130.7" font-size="33" text-anchor="middle">0</text>
<text x="1816.9" y="1130.7" font-size="33" text-anchor="middle">2</text>
<text x="1938.9" y="1130.7" font-size="33" text-anchor="middle">4</text>
<text x="1695.15" y="1172.6" font-size="33" text-anchor="middle">Emission angle (deg)</text>
<text transform="translate(1380.7,871.8) rotate(-90)" font-size="33" text-anchor="middle">PLE</text>
<rect x="1486.1" y="678.1" width="12.7" height="12.7" fill="#555354"/>
<text x="1530.6" y="695.4" font-size="33">PLE (FDTD,<tspan font-size="47.5" dx="-3.62" dy="4.95">↑</tspan><tspan dx="-3.62" dy="-4.95">)</tspan></text>
<path d="M1463.0,725.7H1522.4" stroke="#ee3f3f" stroke-width="3.4" stroke-linecap="round"/>
<text x="1530.6" y="736.7" font-size="33">PLE (Model,<tspan font-size="47.5" dx="-3.62" dy="4.95">↑</tspan><tspan dx="-3.62" dy="-4.95">)</tspan></text>
<circle cx="1492.4" cy="767.2" r="7.2" fill="#3d6db9"/>
<text x="1530.6" y="778" font-size="33">PLE (FDTD,<tspan font-size="47.5" dx="-3.62" dy="4.95">↓</tspan><tspan dx="-3.62" dy="-4.95">)</tspan></text>
<path d="M1463.0,808.3H1522.4" stroke="#3aaa64" stroke-width="3.4" stroke-linecap="round"/>
<text x="1530.6" y="819.3" font-size="33">PLE (Model,<tspan font-size="47.5" dx="-3.62" dy="4.95">↓</tspan><tspan dx="-3.62" dy="-4.95">)</tspan></text>
</svg>
</body></html>
